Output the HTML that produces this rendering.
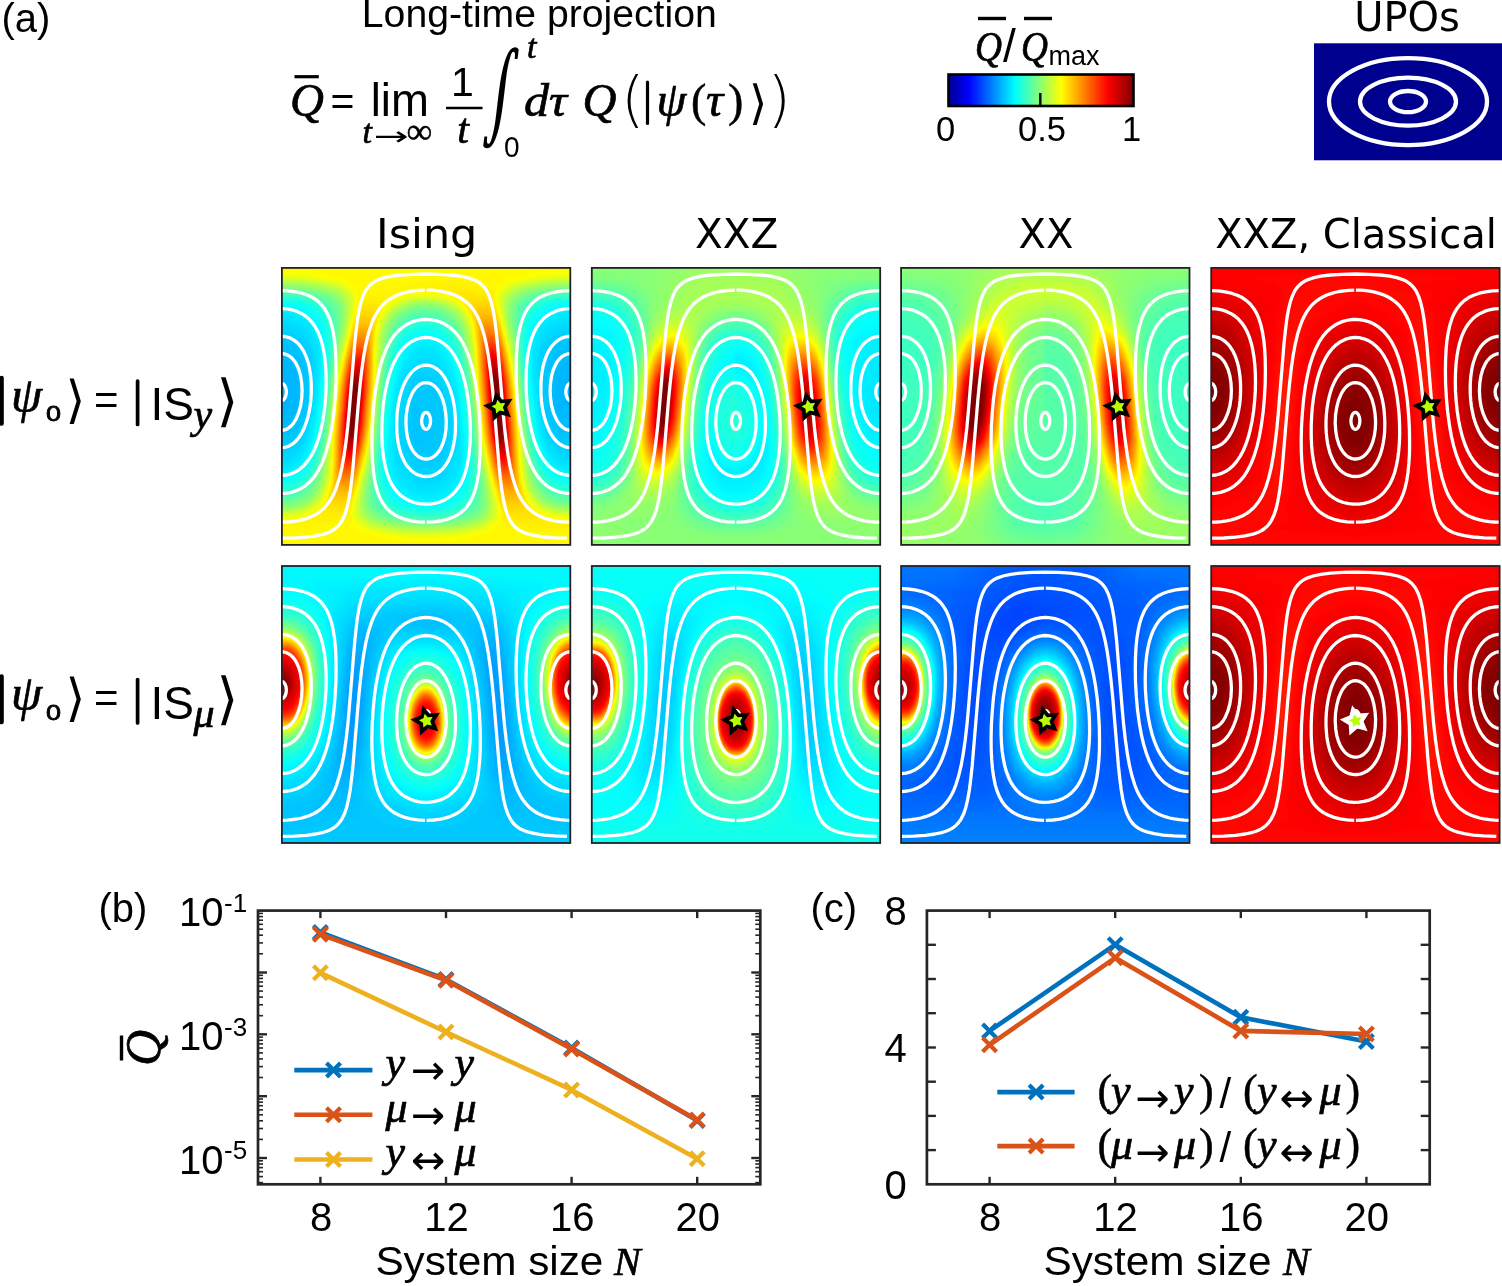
<!DOCTYPE html><html><head><meta charset="utf-8"><title>Long-time projection</title>
<style>html,body{margin:0;padding:0;background:#fff}body{position:relative;width:1502px;height:1286px;overflow:hidden}svg{position:absolute;left:0;top:0;display:block}.hm{position:absolute;width:288.4px;height:277.0px;overflow:hidden;background:#888}.hm div{position:absolute;left:-3px;top:-14px;width:294.4px;filter:url(#jet)}.hm p{margin:0;padding:0;width:100%}text{fill:#000}.s{font-family:"Liberation Sans",sans-serif}.d{font-family:"DejaVu Sans","Liberation Sans",sans-serif}.m{font-family:"Liberation Serif",serif;font-style:italic;stroke:#000;stroke-width:.7px}.r{font-family:"Liberation Serif",serif;stroke:#000;stroke-width:.5px}</style></head><body>
<div class="hm" style="left:281.9px;top:267.9px"><div><p style="height:20.93px;background:linear-gradient(90deg,#a1a1a1 0,#a1a1a1 100%)"></p><p style="height:6.92px;background:linear-gradient(90deg,#969696 0,#999999 9.4%,#a1a1a1 17.7%,#a1a1a1 50%,#a1a1a1 82.3%,#999999 90.6%,#969696 100%)"></p><p style="height:6.92px;background:linear-gradient(90deg,#848484 0,#858585 6.8%,#8c8c8c 14.1%,#939393 18.8%,#a0a0a0 24%,#a3a3a3 59.4%,#a0a0a0 76%,#939393 81.2%,#8c8c8c 85.9%,#858585 93.2%,#848484 100%)"></p><p style="height:6.92px;background:linear-gradient(90deg,#747474 0,#777777 7.8%,#818181 16.1%,#8a8a8a 20.3%,#a1a1a1 26.6%,#a2a2a2 49.5%,#a5a5a5 64.6%,#a2a2a2 73.4%,#898989 80.2%,#7d7d7d 86.5%,#767676 93.8%,#747474 100%)"></p><p style="height:6.92px;background:linear-gradient(90deg,#666666 0,#696969 7.3%,#797979 16.7%,#848484 20.8%,#a3a3a3 27.6%,#a3a3a3 39.1%,#969696 44.8%,#929292 49.5%,#979797 54.7%,#a5a5a5 60.9%,#a7a7a7 67.2%,#a5a5a5 72.4%,#848484 79.2%,#787878 83.9%,#696969 92.7%,#666666 100%)"></p><p style="height:6.92px;background:linear-gradient(90deg,#5f5f5f 0,#616161 7.8%,#686868 12.5%,#7f7f7f 20.8%,#878787 22.4%,#a0a0a0 26.6%,#a5a5a5 28.1%,#a5a5a5 33.9%,#a3a3a3 35.4%,#888888 43.2%,#828282 46.4%,#808080 49.5%,#828282 53.1%,#868686 55.7%,#909090 58.9%,#a6a6a6 64.1%,#a9a9a9 65.6%,#aaaaaa 68.8%,#a9a9a9 71.9%,#a6a6a6 72.9%,#9a9a9a 75%,#888888 77.6%,#808080 79.2%,#757575 82.3%,#686868 87.5%,#616161 92.2%,#5f5f5f 100%)"></p><p style="height:6.92px;background:linear-gradient(90deg,#5a5a5a 0,#5d5d5d 7.8%,#646464 13.5%,#7d7d7d 20.8%,#868686 22.4%,#a1a1a1 26%,#a8a8a8 28.1%,#a8a8a8 32.3%,#a6a6a6 33.3%,#a3a3a3 34.4%,#898989 39.1%,#818181 41.1%,#797979 44.8%,#767676 49.5%,#797979 54.2%,#818181 58.3%,#8b8b8b 60.9%,#aaaaaa 66.1%,#aeaeae 67.7%,#afafaf 69.8%,#aeaeae 71.9%,#a9a9a9 73.4%,#9e9e9e 75%,#888888 77.6%,#7f7f7f 79.2%,#767676 81.2%,#646464 86.5%,#5d5d5d 92.2%,#5a5a5a 100%)"></p><p style="height:6.92px;background:linear-gradient(90deg,#575757 0,#5a5a5a 8.3%,#636363 14.6%,#7d7d7d 20.8%,#878787 22.4%,#a6a6a6 26%,#acacac 27.6%,#acacac 30.7%,#a9a9a9 32.3%,#a4a4a4 33.3%,#878787 37.5%,#797979 41.1%,#707070 45.3%,#6d6d6d 49.5%,#717171 54.7%,#7c7c7c 59.4%,#8a8a8a 62.5%,#adadad 67.2%,#b3b3b3 68.8%,#b4b4b4 70.8%,#b3b3b3 72.4%,#adadad 74%,#8a8a8a 77.6%,#838383 78.6%,#777777 80.7%,#646464 84.9%,#5f5f5f 87.5%,#5b5b5b 91.1%,#575757 100%)"></p><p style="height:6.92px;background:linear-gradient(90deg,#555555 0,#585858 8.9%,#5d5d5d 13%,#636363 15.6%,#757575 19.3%,#828282 21.4%,#8a8a8a 22.4%,#9f9f9f 24.5%,#adadad 26%,#b1b1b1 28.1%,#b1b1b1 30.2%,#acacac 31.8%,#868686 36.5%,#797979 39.1%,#717171 41.7%,#696969 44.8%,#666666 47.4%,#656565 51%,#686868 54.2%,#727272 58.3%,#7e7e7e 61.5%,#8e8e8e 64.1%,#b4b4b4 68.2%,#bababa 69.8%,#bbbbbb 71.4%,#b9b9b9 72.9%,#b4b4b4 74%,#a6a6a6 75.5%,#8e8e8e 77.6%,#858585 78.6%,#777777 80.7%,#636363 84.4%,#5d5d5d 87%,#585858 91.1%,#555555 100%)"></p><p style="height:6.92px;background:linear-gradient(90deg,#535353 0,#575757 9.4%,#5d5d5d 13.5%,#636363 16.1%,#6c6c6c 17.7%,#858585 21.4%,#8e8e8e 22.4%,#b1b1b1 25.5%,#b8b8b8 27.1%,#b8b8b8 28.1%,#b7b7b7 29.7%,#b4b4b4 30.7%,#a7a7a7 32.3%,#919191 34.4%,#858585 35.9%,#767676 38.5%,#686868 42.2%,#636363 44.8%,#606060 48.4%,#616161 52.6%,#646464 55.7%,#6b6b6b 58.3%,#7b7b7b 62%,#929292 65.1%,#aeaeae 67.7%,#bcbcbc 69.3%,#c1c1c1 70.3%,#c3c3c3 71.9%,#c1c1c1 72.9%,#b9b9b9 74.5%,#aeaeae 75.5%,#939393 77.6%,#898989 78.6%,#6d6d6d 82.3%,#646464 83.9%,#5d5d5d 86.5%,#575757 90.6%,#535353 100%)"></p><p style="height:6.92px;background:linear-gradient(90deg,#515151 0,#525252 5.2%,#565656 9.9%,#5b5b5b 13.5%,#626262 16.1%,#6b6b6b 17.7%,#898989 21.4%,#949494 22.4%,#afafaf 24.5%,#bababa 25.5%,#bfbfbf 26.6%,#c0c0c0 27.6%,#bfbfbf 29.2%,#bbbbbb 30.2%,#ababab 31.8%,#989898 33.3%,#8a8a8a 34.9%,#787878 37.5%,#676767 40.6%,#606060 43.8%,#5d5d5d 47.9%,#5d5d5d 52.6%,#626262 56.8%,#6b6b6b 59.9%,#7e7e7e 63%,#999999 66.1%,#b3b3b3 68.2%,#c3c3c3 69.8%,#cccccc 71.9%,#cbcbcb 72.9%,#c2c2c2 74.5%,#b7b7b7 75.5%,#9a9a9a 77.6%,#898989 79.2%,#6c6c6c 82.3%,#636363 83.9%,#5b5b5b 86.5%,#565656 90.1%,#525252 94.8%,#515151 100%)"></p><p style="height:6.92px;background:linear-gradient(90deg,#505050 0,#515151 5.2%,#545454 9.9%,#5a5a5a 13.5%,#626262 16.1%,#6b6b6b 17.7%,#8a8a8a 20.8%,#9b9b9b 22.4%,#b8b8b8 24.5%,#c3c3c3 25.5%,#c8c8c8 26.6%,#cacaca 27.6%,#c8c8c8 28.6%,#c3c3c3 29.7%,#b8b8b8 30.7%,#9c9c9c 32.8%,#888888 34.9%,#6f6f6f 38%,#656565 40.1%,#5e5e5e 43.2%,#5a5a5a 47.9%,#5b5b5b 53.1%,#5f5f5f 57.3%,#686868 60.4%,#757575 62.5%,#878787 64.6%,#9c9c9c 66.7%,#c0c0c0 69.3%,#cccccc 70.3%,#d3d3d3 71.4%,#d7d7d7 72.4%,#d3d3d3 73.4%,#cccccc 74.5%,#b9b9b9 76%,#a1a1a1 77.6%,#888888 79.7%,#6d6d6d 82.3%,#636363 83.9%,#5b5b5b 86.5%,#545454 90.1%,#515151 94.8%,#505050 100%)"></p><p style="height:6.92px;background:linear-gradient(90deg,#4f4f4f 0,#505050 5.7%,#545454 10.4%,#5a5a5a 13.5%,#636363 16.1%,#6d6d6d 17.7%,#8f8f8f 20.8%,#a3a3a3 22.4%,#bbbbbb 24%,#c9c9c9 25%,#d1d1d1 26%,#d4d4d4 27.1%,#d2d2d2 28.1%,#cccccc 29.2%,#c0c0c0 30.2%,#a2a2a2 32.3%,#8b8b8b 34.4%,#6f6f6f 37.5%,#646464 39.6%,#5d5d5d 42.7%,#585858 47.4%,#595959 53.1%,#5e5e5e 57.8%,#676767 60.9%,#757575 63%,#898989 65.1%,#a1a1a1 67.2%,#c7c7c7 69.8%,#d5d5d5 70.8%,#e0e0e0 72.4%,#e1e1e1 72.9%,#dadada 74%,#d1d1d1 75%,#c2c2c2 76%,#a8a8a8 77.6%,#8d8d8d 79.7%,#6f6f6f 82.3%,#646464 83.9%,#5a5a5a 86.5%,#545454 89.6%,#505050 94.3%,#4f4f4f 100%)"></p><p style="height:6.92px;background:linear-gradient(90deg,#4e4e4e 0,#4f4f4f 5.7%,#535353 10.4%,#5a5a5a 13.5%,#646464 16.1%,#6f6f6f 17.7%,#7b7b7b 18.8%,#a3a3a3 21.9%,#c5c5c5 24%,#d4d4d4 25%,#dcdcdc 26%,#dfdfdf 27.1%,#dadada 28.1%,#d1d1d1 29.2%,#a2a2a2 32.3%,#797979 35.9%,#6c6c6c 37.5%,#646464 39.1%,#5b5b5b 42.7%,#575757 47.4%,#575757 53.6%,#5d5d5d 58.3%,#676767 61.5%,#757575 63.5%,#8d8d8d 65.6%,#a7a7a7 67.7%,#d8d8d8 70.8%,#e3e3e3 71.9%,#ebebeb 72.9%,#e9e9e9 73.4%,#dbdbdb 75%,#a8a8a8 78.1%,#7e7e7e 81.2%,#717171 82.3%,#656565 83.9%,#5a5a5a 86.5%,#535353 89.6%,#4f4f4f 94.3%,#4e4e4e 100%)"></p><p style="height:6.92px;background:linear-gradient(90deg,#4d4d4d 0,#4e4e4e 5.2%,#525252 9.9%,#585858 13%,#636363 15.6%,#6d6d6d 17.2%,#787878 18.2%,#ababab 21.9%,#d7d7d7 24.5%,#e3e3e3 25.5%,#eaeaea 26.6%,#e5e5e5 27.6%,#dbdbdb 28.6%,#a9a9a9 31.8%,#7b7b7b 35.4%,#6d6d6d 37%,#646464 38.5%,#5f5f5f 40.1%,#5a5a5a 42.2%,#555555 46.9%,#565656 53.6%,#5c5c5c 58.9%,#686868 62%,#777777 64.1%,#838383 65.1%,#adadad 68.2%,#e1e1e1 71.4%,#f2f2f2 72.9%,#f4f4f4 73.4%,#eaeaea 74.5%,#dddddd 75.5%,#afafaf 78.1%,#7a7a7a 81.8%,#6f6f6f 82.8%,#676767 83.9%,#5a5a5a 86.5%,#535353 89.6%,#4f4f4f 94.3%,#4d4d4d 100%)"></p><p style="height:6.92px;background:linear-gradient(90deg,#4d4d4d 0,#4e4e4e 5.7%,#535353 10.4%,#5a5a5a 13.5%,#646464 15.6%,#707070 17.2%,#7c7c7c 18.2%,#b2b2b2 21.9%,#e1e1e1 24.5%,#ededed 25.5%,#f2f2f2 26%,#f4f4f4 26.6%,#e5e5e5 28.1%,#b1b1b1 31.2%,#7e7e7e 34.9%,#6f6f6f 36.5%,#636363 38.5%,#5d5d5d 40.1%,#585858 42.2%,#545454 47.4%,#555555 54.7%,#5c5c5c 59.4%,#616161 60.9%,#686868 62.5%,#797979 64.6%,#868686 65.6%,#b3b3b3 68.8%,#eaeaea 71.9%,#fcfcfc 73.4%,#f9f9f9 74%,#e5e5e5 75.5%,#b5b5b5 78.1%,#7d7d7d 81.8%,#717171 82.8%,#656565 84.4%,#5a5a5a 86.5%,#535353 89.6%,#4e4e4e 94.3%,#4d4d4d 100%)"></p><p style="height:6.92px;background:linear-gradient(90deg,#4d4d4d 0,#4e4e4e 5.7%,#535353 10.4%,#5b5b5b 13.5%,#666666 15.6%,#737373 17.2%,#808080 18.2%,#b9b9b9 21.9%,#e9e9e9 24.5%,#fcfcfc 26%,#fbfbfb 26.6%,#e7e7e7 28.1%,#b8b8b8 30.7%,#828282 34.4%,#717171 35.9%,#636363 38%,#5d5d5d 39.6%,#585858 41.7%,#535353 46.9%,#545454 54.2%,#5a5a5a 59.4%,#5f5f5f 60.9%,#666666 62.5%,#727272 64.1%,#7c7c7c 65.1%,#8a8a8a 66.1%,#bababa 69.3%,#eaeaea 71.9%,#f9f9f9 72.9%,#ffffff 73.4%,#ffffff 74%,#fbfbfb 74.5%,#ececec 75.5%,#bbbbbb 78.1%,#818181 81.8%,#747474 82.8%,#666666 84.4%,#5b5b5b 86.5%,#535353 89.6%,#4e4e4e 94.3%,#4d4d4d 100%)"></p><p style="height:6.92px;background:linear-gradient(90deg,#4d4d4d 0,#4e4e4e 5.7%,#525252 9.9%,#5a5a5a 13%,#646464 15.1%,#717171 16.7%,#7c7c7c 17.7%,#bfbfbf 21.9%,#f0f0f0 24.5%,#ffffff 25.5%,#ffffff 26%,#fefefe 26.6%,#f0f0f0 27.6%,#bfbfbf 30.2%,#7f7f7f 34.4%,#747474 35.4%,#676767 37%,#5f5f5f 38.5%,#5a5a5a 40.1%,#535353 45.3%,#525252 53.1%,#575757 58.3%,#5c5c5c 60.4%,#626262 62%,#6f6f6f 64.1%,#7f7f7f 65.6%,#c0c0c0 69.8%,#e8e8e8 71.9%,#f9f9f9 72.9%,#ffffff 73.4%,#ffffff 74.5%,#fafafa 75%,#f2f2f2 75.5%,#c0c0c0 78.1%,#848484 81.8%,#717171 83.3%,#646464 84.9%,#5a5a5a 87%,#525252 90.1%,#4e4e4e 94.3%,#4d4d4d 100%)"></p><p style="height:6.92px;background:linear-gradient(90deg,#4d4d4d 0,#4e4e4e 5.7%,#525252 9.9%,#5a5a5a 13%,#666666 15.1%,#737373 16.7%,#7f7f7f 17.7%,#c4c4c4 21.9%,#eeeeee 24%,#fefefe 25%,#ffffff 25.5%,#ffffff 26.6%,#efefef 27.6%,#bcbcbc 30.2%,#8a8a8a 33.3%,#7c7c7c 34.4%,#717171 35.4%,#666666 37%,#5e5e5e 38.5%,#595959 40.1%,#525252 45.3%,#525252 53.1%,#565656 58.3%,#5a5a5a 60.4%,#606060 62%,#6d6d6d 64.1%,#777777 65.1%,#838383 66.1%,#bdbdbd 69.8%,#f0f0f0 72.4%,#ffffff 73.4%,#ffffff 75%,#eeeeee 76%,#c4c4c4 78.1%,#888888 81.8%,#737373 83.3%,#666666 84.9%,#5b5b5b 87%,#525252 90.1%,#4e4e4e 94.3%,#4d4d4d 100%)"></p><p style="height:6.92px;background:linear-gradient(90deg,#4d4d4d 0,#4e4e4e 5.7%,#535353 9.9%,#5c5c5c 13%,#686868 15.1%,#767676 16.7%,#838383 17.7%,#bfbfbf 21.4%,#f2f2f2 24%,#fafafa 24.5%,#ffffff 25%,#fdfdfd 26.6%,#ececec 27.6%,#c2c2c2 29.7%,#878787 33.3%,#797979 34.4%,#6f6f6f 35.4%,#646464 37%,#5d5d5d 38.5%,#585858 40.1%,#525252 45.3%,#525252 53.6%,#565656 58.9%,#5b5b5b 60.9%,#616161 62.5%,#6f6f6f 64.6%,#797979 65.6%,#878787 66.7%,#c2c2c2 70.3%,#ececec 72.4%,#fefefe 73.4%,#ffffff 75%,#fbfbfb 75.5%,#f2f2f2 76%,#bfbfbf 78.6%,#838383 82.3%,#767676 83.3%,#686868 84.9%,#5c5c5c 87%,#535353 90.1%,#4e4e4e 94.3%,#4d4d4d 100%)"></p><p style="height:6.92px;background:linear-gradient(90deg,#4d4d4d 0,#4e4e4e 5.2%,#525252 9.4%,#5b5b5b 12.5%,#666666 14.6%,#737373 16.1%,#868686 17.7%,#c2c2c2 21.4%,#f6f6f6 24%,#fefefe 24.5%,#ffffff 25%,#ffffff 26%,#fafafa 26.6%,#f2f2f2 27.1%,#bebebe 29.7%,#8c8c8c 32.8%,#7d7d7d 33.9%,#6d6d6d 35.4%,#606060 37.5%,#5a5a5a 39.1%,#565656 41.1%,#515151 46.9%,#525252 55.2%,#595959 60.4%,#626262 63%,#6d6d6d 64.6%,#777777 65.6%,#848484 66.7%,#bebebe 70.3%,#f2f2f2 72.9%,#fafafa 73.4%,#ffffff 74%,#ffffff 75%,#fefefe 75.5%,#f6f6f6 76%,#c2c2c2 78.6%,#868686 82.3%,#737373 83.9%,#666666 85.4%,#5b5b5b 87.5%,#525252 90.6%,#4e4e4e 94.8%,#4d4d4d 100%)"></p><p style="height:6.92px;background:linear-gradient(90deg,#4e4e4e 0,#4f4f4f 5.2%,#535353 9.4%,#5c5c5c 12.5%,#686868 14.6%,#767676 16.1%,#828282 17.2%,#bdbdbd 20.8%,#f0f0f0 23.4%,#ffffff 24.5%,#ffffff 26%,#eeeeee 27.1%,#c4c4c4 29.2%,#818181 33.3%,#747474 34.4%,#6b6b6b 35.4%,#5f5f5f 37.5%,#595959 39.1%,#555555 41.1%,#515151 46.9%,#525252 55.2%,#585858 60.4%,#5d5d5d 62%,#646464 63.5%,#6f6f6f 65.1%,#7a7a7a 66.1%,#888888 67.2%,#bbbbbb 70.3%,#eeeeee 72.9%,#ffffff 74%,#ffffff 75.5%,#f0f0f0 76.6%,#bdbdbd 79.2%,#828282 82.8%,#767676 83.9%,#686868 85.4%,#5c5c5c 87.5%,#535353 90.6%,#4f4f4f 94.8%,#4e4e4e 100%)"></p><p style="height:6.92px;background:linear-gradient(90deg,#4e4e4e 0,#505050 5.2%,#545454 9.4%,#5e5e5e 12.5%,#6a6a6a 14.6%,#787878 16.1%,#868686 17.2%,#c0c0c0 20.8%,#f2f2f2 23.4%,#fafafa 24%,#ffffff 24.5%,#ffffff 25.5%,#fafafa 26%,#e9e9e9 27.1%,#c0c0c0 29.2%,#7e7e7e 33.3%,#6d6d6d 34.9%,#606060 37%,#5a5a5a 38.5%,#565656 40.6%,#515151 46.4%,#525252 55.2%,#545454 58.3%,#595959 60.9%,#636363 63.5%,#6d6d6d 65.1%,#777777 66.1%,#858585 67.2%,#bfbfbf 70.8%,#e9e9e9 72.9%,#fafafa 74%,#ffffff 74.5%,#ffffff 75.5%,#fafafa 76%,#f2f2f2 76.6%,#c0c0c0 79.2%,#868686 82.8%,#787878 83.9%,#6a6a6a 85.4%,#5e5e5e 87.5%,#545454 90.6%,#505050 94.8%,#4e4e4e 100%)"></p><p style="height:6.92px;background:linear-gradient(90deg,#4f4f4f 0,#505050 4.7%,#555555 8.9%,#5d5d5d 12%,#696969 14.1%,#767676 15.6%,#828282 16.7%,#bababa 20.3%,#ebebeb 22.9%,#fafafa 24%,#ffffff 24.5%,#ffffff 25%,#fbfbfb 25.5%,#ececec 26.6%,#bbbbbb 29.2%,#898989 32.3%,#7b7b7b 33.3%,#6b6b6b 34.9%,#5f5f5f 37%,#5a5a5a 38.5%,#555555 40.6%,#515151 46.4%,#525252 55.2%,#585858 60.9%,#5d5d5d 62.5%,#646464 64.1%,#707070 65.6%,#7b7b7b 66.7%,#898989 67.7%,#bababa 70.8%,#ececec 73.4%,#fbfbfb 74.5%,#ffffff 75%,#ffffff 75.5%,#fafafa 76%,#ebebeb 77.1%,#bababa 79.7%,#828282 83.3%,#767676 84.4%,#686868 85.9%,#5d5d5d 88%,#555555 91.1%,#505050 95.3%,#4f4f4f 100%)"></p><p style="height:6.92px;background:linear-gradient(90deg,#515151 0,#525252 4.7%,#565656 8.9%,#5d5d5d 11.5%,#6b6b6b 14.1%,#737373 15.1%,#7f7f7f 16.1%,#b4b4b4 19.8%,#eaeaea 22.9%,#fbfbfb 24.5%,#f8f8f8 25%,#e5e5e5 26.6%,#b5b5b5 29.2%,#7e7e7e 32.8%,#6e6e6e 34.4%,#606060 36.5%,#5b5b5b 38%,#565656 40.1%,#515151 46.4%,#525252 55.7%,#595959 61.5%,#5e5e5e 63%,#666666 64.6%,#787878 66.7%,#858585 67.7%,#b5b5b5 70.8%,#e5e5e5 73.4%,#f9f9f9 75%,#fcfcfc 75.5%,#eaeaea 77.1%,#b4b4b4 80.2%,#7f7f7f 83.9%,#737373 84.9%,#6b6b6b 85.9%,#5d5d5d 88.5%,#565656 91.1%,#525252 95.3%,#515151 100%)"></p><p style="height:6.92px;background:linear-gradient(90deg,#525252 0,#535353 4.7%,#575757 8.3%,#5d5d5d 10.9%,#6a6a6a 13.5%,#767676 15.1%,#989898 17.7%,#b5b5b5 19.8%,#e1e1e1 22.4%,#f1f1f1 24%,#f2f2f2 24.5%,#e9e9e9 25.5%,#dcdcdc 26.6%,#afafaf 29.2%,#7a7a7a 32.8%,#6b6b6b 34.4%,#5f5f5f 36.5%,#565656 40.1%,#515151 46.9%,#525252 55.7%,#595959 61.5%,#5d5d5d 63%,#656565 64.6%,#757575 66.7%,#818181 67.7%,#afafaf 70.8%,#d3d3d3 72.9%,#e4e4e4 74%,#f4f4f4 75.5%,#f2f2f2 76%,#e1e1e1 77.6%,#b5b5b5 80.2%,#9f9f9f 81.8%,#767676 84.9%,#6a6a6a 86.5%,#5d5d5d 89.1%,#575757 91.7%,#535353 95.3%,#525252 100%)"></p><p style="height:6.92px;background:linear-gradient(90deg,#545454 0,#555555 4.2%,#585858 7.8%,#5e5e5e 10.4%,#696969 13%,#747474 14.6%,#999999 17.7%,#aeaeae 19.3%,#d7d7d7 21.9%,#e1e1e1 22.9%,#e8e8e8 24%,#e3e3e3 25%,#dadada 26%,#cacaca 27.1%,#a7a7a7 29.2%,#777777 32.8%,#696969 34.4%,#5f5f5f 36.5%,#565656 40.6%,#525252 47.4%,#535353 55.7%,#595959 61.5%,#636363 64.6%,#727272 66.7%,#7e7e7e 67.7%,#a8a8a8 70.8%,#dbdbdb 74%,#e5e5e5 75%,#ebebeb 76%,#e3e3e3 77.1%,#d8d8d8 78.1%,#aeaeae 80.7%,#a0a0a0 81.8%,#7a7a7a 84.9%,#6c6c6c 86.5%,#626262 88.5%,#595959 91.7%,#555555 95.3%,#545454 100%)"></p><p style="height:6.92px;background:linear-gradient(90deg,#565656 0,#565656 3.6%,#5a5a5a 7.3%,#606060 10.4%,#696969 12.5%,#747474 14.1%,#949494 17.2%,#a7a7a7 18.8%,#c6c6c6 20.8%,#d3d3d3 21.9%,#dadada 22.9%,#dddddd 24%,#d8d8d8 25%,#cfcfcf 26%,#a0a0a0 29.2%,#747474 32.8%,#686868 34.4%,#606060 35.9%,#575757 40.1%,#535353 46.9%,#535353 55.2%,#595959 61.5%,#636363 64.6%,#707070 66.7%,#878787 68.8%,#a1a1a1 70.8%,#d1d1d1 74%,#dadada 75%,#e1e1e1 76%,#e0e0e0 76.6%,#d5d5d5 78.1%,#c8c8c8 79.2%,#a8a8a8 81.2%,#959595 82.8%,#747474 85.9%,#696969 87.5%,#606060 89.6%,#5a5a5a 92.7%,#565656 96.4%,#565656 100%)"></p><p style="height:6.92px;background:linear-gradient(90deg,#585858 0,#595959 3.6%,#5c5c5c 7.3%,#626262 9.9%,#696969 12%,#747474 13.5%,#969696 17.2%,#a1a1a1 18.2%,#bebebe 20.3%,#cacaca 21.4%,#d0d0d0 22.4%,#d2d2d2 23.4%,#cdcdcd 25%,#c5c5c5 26%,#999999 29.2%,#727272 32.8%,#676767 34.4%,#606060 35.9%,#585858 40.1%,#535353 47.4%,#545454 55.2%,#5a5a5a 61.5%,#626262 64.6%,#6e6e6e 66.7%,#828282 68.8%,#9a9a9a 70.8%,#c0c0c0 73.4%,#cccccc 74.5%,#d3d3d3 75.5%,#d7d7d7 76.6%,#d3d3d3 77.6%,#cccccc 78.6%,#b9b9b9 80.2%,#a3a3a3 81.8%,#979797 82.8%,#757575 86.5%,#6a6a6a 88%,#626262 90.1%,#5c5c5c 92.7%,#595959 96.4%,#585858 100%)"></p><p style="height:6.92px;background:linear-gradient(90deg,#5b5b5b 0,#5f5f5f 6.8%,#646464 9.4%,#696969 10.9%,#7d7d7d 14.1%,#8d8d8d 16.1%,#979797 17.2%,#b1b1b1 19.3%,#c1c1c1 20.8%,#c6c6c6 21.9%,#c8c8c8 22.9%,#c5c5c5 24.5%,#c0c0c0 25.5%,#b4b4b4 26.6%,#989898 28.6%,#828282 30.7%,#696969 33.9%,#606060 35.9%,#595959 40.1%,#555555 46.9%,#555555 54.7%,#5a5a5a 60.9%,#626262 64.6%,#6d6d6d 66.7%,#7f7f7f 68.8%,#939393 70.8%,#b6b6b6 73.4%,#c2c2c2 74.5%,#cbcbcb 76%,#cccccc 77.1%,#c4c4c4 79.2%,#b3b3b3 80.7%,#999999 82.8%,#8f8f8f 83.9%,#7e7e7e 85.9%,#6a6a6a 89.1%,#646464 90.6%,#5f5f5f 93.2%,#5b5b5b 100%)"></p><p style="height:6.92px;background:linear-gradient(90deg,#5f5f5f 0,#626262 6.2%,#666666 8.3%,#6c6c6c 9.9%,#7b7b7b 13%,#888888 15.1%,#959595 16.7%,#acacac 18.8%,#b9b9b9 20.3%,#bdbdbd 21.4%,#bfbfbf 22.9%,#bebebe 24%,#b6b6b6 25.5%,#ababab 26.6%,#919191 28.6%,#7f7f7f 30.7%,#6a6a6a 33.9%,#616161 35.9%,#5a5a5a 40.6%,#565656 47.4%,#565656 54.7%,#5b5b5b 60.9%,#636363 64.6%,#6d6d6d 66.7%,#7c7c7c 68.8%,#8e8e8e 70.8%,#b9b9b9 74.5%,#c1c1c1 76%,#c3c3c3 77.1%,#c1c1c1 78.6%,#bcbcbc 79.7%,#aeaeae 81.2%,#979797 83.3%,#898989 84.9%,#7c7c7c 87%,#6c6c6c 90.1%,#666666 91.7%,#626262 93.8%,#5f5f5f 100%)"></p><p style="height:6.92px;background:linear-gradient(90deg,#646464 0,#676767 5.2%,#777777 10.9%,#898989 14.6%,#b1b1b1 19.3%,#b6b6b6 20.8%,#b7b7b7 22.4%,#b5b5b5 24%,#b1b1b1 25%,#a3a3a3 26.6%,#8c8c8c 28.6%,#808080 30.2%,#6b6b6b 33.9%,#626262 36.5%,#5b5b5b 41.1%,#575757 47.4%,#585858 54.2%,#5c5c5c 59.9%,#636363 64.1%,#6e6e6e 66.7%,#7a7a7a 68.8%,#898989 70.8%,#a6a6a6 73.4%,#b4b4b4 75%,#b8b8b8 76%,#bbbbbb 77.6%,#bababa 79.2%,#b4b4b4 80.7%,#8a8a8a 85.4%,#777777 89.1%,#6d6d6d 92.2%,#676767 94.8%,#646464 100%)"></p><p style="height:6.92px;background:linear-gradient(90deg,#6e6e6e 0,#707070 5.2%,#7a7a7a 9.9%,#818181 12%,#898989 13.5%,#ababab 18.2%,#afafaf 19.8%,#b0b0b0 22.4%,#afafaf 23.4%,#aaaaaa 25%,#898989 28.6%,#7b7b7b 30.7%,#727272 32.8%,#646464 36.5%,#5d5d5d 40.6%,#5a5a5a 46.4%,#595959 52.6%,#5d5d5d 58.9%,#646464 63.5%,#747474 67.7%,#868686 70.8%,#acacac 75%,#b2b2b2 76.6%,#b4b4b4 78.1%,#b3b3b3 80.2%,#aeaeae 81.8%,#8a8a8a 86.5%,#828282 88%,#7a7a7a 90.1%,#707070 94.8%,#6e6e6e 100%)"></p><p style="height:6.92px;background:linear-gradient(90deg,#767676 0,#787878 4.7%,#7f7f7f 8.9%,#888888 11.5%,#a7a7a7 17.2%,#ababab 18.8%,#ababab 22.4%,#a6a6a6 24.5%,#878787 28.6%,#7e7e7e 30.2%,#737373 32.8%,#656565 37.5%,#606060 41.1%,#5d5d5d 45.8%,#5c5c5c 51.6%,#5e5e5e 56.8%,#646464 62%,#747474 67.2%,#848484 70.8%,#a9a9a9 75.5%,#aeaeae 77.1%,#afafaf 79.2%,#aeaeae 81.2%,#aaaaaa 82.8%,#898989 88.5%,#7f7f7f 91.1%,#787878 95.3%,#767676 100%)"></p><p style="height:6.92px;background:linear-gradient(90deg,#808080 0,#828282 4.2%,#878787 7.3%,#8f8f8f 9.9%,#a2a2a2 14.6%,#a6a6a6 16.1%,#a7a7a7 22.4%,#a2a2a2 24.5%,#878787 28.6%,#7f7f7f 30.2%,#757575 33.3%,#696969 38.5%,#646464 41.1%,#616161 45.3%,#616161 54.7%,#676767 60.4%,#757575 66.7%,#7e7e7e 69.3%,#858585 70.8%,#a6a6a6 76%,#a9a9a9 77.1%,#aaaaaa 80.2%,#a9a9a9 83.3%,#a6a6a6 84.9%,#909090 90.1%,#868686 93.2%,#828282 96.4%,#818181 100%)"></p><p style="height:6.92px;background:linear-gradient(90deg,#939393 0,#959595 5.2%,#a4a4a4 12%,#a4a4a4 23.4%,#868686 29.7%,#7b7b7b 33.3%,#6b6b6b 42.7%,#676767 50%,#6b6b6b 57.8%,#7c7c7c 67.2%,#868686 70.3%,#a5a5a5 76.6%,#a7a7a7 81.8%,#a5a5a5 88%,#969696 94.8%,#939393 100%)"></p><p style="height:6.92px;background:linear-gradient(90deg,#a2a2a2 0,#a3a3a3 17.2%,#a1a1a1 24.5%,#8a8a8a 30.7%,#828282 34.4%,#787878 42.2%,#747474 50%,#787878 57.8%,#828282 65.6%,#8a8a8a 69.3%,#a2a2a2 75.5%,#a2a2a2 76%,#a5a5a5 83.9%,#a3a3a3 100%)"></p><p style="height:6.92px;background:linear-gradient(90deg,#a2a2a2 0,#a0a0a0 27.1%,#939393 32.3%,#8c8c8c 36.5%,#868686 43.2%,#848484 50%,#868686 56.8%,#8c8c8c 63.5%,#939393 67.7%,#a0a0a0 72.9%,#a3a3a3 85.9%,#a3a3a3 100%)"></p><p style="height:6.92px;background:linear-gradient(90deg,#a1a1a1 0,#a1a1a1 33.3%,#999999 41.1%,#969696 50%,#999999 58.9%,#a1a1a1 66.7%,#a1a1a1 100%)"></p><p style="height:20.93px;background:linear-gradient(90deg,#a1a1a1 0,#a1a1a1 100%)"></p></div></div>
<div class="hm" style="left:591.8px;top:267.9px"><div><p style="height:20.93px;background:linear-gradient(90deg,#828282 0,#828282 21.4%,#868686 37.5%,#878787 50%,#868686 62.5%,#828282 78.6%,#828282 100%)"></p><p style="height:6.92px;background:linear-gradient(90deg,#7f7f7f 0,#828282 22.9%,#888888 38%,#888888 50%,#888888 62%,#828282 77.1%,#7f7f7f 100%)"></p><p style="height:6.92px;background:linear-gradient(90deg,#797979 0,#7a7a7a 7.8%,#818181 18.8%,#898989 36.5%,#8a8a8a 54.7%,#898989 64.6%,#7a7a7a 91.7%,#797979 100%)"></p><p style="height:6.92px;background:linear-gradient(90deg,#727272 0,#747474 7.3%,#818181 20.8%,#898989 34.4%,#8b8b8b 58.9%,#898989 65.6%,#828282 78.6%,#747474 92.2%,#727272 100%)"></p><p style="height:6.92px;background:linear-gradient(90deg,#6b6b6b 0,#6e6e6e 8.3%,#818181 21.4%,#898989 32.3%,#8b8b8b 62%,#898989 68.2%,#828282 78.1%,#6f6f6f 91.1%,#6b6b6b 100%)"></p><p style="height:6.92px;background:linear-gradient(90deg,#666666 0,#676767 5.2%,#6b6b6b 9.9%,#717171 13.5%,#828282 21.9%,#898989 30.7%,#8a8a8a 37%,#878787 50.5%,#8b8b8b 65.6%,#898989 70.3%,#838383 77.6%,#707070 87%,#6a6a6a 90.6%,#676767 95.3%,#666666 100%)"></p><p style="height:6.92px;background:linear-gradient(90deg,#626262 0,#636363 5.7%,#676767 10.4%,#6f6f6f 14.6%,#848484 22.4%,#8b8b8b 29.7%,#898989 39.1%,#828282 45.3%,#808080 50%,#828282 54.7%,#898989 60.9%,#8d8d8d 67.7%,#8b8b8b 71.9%,#858585 77.1%,#6f6f6f 85.4%,#676767 90.1%,#636363 94.8%,#626262 100%)"></p><p style="height:6.92px;background:linear-gradient(90deg,#606060 0,#616161 7.3%,#666666 11.5%,#6f6f6f 15.6%,#858585 22.4%,#8e8e8e 28.6%,#8f8f8f 31.2%,#8a8a8a 36.5%,#7c7c7c 44.3%,#787878 50%,#7b7b7b 55.2%,#8b8b8b 63.5%,#909090 69.8%,#8e8e8e 72.9%,#878787 77.1%,#6e6e6e 84.4%,#656565 88.5%,#616161 92.7%,#606060 100%)"></p><p style="height:6.92px;background:linear-gradient(90deg,#5e5e5e 0,#606060 7.8%,#656565 12.5%,#707070 16.7%,#8a8a8a 22.9%,#949494 28.1%,#939393 30.7%,#8d8d8d 34.9%,#777777 43.2%,#727272 46.4%,#707070 50%,#717171 53.1%,#757575 56.2%,#7f7f7f 60.4%,#8e8e8e 65.1%,#939393 68.2%,#959595 70.8%,#939393 73.4%,#8b8b8b 77.1%,#707070 83.3%,#646464 87.5%,#606060 92.2%,#5e5e5e 100%)"></p><p style="height:6.92px;background:linear-gradient(90deg,#5d5d5d 0,#5f5f5f 8.3%,#646464 13%,#727272 17.2%,#909090 22.9%,#999999 26%,#9d9d9d 28.1%,#9b9b9b 30.2%,#929292 33.9%,#7b7b7b 39.6%,#727272 42.7%,#6c6c6c 45.8%,#696969 50%,#6b6b6b 53.6%,#707070 57.3%,#7a7a7a 60.4%,#919191 65.6%,#959595 67.2%,#9b9b9b 70.3%,#9b9b9b 72.9%,#979797 75%,#909090 77.1%,#707070 82.8%,#646464 86.5%,#5f5f5f 91.1%,#5d5d5d 100%)"></p><p style="height:6.92px;background:linear-gradient(90deg,#5c5c5c 0,#5f5f5f 9.4%,#666666 14.1%,#757575 17.7%,#979797 22.9%,#a4a4a4 26%,#a8a8a8 28.1%,#a4a4a4 29.7%,#999999 32.8%,#808080 37.5%,#747474 40.1%,#6b6b6b 43.2%,#666666 46.4%,#646464 51.6%,#666666 54.7%,#6b6b6b 57.3%,#717171 59.4%,#797979 61.5%,#989898 66.7%,#9c9c9c 67.7%,#a4a4a4 70.3%,#a5a5a5 72.4%,#a2a2a2 74.5%,#9a9a9a 76.6%,#949494 77.6%,#737373 82.3%,#646464 85.9%,#5e5e5e 90.6%,#5c5c5c 100%)"></p><p style="height:6.92px;background:linear-gradient(90deg,#5c5c5c 0,#5e5e5e 8.3%,#626262 12%,#666666 14.1%,#6c6c6c 15.6%,#777777 17.7%,#a1a1a1 22.9%,#b1b1b1 26%,#b5b5b5 27.6%,#b0b0b0 29.2%,#a1a1a1 32.3%,#848484 36.5%,#757575 39.1%,#6b6b6b 41.7%,#646464 44.8%,#606060 51%,#626262 55.2%,#676767 57.8%,#6e6e6e 59.9%,#787878 62%,#a4a4a4 68.2%,#adadad 70.3%,#b0b0b0 72.4%,#adadad 74.5%,#a4a4a4 76.6%,#9d9d9d 77.6%,#757575 82.3%,#656565 85.4%,#616161 87.5%,#5e5e5e 90.1%,#5b5b5b 100%)"></p><p style="height:6.92px;background:linear-gradient(90deg,#5b5b5b 0,#5e5e5e 8.9%,#636363 12.5%,#686868 14.6%,#707070 16.1%,#7e7e7e 18.2%,#ababab 22.9%,#bdbdbd 25.5%,#c4c4c4 27.1%,#bfbfbf 28.6%,#ababab 31.8%,#878787 35.9%,#787878 38%,#696969 41.1%,#636363 44.3%,#5f5f5f 49.5%,#5d5d5d 50%,#5d5d5d 51.6%,#606060 55.7%,#666666 58.9%,#6f6f6f 60.9%,#7b7b7b 63%,#888888 64.6%,#a6a6a6 67.7%,#aeaeae 68.8%,#b8b8b8 70.8%,#bcbcbc 72.9%,#b7b7b7 75%,#ababab 77.1%,#7b7b7b 81.8%,#6c6c6c 83.9%,#656565 85.4%,#616161 87.5%,#5d5d5d 91.1%,#5b5b5b 100%)"></p><p style="height:6.92px;background:linear-gradient(90deg,#5b5b5b 0,#5c5c5c 5.2%,#5f5f5f 9.4%,#656565 13%,#6c6c6c 15.1%,#767676 16.7%,#838383 18.2%,#b7b7b7 22.9%,#d0d0d0 26%,#d4d4d4 27.1%,#cecece 28.1%,#b6b6b6 31.2%,#8a8a8a 35.4%,#797979 37.5%,#6b6b6b 40.1%,#626262 43.8%,#5e5e5e 49.5%,#5c5c5c 50%,#5c5c5c 53.1%,#5f5f5f 56.8%,#676767 59.9%,#6e6e6e 61.5%,#7d7d7d 63.5%,#8c8c8c 65.1%,#b0b0b0 68.2%,#b9b9b9 69.3%,#c5c5c5 71.4%,#c8c8c8 72.9%,#c3c3c3 75%,#b6b6b6 77.1%,#7f7f7f 81.8%,#6e6e6e 83.9%,#666666 85.4%,#616161 87.5%,#5d5d5d 91.1%,#5a5a5a 100%)"></p><p style="height:6.92px;background:linear-gradient(90deg,#5b5b5b 0,#5c5c5c 5.2%,#5f5f5f 9.4%,#666666 13%,#6e6e6e 15.1%,#797979 16.7%,#878787 18.2%,#bcbcbc 22.4%,#dcdcdc 25.5%,#e4e4e4 26.6%,#e3e3e3 27.1%,#dfdfdf 27.6%,#c0c0c0 30.7%,#8f8f8f 34.9%,#7b7b7b 37%,#6b6b6b 39.6%,#626262 42.7%,#5f5f5f 45.3%,#5f5f5f 49.5%,#5d5d5d 50%,#5c5c5c 54.7%,#5f5f5f 57.8%,#676767 60.4%,#6f6f6f 62%,#808080 64.1%,#919191 65.6%,#b9b9b9 68.8%,#c4c4c4 69.8%,#d1d1d1 71.9%,#d4d4d4 73.4%,#cfcfcf 75%,#c1c1c1 77.1%,#b5b5b5 78.1%,#838383 81.8%,#747474 83.3%,#696969 84.9%,#626262 87%,#5d5d5d 90.6%,#5a5a5a 100%)"></p><p style="height:6.92px;background:linear-gradient(90deg,#5b5b5b 0,#5c5c5c 5.2%,#5f5f5f 9.4%,#666666 12.5%,#707070 15.1%,#7c7c7c 16.7%,#8c8c8c 18.2%,#c6c6c6 22.4%,#ebebeb 25.5%,#f1f1f1 26%,#f3f3f3 26.6%,#efefef 27.1%,#cbcbcb 30.2%,#949494 34.4%,#7e7e7e 36.5%,#727272 38%,#6c6c6c 39.1%,#626262 42.2%,#606060 44.3%,#636363 49.5%,#606060 50%,#5d5d5d 56.2%,#5f5f5f 58.3%,#656565 60.4%,#707070 62.5%,#838383 64.6%,#909090 65.6%,#bcbcbc 68.8%,#c9c9c9 69.8%,#d9d9d9 71.9%,#dfdfdf 73.4%,#dadada 75%,#cbcbcb 77.1%,#bebebe 78.1%,#888888 81.8%,#777777 83.3%,#6b6b6b 84.9%,#636363 87%,#5d5d5d 90.1%,#5a5a5a 94.3%,#5a5a5a 100%)"></p><p style="height:6.92px;background:linear-gradient(90deg,#5b5b5b 0,#5c5c5c 5.2%,#606060 9.4%,#676767 12.5%,#727272 15.1%,#7f7f7f 16.7%,#919191 18.2%,#cfcfcf 22.4%,#fefefe 26%,#fdfdfd 26.6%,#f7f7f7 27.1%,#cecece 30.2%,#999999 33.9%,#818181 35.9%,#707070 38%,#696969 39.6%,#646464 41.1%,#616161 43.2%,#656565 49.5%,#636363 50%,#5d5d5d 57.3%,#606060 59.4%,#656565 60.9%,#727272 63%,#818181 64.6%,#959595 66.1%,#c5c5c5 69.3%,#d2d2d2 70.3%,#e3e3e3 72.4%,#e7e7e7 73.4%,#e8e8e8 74%,#e0e0e0 75.5%,#cecece 77.6%,#949494 81.2%,#858585 82.3%,#747474 83.9%,#6a6a6a 85.4%,#626262 87.5%,#5d5d5d 90.6%,#5a5a5a 100%)"></p><p style="height:6.92px;background:linear-gradient(90deg,#5b5b5b 0,#5c5c5c 5.2%,#606060 8.9%,#676767 12%,#717171 14.6%,#7d7d7d 16.1%,#959595 18.2%,#cecece 21.9%,#fbfbfb 25%,#ffffff 25.5%,#ffffff 26.6%,#fafafa 27.1%,#cecece 30.2%,#969696 33.9%,#848484 35.4%,#727272 37.5%,#696969 39.1%,#646464 40.6%,#626262 42.2%,#676767 49.5%,#656565 50%,#636363 54.2%,#5e5e5e 58.3%,#646464 60.9%,#6c6c6c 62.5%,#797979 64.1%,#929292 66.1%,#c5c5c5 69.3%,#d4d4d4 70.3%,#e7e7e7 72.4%,#efefef 74%,#e7e7e7 75.5%,#d4d4d4 77.6%,#c5c5c5 78.6%,#999999 81.2%,#898989 82.3%,#777777 83.9%,#6b6b6b 85.4%,#636363 87.5%,#5d5d5d 90.6%,#5a5a5a 94.3%,#5a5a5a 100%)"></p><p style="height:6.92px;background:linear-gradient(90deg,#5c5c5c 0,#5d5d5d 5.2%,#606060 8.9%,#686868 12%,#737373 14.6%,#808080 16.1%,#929292 17.7%,#a0a0a0 18.8%,#d3d3d3 21.9%,#fafafa 24.5%,#ffffff 25%,#ffffff 26.6%,#fbfbfb 27.1%,#d4d4d4 29.7%,#9b9b9b 33.3%,#878787 34.9%,#737373 37%,#6a6a6a 38.5%,#646464 40.1%,#636363 41.7%,#666666 44.8%,#686868 49.5%,#666666 50%,#646464 54.7%,#5e5e5e 58.9%,#5f5f5f 59.9%,#656565 61.5%,#6d6d6d 63%,#7b7b7b 64.6%,#979797 66.7%,#d4d4d4 70.3%,#e4e4e4 71.9%,#f3f3f3 74%,#f2f2f2 74.5%,#ececec 75.5%,#d9d9d9 77.6%,#cbcbcb 78.6%,#8d8d8d 82.3%,#7a7a7a 83.9%,#6d6d6d 85.4%,#646464 87.5%,#5d5d5d 90.6%,#5b5b5b 94.3%,#5a5a5a 100%)"></p><p style="height:6.92px;background:linear-gradient(90deg,#5c5c5c 0,#5d5d5d 5.2%,#616161 8.9%,#696969 12%,#757575 14.6%,#828282 16.1%,#959595 17.7%,#d7d7d7 21.9%,#fefefe 24.5%,#ffffff 26.6%,#d2d2d2 29.7%,#9f9f9f 32.8%,#848484 34.9%,#797979 35.9%,#6e6e6e 37.5%,#646464 40.1%,#696969 49.5%,#676767 50%,#656565 54.7%,#5e5e5e 59.4%,#636363 61.5%,#6b6b6b 63%,#797979 64.6%,#949494 66.7%,#cacaca 69.8%,#d9d9d9 70.8%,#ededed 72.9%,#f4f4f4 74%,#f5f5f5 74.5%,#ebebeb 76%,#d7d7d7 78.1%,#919191 82.3%,#7c7c7c 83.9%,#6f6f6f 85.4%,#656565 87.5%,#5e5e5e 90.6%,#5b5b5b 94.3%,#5a5a5a 100%)"></p><p style="height:6.92px;background:linear-gradient(90deg,#5c5c5c 0,#5d5d5d 4.7%,#616161 8.3%,#686868 11.5%,#737373 14.1%,#7f7f7f 15.6%,#989898 17.7%,#d2d2d2 21.4%,#ffffff 24.5%,#ffffff 26%,#fdfdfd 26.6%,#d6d6d6 29.2%,#9c9c9c 32.8%,#878787 34.4%,#7c7c7c 35.4%,#737373 36.5%,#6a6a6a 38%,#646464 39.6%,#636363 40.6%,#676767 44.3%,#696969 49.5%,#676767 50%,#646464 55.7%,#5e5e5e 59.9%,#646464 62%,#6d6d6d 63.5%,#7c7c7c 65.1%,#999999 67.2%,#d7d7d7 70.8%,#e7e7e7 72.4%,#f5f5f5 74.5%,#f4f4f4 75%,#ededed 76%,#dadada 78.1%,#cacaca 79.2%,#9d9d9d 81.8%,#8d8d8d 82.8%,#7a7a7a 84.4%,#6d6d6d 85.9%,#646464 88%,#5e5e5e 91.1%,#5b5b5b 94.8%,#5a5a5a 100%)"></p><p style="height:6.92px;background:linear-gradient(90deg,#5d5d5d 0,#5e5e5e 4.7%,#616161 8.3%,#696969 11.5%,#757575 14.1%,#828282 15.6%,#949494 17.2%,#d4d4d4 21.4%,#fafafa 24%,#ffffff 24.5%,#ffffff 26%,#d2d2d2 29.2%,#989898 32.8%,#848484 34.4%,#797979 35.4%,#6e6e6e 37%,#666666 38.5%,#636363 39.6%,#696969 49.5%,#686868 50%,#656565 55.7%,#5e5e5e 59.9%,#636363 62%,#6f6f6f 64.1%,#7f7f7f 65.6%,#959595 67.2%,#cbcbcb 70.3%,#dadada 71.4%,#ededed 73.4%,#f4f4f4 74.5%,#f4f4f4 75%,#e6e6e6 77.1%,#d5d5d5 78.6%,#909090 82.8%,#7c7c7c 84.4%,#6f6f6f 85.9%,#656565 88%,#5e5e5e 91.1%,#5b5b5b 94.8%,#5a5a5a 100%)"></p><p style="height:6.92px;background:linear-gradient(90deg,#5d5d5d 0,#5e5e5e 4.2%,#616161 7.8%,#686868 10.9%,#737373 13.5%,#7f7f7f 15.1%,#969696 17.2%,#cdcdcd 20.8%,#ffffff 24.5%,#ffffff 25.5%,#d4d4d4 28.6%,#9c9c9c 32.3%,#878787 33.9%,#737373 35.9%,#6a6a6a 37.5%,#646464 39.1%,#626262 40.6%,#676767 44.3%,#696969 49.5%,#656565 55.7%,#5e5e5e 59.9%,#626262 62%,#6d6d6d 64.1%,#7c7c7c 65.6%,#919191 67.2%,#c7c7c7 70.3%,#d6d6d6 71.4%,#eaeaea 73.4%,#f2f2f2 75%,#eaeaea 76.6%,#d7d7d7 78.6%,#c8c8c8 79.7%,#9c9c9c 82.3%,#8c8c8c 83.3%,#7a7a7a 84.9%,#6e6e6e 86.5%,#656565 88.5%,#5f5f5f 91.7%,#5c5c5c 95.3%,#5b5b5b 100%)"></p><p style="height:6.92px;background:linear-gradient(90deg,#5e5e5e 0,#5f5f5f 4.7%,#636363 8.3%,#6b6b6b 11.5%,#747474 13.5%,#818181 15.1%,#919191 16.7%,#cccccc 20.8%,#f3f3f3 24%,#f9f9f9 24.5%,#f9f9f9 25%,#cdcdcd 28.6%,#979797 32.3%,#838383 33.9%,#717171 35.9%,#686868 37.5%,#626262 39.1%,#616161 40.6%,#666666 44.3%,#696969 49.5%,#646464 55.7%,#5d5d5d 59.9%,#616161 62%,#6c6c6c 64.1%,#7a7a7a 65.6%,#959595 67.7%,#d1d1d1 71.4%,#e1e1e1 72.9%,#ededed 75%,#ededed 75.5%,#e8e8e8 76.6%,#d6d6d6 78.6%,#c9c9c9 79.7%,#979797 82.8%,#888888 83.9%,#787878 85.4%,#6c6c6c 87%,#646464 89.1%,#5f5f5f 91.7%,#5c5c5c 95.3%,#5c5c5c 100%)"></p><p style="height:6.92px;background:linear-gradient(90deg,#5f5f5f 0,#5f5f5f 4.2%,#636363 7.8%,#6a6a6a 10.9%,#727272 13%,#7e7e7e 14.6%,#8c8c8c 16.1%,#c2c2c2 20.3%,#e5e5e5 23.4%,#ededed 24.5%,#ebebeb 25%,#e6e6e6 25.5%,#c3c3c3 28.6%,#919191 32.3%,#7a7a7a 34.4%,#6b6b6b 36.5%,#616161 39.1%,#606060 40.6%,#656565 44.3%,#686868 49.5%,#636363 55.7%,#5d5d5d 59.9%,#626262 62.5%,#6e6e6e 64.6%,#7d7d7d 66.1%,#919191 67.7%,#c2c2c2 70.8%,#d0d0d0 71.9%,#e0e0e0 74%,#e6e6e6 75.5%,#e0e0e0 77.1%,#cecece 79.2%,#c1c1c1 80.2%,#8b8b8b 83.9%,#7a7a7a 85.4%,#6e6e6e 87%,#666666 89.1%,#606060 91.7%,#5d5d5d 95.3%,#5c5c5c 100%)"></p><p style="height:6.92px;background:linear-gradient(90deg,#5f5f5f 0,#606060 4.2%,#646464 7.8%,#696969 10.4%,#717171 12.5%,#838383 15.1%,#939393 16.7%,#bdbdbd 20.3%,#d9d9d9 23.4%,#dddddd 24%,#dedede 24.5%,#d7d7d7 25.5%,#bebebe 28.1%,#8c8c8c 32.3%,#777777 34.4%,#696969 36.5%,#5f5f5f 39.6%,#5e5e5e 40.6%,#646464 44.8%,#666666 49.5%,#636363 55.2%,#5c5c5c 59.4%,#5d5d5d 60.9%,#626262 62.5%,#6c6c6c 64.6%,#7f7f7f 66.7%,#8c8c8c 67.7%,#bababa 70.8%,#c7c7c7 71.9%,#d7d7d7 74%,#dddddd 75.5%,#d9d9d9 77.1%,#cacaca 79.2%,#bfbfbf 80.2%,#878787 84.4%,#787878 85.9%,#6d6d6d 87.5%,#676767 89.1%,#616161 91.7%,#5e5e5e 95.3%,#5d5d5d 100%)"></p><p style="height:6.92px;background:linear-gradient(90deg,#606060 0,#646464 7.3%,#686868 9.9%,#707070 12%,#787878 13.5%,#848484 15.1%,#b2b2b2 19.8%,#c9c9c9 22.9%,#cecece 24%,#cacaca 25%,#b3b3b3 28.1%,#868686 32.3%,#747474 34.4%,#6a6a6a 35.9%,#626262 38%,#5d5d5d 41.1%,#636363 45.3%,#656565 49.5%,#626262 54.7%,#5c5c5c 58.9%,#5c5c5c 60.4%,#636363 63%,#6e6e6e 65.1%,#7c7c7c 66.7%,#878787 67.7%,#bdbdbd 71.9%,#cccccc 74%,#d0d0d0 75%,#d2d2d2 76%,#cdcdcd 77.6%,#c0c0c0 79.7%,#b6b6b6 80.7%,#848484 84.9%,#777777 86.5%,#6d6d6d 88%,#676767 89.6%,#626262 92.2%,#5e5e5e 100%)"></p><p style="height:6.92px;background:linear-gradient(90deg,#616161 0,#646464 6.8%,#676767 8.9%,#6d6d6d 10.9%,#7d7d7d 14.1%,#ababab 19.8%,#b9b9b9 22.4%,#bebebe 24%,#b7b7b7 25.5%,#a8a8a8 28.1%,#818181 32.3%,#727272 34.4%,#696969 35.9%,#626262 38%,#5c5c5c 41.7%,#626262 46.4%,#636363 49.5%,#616161 53.6%,#5b5b5b 58.3%,#5d5d5d 60.4%,#636363 63%,#6d6d6d 65.1%,#787878 66.7%,#828282 67.7%,#b2b2b2 71.9%,#c0c0c0 74%,#c6c6c6 76%,#c1c1c1 78.1%,#b5b5b5 80.2%,#adadad 81.2%,#8c8c8c 84.4%,#7d7d7d 85.9%,#737373 87.5%,#6b6b6b 89.1%,#656565 91.1%,#626262 93.2%,#606060 100%)"></p><p style="height:6.92px;background:linear-gradient(90deg,#626262 0,#656565 6.2%,#6e6e6e 10.4%,#7b7b7b 13.5%,#9e9e9e 18.8%,#ababab 21.9%,#afafaf 23.4%,#a9a9a9 25.5%,#9d9d9d 28.1%,#737373 33.9%,#686868 35.9%,#616161 38%,#5c5c5c 42.2%,#606060 49.5%,#5b5b5b 56.8%,#5c5c5c 59.4%,#636363 63%,#6c6c6c 65.1%,#7f7f7f 67.7%,#a2a2a2 71.4%,#ababab 72.4%,#b6b6b6 74.5%,#b9b9b9 76.6%,#b5b5b5 78.6%,#ababab 80.7%,#a4a4a4 81.8%,#7c7c7c 86.5%,#737373 88%,#6d6d6d 89.6%,#676767 91.7%,#636363 93.8%,#616161 100%)"></p><p style="height:6.92px;background:linear-gradient(90deg,#646464 0,#666666 5.2%,#6e6e6e 9.4%,#797979 12.5%,#969696 18.2%,#9e9e9e 20.8%,#a2a2a2 22.9%,#9f9f9f 25%,#949494 28.1%,#717171 33.9%,#666666 36.5%,#616161 38.5%,#5b5b5b 43.8%,#5d5d5d 49.5%,#5b5b5b 55.7%,#5c5c5c 58.9%,#616161 62%,#6a6a6a 64.6%,#787878 67.2%,#a0a0a0 72.4%,#ababab 75%,#adadad 77.1%,#aaaaaa 79.2%,#a2a2a2 81.2%,#9c9c9c 82.3%,#7d7d7d 87%,#6f6f6f 90.1%,#656565 94.8%,#636363 100%)"></p><p style="height:6.92px;background:linear-gradient(90deg,#686868 0,#696969 4.2%,#6f6f6f 8.3%,#787878 11.5%,#8e8e8e 17.2%,#969696 20.8%,#989898 22.9%,#959595 25%,#8d8d8d 28.1%,#6f6f6f 34.4%,#666666 37%,#616161 39.1%,#5b5b5b 45.3%,#5c5c5c 57.3%,#616161 61.5%,#696969 64.1%,#777777 67.2%,#979797 72.4%,#a0a0a0 75%,#a3a3a3 77.1%,#a1a1a1 79.2%,#9a9a9a 81.8%,#939393 83.3%,#7b7b7b 88%,#707070 91.1%,#696969 95.3%,#686868 100%)"></p><p style="height:6.92px;background:linear-gradient(90deg,#6d6d6d 0,#6e6e6e 3.6%,#727272 6.8%,#797979 10.4%,#888888 15.6%,#8f8f8f 19.8%,#909090 22.4%,#898989 28.1%,#6e6e6e 34.9%,#616161 40.1%,#5c5c5c 46.9%,#5d5d5d 55.2%,#616161 59.9%,#686868 63%,#727272 66.1%,#909090 72.4%,#979797 75%,#9a9a9a 77.6%,#989898 79.7%,#939393 82.3%,#8d8d8d 84.4%,#7e7e7e 88.5%,#737373 92.7%,#6e6e6e 96.4%,#6d6d6d 100%)"></p><p style="height:6.92px;background:linear-gradient(90deg,#747474 0,#767676 5.2%,#7c7c7c 9.4%,#858585 14.1%,#8a8a8a 19.3%,#8b8b8b 22.4%,#848484 28.6%,#6d6d6d 35.9%,#626262 41.1%,#5e5e5e 46.9%,#5e5e5e 53.6%,#616161 57.8%,#676767 61.5%,#707070 65.1%,#898989 71.9%,#909090 75.5%,#929292 78.1%,#8e8e8e 82.8%,#888888 85.9%,#7c7c7c 90.6%,#777777 93.8%,#747474 100%)"></p><p style="height:6.92px;background:linear-gradient(90deg,#7a7a7a 0,#7b7b7b 4.7%,#838383 11.5%,#868686 17.2%,#878787 23.4%,#838383 28.6%,#6e6e6e 37%,#666666 41.1%,#626262 45.3%,#616161 50%,#626262 55.2%,#676767 59.4%,#6f6f6f 63.5%,#848484 71.4%,#8c8c8c 77.6%,#8c8c8c 81.8%,#7d7d7d 94.3%,#7b7b7b 100%)"></p><p style="height:6.92px;background:linear-gradient(90deg,#808080 0,#858585 19.3%,#828282 28.1%,#6c6c6c 40.6%,#676767 45.3%,#656565 50%,#676767 54.7%,#6c6c6c 59.4%,#828282 70.8%,#888888 77.6%,#888888 82.3%,#808080 100%)"></p><p style="height:6.92px;background:linear-gradient(90deg,#828282 0,#848484 18.2%,#828282 28.6%,#6f6f6f 42.2%,#6b6b6b 50%,#6e6e6e 57.3%,#818181 70.3%,#858585 77.1%,#868686 82.8%,#838383 100%)"></p><p style="height:6.92px;background:linear-gradient(90deg,#838383 0,#818181 29.7%,#757575 42.7%,#727272 50%,#757575 57.3%,#818181 70.3%,#848484 82.8%,#838383 100%)"></p><p style="height:6.92px;background:linear-gradient(90deg,#838383 0,#818181 30.7%,#7a7a7a 42.7%,#797979 50%,#7a7a7a 57.3%,#818181 69.3%,#838383 100%)"></p><p style="height:6.92px;background:linear-gradient(90deg,#838383 0,#828282 33.3%,#7f7f7f 50%,#828282 66.7%,#838383 100%)"></p><p style="height:20.93px;background:linear-gradient(90deg,#828282 0,#828282 100%)"></p></div></div>
<div class="hm" style="left:901.1px;top:267.9px"><div><p style="height:20.93px;background:linear-gradient(90deg,#828282 0,#838383 20.8%,#898989 37.5%,#8a8a8a 50%,#898989 62.5%,#838383 79.2%,#828282 100%)"></p><p style="height:6.92px;background:linear-gradient(90deg,#7f7f7f 0,#828282 20.8%,#8c8c8c 37%,#8d8d8d 50%,#8c8c8c 63%,#828282 79.2%,#7f7f7f 100%)"></p><p style="height:6.92px;background:linear-gradient(90deg,#7b7b7b 0,#7d7d7d 9.9%,#838383 22.9%,#8d8d8d 34.9%,#8f8f8f 40.6%,#929292 41.1%,#929292 56.8%,#929292 58.9%,#909090 59.4%,#8d8d8d 65.1%,#838383 77.6%,#7d7d7d 90.1%,#7b7b7b 100%)"></p><p style="height:6.92px;background:linear-gradient(90deg,#787878 0,#797979 7.8%,#7d7d7d 16.1%,#868686 26.6%,#8f8f8f 34.9%,#929292 35.4%,#929292 35.9%,#939393 60.9%,#929292 64.6%,#909090 65.1%,#858585 74.5%,#7d7d7d 84.4%,#797979 92.7%,#787878 100%)"></p><p style="height:6.92px;background:linear-gradient(90deg,#757575 0,#767676 7.8%,#7b7b7b 15.6%,#878787 26%,#8f8f8f 32.3%,#929292 32.8%,#939393 38%,#919191 49.5%,#8f8f8f 50%,#939393 66.7%,#929292 67.2%,#8f8f8f 67.7%,#868686 75%,#7c7c7c 83.3%,#777777 91.7%,#757575 100%)"></p><p style="height:6.92px;background:linear-gradient(90deg,#737373 0,#747474 7.8%,#797979 14.6%,#7e7e7e 19.3%,#8f8f8f 30.7%,#939393 31.2%,#949494 35.4%,#8e8e8e 49.5%,#8b8b8b 50%,#8d8d8d 55.7%,#939393 65.1%,#939393 68.8%,#909090 69.3%,#7e7e7e 80.2%,#7a7a7a 84.4%,#757575 91.1%,#737373 100%)"></p><p style="height:6.92px;background:linear-gradient(90deg,#717171 0,#737373 7.8%,#777777 15.1%,#7e7e7e 19.8%,#929292 29.7%,#959595 30.2%,#969696 32.8%,#949494 37.5%,#8b8b8b 45.3%,#898989 49.5%,#868686 50%,#888888 56.2%,#949494 66.1%,#959595 69.8%,#929292 70.3%,#8e8e8e 73.4%,#7f7f7f 79.7%,#787878 84.4%,#737373 91.7%,#717171 100%)"></p><p style="height:6.92px;background:linear-gradient(90deg,#707070 0,#727272 8.9%,#777777 15.6%,#7e7e7e 19.8%,#909090 26%,#969696 29.2%,#999999 29.7%,#9a9a9a 31.2%,#969696 35.9%,#898989 43.8%,#858585 49.5%,#818181 50%,#858585 58.3%,#969696 67.2%,#999999 70.3%,#969696 70.8%,#909090 74.5%,#7e7e7e 80.2%,#777777 83.9%,#727272 91.1%,#707070 100%)"></p><p style="height:6.92px;background:linear-gradient(90deg,#707070 0,#717171 9.9%,#777777 16.1%,#808080 19.8%,#989898 26%,#9d9d9d 28.6%,#a0a0a0 29.2%,#a0a0a0 30.2%,#9c9c9c 34.4%,#878787 42.7%,#838383 45.8%,#818181 49.5%,#7d7d7d 50%,#7f7f7f 55.7%,#838383 59.9%,#898989 62.5%,#9b9b9b 68.2%,#9e9e9e 70.8%,#9c9c9c 71.4%,#969696 74.5%,#808080 79.7%,#777777 83.3%,#717171 90.1%,#707070 100%)"></p><p style="height:6.92px;background:linear-gradient(90deg,#6f6f6f 0,#717171 10.9%,#777777 16.1%,#818181 19.3%,#969696 23.4%,#9f9f9f 25.5%,#a6a6a6 28.1%,#a9a9a9 28.6%,#a9a9a9 29.7%,#a3a3a3 33.3%,#8e8e8e 39.1%,#878787 41.7%,#818181 45.3%,#7e7e7e 49.5%,#7a7a7a 50%,#7c7c7c 56.2%,#818181 60.4%,#8a8a8a 63.5%,#a1a1a1 68.8%,#a5a5a5 71.4%,#9c9c9c 75%,#838383 79.7%,#777777 83.3%,#717171 89.1%,#6f6f6f 100%)"></p><p style="height:6.92px;background:linear-gradient(90deg,#6f6f6f 0,#707070 10.9%,#767676 15.6%,#818181 18.8%,#a0a0a0 23.4%,#a8a8a8 25%,#b1b1b1 27.6%,#b4b4b4 28.1%,#b4b4b4 29.2%,#b2b2b2 30.7%,#acacac 32.8%,#909090 38.5%,#878787 41.1%,#7f7f7f 44.8%,#7c7c7c 49.5%,#777777 50%,#797979 56.2%,#7f7f7f 60.9%,#8a8a8a 64.1%,#a8a8a8 69.3%,#aeaeae 71.9%,#a5a5a5 75%,#9d9d9d 76.6%,#838383 80.2%,#7c7c7c 81.8%,#777777 83.3%,#707070 88.5%,#6f6f6f 100%)"></p><p style="height:6.92px;background:linear-gradient(90deg,#6f6f6f 0,#707070 10.9%,#737373 13.5%,#777777 15.6%,#7d7d7d 17.2%,#858585 18.8%,#a7a7a7 22.9%,#b2b2b2 24.5%,#c1c1c1 27.6%,#c2c2c2 28.6%,#bfbfbf 30.2%,#b7b7b7 32.3%,#949494 38%,#868686 41.1%,#7d7d7d 44.8%,#7a7a7a 49.5%,#757575 50%,#777777 56.8%,#7e7e7e 61.5%,#848484 63%,#8c8c8c 64.6%,#a8a8a8 68.2%,#b2b2b2 69.8%,#b6b6b6 70.8%,#b8b8b8 72.4%,#b2b2b2 74.5%,#adadad 75.5%,#a6a6a6 76.6%,#8f8f8f 79.2%,#838383 80.7%,#7b7b7b 82.3%,#767676 83.9%,#707070 88%,#6f6f6f 100%)"></p><p style="height:6.92px;background:linear-gradient(90deg,#6e6e6e 0,#707070 10.9%,#737373 13.5%,#797979 15.6%,#808080 17.2%,#8a8a8a 18.8%,#b2b2b2 22.9%,#bfbfbf 24.5%,#d0d0d0 27.6%,#d1d1d1 28.6%,#cccccc 30.2%,#c4c4c4 31.8%,#989898 37.5%,#878787 40.6%,#7d7d7d 44.3%,#7a7a7a 49.5%,#757575 50%,#767676 57.8%,#797979 59.9%,#7e7e7e 62%,#858585 63.5%,#8f8f8f 65.1%,#b9b9b9 69.8%,#bebebe 70.8%,#c3c3c3 72.4%,#bdbdbd 74.5%,#b8b8b8 75.5%,#ababab 77.1%,#959595 79.2%,#878787 80.7%,#7d7d7d 82.3%,#767676 83.9%,#727272 85.9%,#707070 88%,#6e6e6e 100%)"></p><p style="height:6.92px;background:linear-gradient(90deg,#6e6e6e 0,#707070 10.4%,#737373 13%,#787878 15.1%,#808080 16.7%,#8b8b8b 18.2%,#9b9b9b 19.8%,#bebebe 22.9%,#cccccc 24.5%,#dedede 27.1%,#e0e0e0 28.1%,#dbdbdb 29.7%,#d1d1d1 31.2%,#a2a2a2 36.5%,#8f8f8f 39.1%,#838383 41.7%,#7d7d7d 44.3%,#797979 49.5%,#747474 50%,#757575 57.8%,#7b7b7b 61.5%,#848484 63.5%,#8e8e8e 65.1%,#9d9d9d 66.7%,#bababa 69.3%,#c3c3c3 70.3%,#c9c9c9 71.4%,#cdcdcd 72.9%,#c6c6c6 75%,#bfbfbf 76%,#b5b5b5 77.1%,#8b8b8b 80.7%,#7f7f7f 82.3%,#777777 83.9%,#727272 85.9%,#707070 88%,#6e6e6e 100%)"></p><p style="height:6.92px;background:linear-gradient(90deg,#6e6e6e 0,#707070 10.4%,#747474 13%,#7a7a7a 15.1%,#838383 16.7%,#919191 18.2%,#a2a2a2 19.8%,#c4c4c4 22.4%,#d5d5d5 24%,#ededed 27.1%,#efefef 27.6%,#ececec 28.6%,#dddddd 30.7%,#a8a8a8 35.9%,#929292 38.5%,#868686 40.6%,#7d7d7d 43.8%,#797979 49.5%,#747474 50%,#757575 58.3%,#7a7a7a 61.5%,#808080 63%,#898989 64.6%,#989898 66.1%,#bebebe 69.3%,#c9c9c9 70.3%,#d1d1d1 71.4%,#d7d7d7 72.9%,#d0d0d0 75%,#c9c9c9 76%,#bfbfbf 77.1%,#9d9d9d 79.7%,#8b8b8b 81.2%,#7e7e7e 82.8%,#767676 84.4%,#727272 85.9%,#707070 88.5%,#6e6e6e 100%)"></p><p style="height:6.92px;background:linear-gradient(90deg,#6e6e6e 0,#717171 10.4%,#757575 13%,#7d7d7d 15.1%,#878787 16.7%,#969696 18.2%,#aaaaaa 19.8%,#cecece 22.4%,#e0e0e0 24%,#f8f8f8 26.6%,#fbfbfb 27.6%,#f6f6f6 28.6%,#e9e9e9 30.2%,#afafaf 35.4%,#959595 38%,#888888 40.1%,#7e7e7e 43.2%,#7a7a7a 45.8%,#797979 49.5%,#747474 50%,#757575 58.3%,#777777 60.4%,#7a7a7a 62%,#818181 63.5%,#8d8d8d 65.1%,#9d9d9d 66.7%,#cdcdcd 70.3%,#dadada 71.9%,#e0e0e0 73.4%,#d7d7d7 75.5%,#cecece 76.6%,#c2c2c2 77.6%,#a3a3a3 79.7%,#8f8f8f 81.2%,#808080 82.8%,#787878 84.4%,#737373 85.9%,#707070 88.5%,#6e6e6e 100%)"></p><p style="height:6.92px;background:linear-gradient(90deg,#6e6e6e 0,#717171 9.9%,#757575 12.5%,#7c7c7c 14.6%,#868686 16.1%,#959595 17.7%,#a9a9a9 19.3%,#d7d7d7 22.4%,#f4f4f4 25%,#ffffff 26.6%,#ffffff 28.1%,#fdfdfd 28.6%,#eeeeee 30.2%,#aeaeae 35.4%,#999999 37.5%,#909090 38.5%,#878787 40.1%,#7d7d7d 43.2%,#7a7a7a 45.8%,#797979 49.5%,#757575 50%,#757575 58.9%,#777777 60.9%,#7b7b7b 62.5%,#838383 64.1%,#909090 65.6%,#a3a3a3 67.2%,#c9c9c9 69.8%,#d6d6d6 70.8%,#dfdfdf 71.9%,#e7e7e7 73.4%,#e1e1e1 75%,#d6d6d6 76.6%,#c9c9c9 77.6%,#939393 81.2%,#838383 82.8%,#797979 84.4%,#737373 85.9%,#707070 88.5%,#6e6e6e 100%)"></p><p style="height:6.92px;background:linear-gradient(90deg,#6e6e6e 0,#707070 9.4%,#747474 12%,#7b7b7b 14.1%,#858585 15.6%,#999999 17.7%,#aeaeae 19.3%,#dddddd 22.4%,#fbfbfb 25%,#ffffff 25.5%,#ffffff 28.6%,#f6f6f6 29.7%,#adadad 35.4%,#979797 37.5%,#8f8f8f 38.5%,#868686 40.1%,#7e7e7e 42.7%,#7a7a7a 45.3%,#787878 49.5%,#757575 50%,#757575 58.9%,#7a7a7a 62.5%,#828282 64.1%,#8e8e8e 65.6%,#a1a1a1 67.2%,#c9c9c9 69.8%,#d7d7d7 70.8%,#e6e6e6 72.4%,#ededed 74%,#e0e0e0 76%,#d6d6d6 77.1%,#c8c8c8 78.1%,#9e9e9e 80.7%,#909090 81.8%,#818181 83.3%,#787878 84.9%,#737373 86.5%,#707070 89.1%,#6e6e6e 100%)"></p><p style="height:6.92px;background:linear-gradient(90deg,#6f6f6f 0,#717171 9.4%,#757575 12%,#7d7d7d 14.1%,#878787 15.6%,#9d9d9d 17.7%,#ababab 18.8%,#e2e2e2 22.4%,#fbfbfb 24.5%,#ffffff 25%,#ffffff 28.6%,#fcfcfc 29.2%,#f6f6f6 29.7%,#b1b1b1 34.9%,#9a9a9a 37%,#919191 38%,#878787 39.6%,#7d7d7d 42.7%,#7a7a7a 45.3%,#787878 49.5%,#757575 50%,#757575 59.4%,#777777 61.5%,#7b7b7b 63%,#848484 64.6%,#929292 66.1%,#a6a6a6 67.7%,#d7d7d7 70.8%,#e7e7e7 72.4%,#f0f0f0 74%,#e8e8e8 75.5%,#dbdbdb 77.1%,#cdcdcd 78.1%,#a3a3a3 80.7%,#949494 81.8%,#838383 83.3%,#797979 84.9%,#747474 86.5%,#707070 89.1%,#6e6e6e 100%)"></p><p style="height:6.92px;background:linear-gradient(90deg,#6f6f6f 0,#717171 9.4%,#767676 12%,#7e7e7e 14.1%,#898989 15.6%,#999999 17.2%,#aeaeae 18.8%,#dfdfdf 21.9%,#fefefe 24.5%,#ffffff 28.6%,#f4f4f4 29.7%,#aeaeae 34.9%,#9c9c9c 36.5%,#939393 37.5%,#888888 39.1%,#828282 40.6%,#7d7d7d 42.2%,#797979 45.3%,#787878 49.5%,#757575 50%,#757575 59.4%,#7a7a7a 63%,#828282 64.6%,#8f8f8f 66.1%,#a3a3a3 67.7%,#cdcdcd 70.3%,#dcdcdc 71.4%,#e6e6e6 72.4%,#f1f1f1 74%,#ebebeb 75.5%,#dedede 77.1%,#d1d1d1 78.1%,#979797 81.8%,#858585 83.3%,#7a7a7a 84.9%,#747474 86.5%,#707070 89.1%,#6e6e6e 100%)"></p><p style="height:6.92px;background:linear-gradient(90deg,#6f6f6f 0,#717171 8.9%,#757575 11.5%,#7d7d7d 13.5%,#878787 15.1%,#9c9c9c 17.2%,#b2b2b2 18.8%,#e1e1e1 21.9%,#f5f5f5 23.4%,#ffffff 24.5%,#ffffff 28.1%,#fefefe 28.6%,#f7f7f7 29.2%,#b1b1b1 34.4%,#999999 36.5%,#919191 37.5%,#878787 39.1%,#7c7c7c 42.2%,#797979 45.3%,#787878 49.5%,#757575 50%,#757575 56.8%,#767676 60.9%,#7b7b7b 63.5%,#848484 65.1%,#939393 66.7%,#a8a8a8 68.2%,#d9d9d9 71.4%,#e9e9e9 72.9%,#f2f2f2 74.5%,#e9e9e9 76%,#dbdbdb 77.6%,#cccccc 78.6%,#a2a2a2 81.2%,#939393 82.3%,#838383 83.9%,#797979 85.4%,#747474 87%,#707070 89.6%,#6e6e6e 100%)"></p><p style="height:6.92px;background:linear-gradient(90deg,#6f6f6f 0,#727272 8.9%,#767676 11.5%,#7e7e7e 13.5%,#898989 15.1%,#9f9f9f 17.2%,#e3e3e3 21.9%,#fbfbfb 24%,#ffffff 24.5%,#ffffff 28.1%,#ededed 29.7%,#aeaeae 34.4%,#979797 36.5%,#8e8e8e 37.5%,#858585 39.1%,#7c7c7c 41.7%,#797979 44.8%,#777777 49.5%,#757575 50%,#757575 59.9%,#7a7a7a 63.5%,#828282 65.1%,#909090 66.7%,#a4a4a4 68.2%,#cfcfcf 70.8%,#dddddd 71.9%,#e7e7e7 72.9%,#f1f1f1 74.5%,#eaeaea 76%,#dddddd 77.6%,#cfcfcf 78.6%,#a5a5a5 81.2%,#969696 82.3%,#858585 83.9%,#7a7a7a 85.4%,#747474 87%,#707070 89.6%,#6e6e6e 100%)"></p><p style="height:6.92px;background:linear-gradient(90deg,#6f6f6f 0,#727272 8.9%,#777777 11.5%,#7f7f7f 13.5%,#8b8b8b 15.1%,#9a9a9a 16.7%,#afafaf 18.2%,#dcdcdc 21.4%,#f9f9f9 24%,#fefefe 24.5%,#ffffff 25%,#ffffff 27.1%,#ffffff 27.6%,#f4f4f4 28.6%,#aaaaaa 34.4%,#949494 36.5%,#8c8c8c 37.5%,#838383 39.1%,#7b7b7b 41.7%,#787878 44.8%,#777777 49.5%,#757575 50%,#757575 56.8%,#757575 60.9%,#797979 63.5%,#818181 65.1%,#8d8d8d 66.7%,#a1a1a1 68.2%,#cacaca 70.8%,#d9d9d9 71.9%,#e8e8e8 73.4%,#f0f0f0 75%,#e2e2e2 77.1%,#d8d8d8 78.1%,#cacaca 79.2%,#a1a1a1 81.8%,#929292 82.8%,#878787 83.9%,#7c7c7c 85.4%,#757575 87%,#717171 89.6%,#6e6e6e 100%)"></p><p style="height:6.92px;background:linear-gradient(90deg,#6f6f6f 0,#707070 5.2%,#727272 8.9%,#787878 11.5%,#818181 13.5%,#8c8c8c 15.1%,#9c9c9c 16.7%,#d4d4d4 20.8%,#e6e6e6 22.4%,#fefefe 25%,#ffffff 26%,#fefefe 26.6%,#ececec 28.6%,#ababab 33.9%,#959595 35.9%,#8c8c8c 37%,#848484 38.5%,#7b7b7b 41.1%,#787878 43.8%,#757575 50%,#747474 57.8%,#767676 62%,#7a7a7a 64.1%,#828282 65.6%,#909090 67.2%,#a4a4a4 68.8%,#d4d4d4 71.9%,#e4e4e4 73.4%,#ececec 75%,#e5e5e5 76.6%,#d8d8d8 78.1%,#cbcbcb 79.2%,#a3a3a3 81.8%,#959595 82.8%,#858585 84.4%,#7b7b7b 85.9%,#757575 87.5%,#717171 90.1%,#6f6f6f 100%)"></p><p style="height:6.92px;background:linear-gradient(90deg,#707070 0,#727272 8.3%,#777777 10.9%,#7f7f7f 13%,#888888 14.6%,#969696 16.1%,#a8a8a8 17.7%,#cacaca 20.3%,#dbdbdb 21.9%,#f5f5f5 25%,#f6f6f6 25.5%,#f3f3f3 26.6%,#e2e2e2 28.6%,#a5a5a5 33.9%,#909090 35.9%,#898989 37%,#818181 38.5%,#7a7a7a 41.1%,#777777 44.8%,#747474 57.8%,#757575 62%,#797979 64.1%,#808080 65.6%,#8d8d8d 67.2%,#9f9f9f 68.8%,#c6c6c6 71.4%,#d3d3d3 72.4%,#dddddd 73.4%,#e6e6e6 75%,#e1e1e1 76.6%,#d6d6d6 78.1%,#cbcbcb 79.2%,#a5a5a5 81.8%,#919191 83.3%,#838383 84.9%,#7a7a7a 86.5%,#747474 88%,#717171 90.6%,#6f6f6f 100%)"></p><p style="height:6.92px;background:linear-gradient(90deg,#707070 0,#737373 8.3%,#777777 10.9%,#7f7f7f 13%,#898989 14.6%,#969696 16.1%,#c5c5c5 20.3%,#d4d4d4 21.9%,#e7e7e7 24.5%,#e9e9e9 25.5%,#e2e2e2 27.1%,#d6d6d6 28.6%,#9e9e9e 33.9%,#8c8c8c 35.9%,#818181 38%,#7a7a7a 40.6%,#767676 44.3%,#747474 57.3%,#757575 62%,#787878 64.1%,#7e7e7e 65.6%,#898989 67.2%,#9a9a9a 68.8%,#cbcbcb 72.4%,#d9d9d9 74%,#dfdfdf 75.5%,#d6d6d6 77.6%,#cecece 78.6%,#c2c2c2 79.7%,#939393 83.3%,#848484 84.9%,#7b7b7b 86.5%,#747474 88.5%,#717171 90.6%,#6f6f6f 100%)"></p><p style="height:6.92px;background:linear-gradient(90deg,#707070 0,#737373 8.3%,#777777 10.4%,#7d7d7d 12.5%,#858585 14.1%,#919191 15.6%,#b9b9b9 19.8%,#c6c6c6 21.4%,#d9d9d9 24.5%,#dadada 25%,#d8d8d8 26%,#cccccc 28.1%,#979797 33.9%,#888888 35.9%,#7e7e7e 38%,#787878 40.6%,#767676 44.3%,#747474 57.8%,#757575 62%,#787878 64.1%,#7f7f7f 66.1%,#8a8a8a 67.7%,#9a9a9a 69.3%,#bcbcbc 71.9%,#c7c7c7 72.9%,#cfcfcf 74%,#d5d5d5 75.5%,#cfcfcf 77.6%,#c8c8c8 78.6%,#bababa 80.2%,#a0a0a0 82.3%,#8f8f8f 83.9%,#828282 85.4%,#7a7a7a 87%,#747474 89.1%,#727272 91.1%,#6f6f6f 100%)"></p><p style="height:6.92px;background:linear-gradient(90deg,#717171 0,#737373 7.3%,#767676 9.9%,#7c7c7c 12%,#828282 13.5%,#8c8c8c 15.1%,#aeaeae 19.3%,#b9b9b9 20.8%,#cacaca 24%,#cbcbcb 25%,#c6c6c6 26.6%,#bfbfbf 28.1%,#959595 33.3%,#878787 35.4%,#7f7f7f 37%,#7a7a7a 38.5%,#777777 41.1%,#757575 44.3%,#757575 63%,#7a7a7a 65.1%,#838383 67.2%,#949494 69.3%,#b2b2b2 71.9%,#c1c1c1 73.4%,#c7c7c7 74.5%,#cbcbcb 76%,#c4c4c4 78.1%,#bebebe 79.2%,#b6b6b6 80.2%,#9a9a9a 82.8%,#8c8c8c 84.4%,#848484 85.4%,#7c7c7c 87%,#767676 89.1%,#727272 91.7%,#707070 100%)"></p><p style="height:6.92px;background:linear-gradient(90deg,#717171 0,#747474 7.3%,#7d7d7d 12%,#8b8b8b 15.1%,#adadad 20.3%,#bcbcbc 24%,#bcbcbc 24.5%,#b9b9b9 26%,#b4b4b4 27.6%,#888888 34.4%,#7e7e7e 36.5%,#797979 38.5%,#757575 44.3%,#757575 63%,#7a7a7a 65.6%,#838383 67.7%,#8e8e8e 69.3%,#adadad 72.4%,#b6b6b6 73.4%,#bcbcbc 74.5%,#c0c0c0 76%,#bcbcbc 78.1%,#b4b4b4 79.7%,#8d8d8d 84.4%,#838383 85.9%,#7c7c7c 87.5%,#767676 89.6%,#737373 92.2%,#717171 100%)"></p><p style="height:6.92px;background:linear-gradient(90deg,#727272 0,#757575 6.8%,#7c7c7c 11.5%,#878787 14.6%,#a2a2a2 19.8%,#ababab 22.9%,#aeaeae 23.4%,#afafaf 24%,#adadad 25.5%,#a7a7a7 27.6%,#838383 34.4%,#7c7c7c 36.5%,#777777 38.5%,#747474 44.3%,#757575 62.5%,#7a7a7a 65.6%,#818181 67.7%,#8d8d8d 69.8%,#a3a3a3 72.4%,#aeaeae 74%,#b3b3b3 75%,#b6b6b6 76.6%,#adadad 79.7%,#a4a4a4 81.2%,#8a8a8a 84.9%,#7c7c7c 88%,#747474 92.7%,#727272 100%)"></p><p style="height:6.92px;background:linear-gradient(90deg,#747474 0,#767676 5.7%,#7b7b7b 10.4%,#858585 14.1%,#999999 19.3%,#a3a3a3 23.4%,#a2a2a2 25.5%,#9d9d9d 27.6%,#828282 33.9%,#7b7b7b 35.9%,#767676 38.5%,#747474 44.3%,#757575 62%,#797979 65.6%,#7f7f7f 67.7%,#888888 69.8%,#a3a3a3 74%,#a9a9a9 75.5%,#acacac 77.1%,#a4a4a4 80.2%,#868686 85.9%,#7d7d7d 88.5%,#767676 93.2%,#747474 100%)"></p><p style="height:6.92px;background:linear-gradient(90deg,#767676 0,#777777 5.2%,#7c7c7c 9.9%,#828282 13%,#929292 18.8%,#9a9a9a 22.9%,#969696 27.1%,#7d7d7d 34.4%,#767676 39.1%,#747474 43.8%,#747474 60.4%,#787878 65.1%,#7d7d7d 67.7%,#858585 69.8%,#9c9c9c 74.5%,#a1a1a1 76%,#a3a3a3 77.6%,#a0a0a0 78.1%,#9c9c9c 80.7%,#858585 86.5%,#7d7d7d 89.6%,#777777 94.3%,#767676 100%)"></p><p style="height:6.92px;background:linear-gradient(90deg,#797979 0,#7a7a7a 4.7%,#7e7e7e 9.4%,#949494 22.4%,#8f8f8f 27.1%,#7d7d7d 33.9%,#767676 39.1%,#737373 45.8%,#747474 58.9%,#787878 64.1%,#7d7d7d 67.7%,#828282 69.8%,#969696 75%,#9b9b9b 78.1%,#989898 78.6%,#949494 81.8%,#848484 87.5%,#7f7f7f 90.1%,#7a7a7a 94.8%,#797979 100%)"></p><p style="height:6.92px;background:linear-gradient(90deg,#7c7c7c 0,#7f7f7f 7.8%,#8c8c8c 20.8%,#8f8f8f 21.4%,#8f8f8f 21.9%,#8a8a8a 27.1%,#7c7c7c 33.9%,#767676 38%,#727272 45.8%,#737373 56.2%,#767676 62.5%,#7c7c7c 67.2%,#818181 69.8%,#909090 75.5%,#959595 78.6%,#929292 79.2%,#909090 82.3%,#808080 91.7%,#7c7c7c 100%)"></p><p style="height:6.92px;background:linear-gradient(90deg,#808080 0,#828282 7.8%,#8b8b8b 21.4%,#878787 27.1%,#7b7b7b 33.9%,#757575 39.1%,#727272 45.8%,#727272 54.2%,#747474 59.9%,#797979 64.6%,#7e7e7e 68.8%,#8d8d8d 76.6%,#909090 79.7%,#8d8d8d 80.2%,#8c8c8c 83.3%,#838383 91.7%,#808080 100%)"></p><p style="height:6.92px;background:linear-gradient(90deg,#838383 0,#848484 8.9%,#878787 18.2%,#898989 18.8%,#898989 21.4%,#858585 27.6%,#757575 39.1%,#727272 50%,#767676 61.5%,#8a8a8a 77.1%,#8c8c8c 80.7%,#8d8d8d 81.2%,#8a8a8a 81.8%,#858585 91.7%,#838383 100%)"></p><p style="height:6.92px;background:linear-gradient(90deg,#848484 0,#868686 15.6%,#888888 16.1%,#878787 21.4%,#838383 28.1%,#757575 39.6%,#727272 50.5%,#757575 60.4%,#828282 71.4%,#8a8a8a 81.8%,#8a8a8a 83.9%,#888888 84.4%,#858585 100%)"></p><p style="height:6.92px;background:linear-gradient(90deg,#858585 0,#858585 9.9%,#888888 10.4%,#868686 21.9%,#828282 29.2%,#767676 40.1%,#747474 50.5%,#767676 59.4%,#828282 71.4%,#888888 83.3%,#898989 89.6%,#868686 90.1%,#868686 100%)"></p><p style="height:6.92px;background:linear-gradient(90deg,#878787 0,#848484 25%,#797979 40.1%,#777777 50%,#797979 59.9%,#848484 74.5%,#878787 100%)"></p><p style="height:20.93px;background:linear-gradient(90deg,#858585 0,#848484 26%,#7d7d7d 39.6%,#7b7b7b 50%,#7d7d7d 60.4%,#848484 74%,#858585 100%)"></p></div></div>
<div class="hm" style="left:1211.2px;top:267.9px"><div><p style="height:20.93px;background:linear-gradient(90deg,#dfdfdf 0,#dfdfdf 100%)"></p><p style="height:6.92px;background:linear-gradient(90deg,#dfdfdf 0,#dddddd 50%,#dfdfdf 100%)"></p><p style="height:6.92px;background:linear-gradient(90deg,#e1e1e1 0,#dddddd 40.6%,#e1e1e1 100%)"></p><p style="height:6.92px;background:linear-gradient(90deg,#e2e2e2 0,#dddddd 35.4%,#dddddd 67.7%,#e2e2e2 100%)"></p><p style="height:6.92px;background:linear-gradient(90deg,#e4e4e4 0,#dddddd 32.8%,#dedede 49.5%,#dddddd 69.8%,#e4e4e4 100%)"></p><p style="height:6.92px;background:linear-gradient(90deg,#e7e7e7 0,#e6e6e6 6.2%,#dddddd 29.2%,#dfdfdf 50%,#dddddd 68.8%,#e7e7e7 100%)"></p><p style="height:6.92px;background:linear-gradient(90deg,#eaeaea 0,#e9e9e9 6.2%,#e0e0e0 19.3%,#dcdcdc 30.2%,#e0e0e0 50%,#dddddd 71.4%,#e0e0e0 81.2%,#e8e8e8 93.2%,#eaeaea 100%)"></p><p style="height:6.92px;background:linear-gradient(90deg,#ededed 0,#ebebeb 6.2%,#e1e1e1 18.8%,#dcdcdc 29.2%,#e2e2e2 50%,#dcdcdc 71.9%,#e1e1e1 81.8%,#ebebeb 93.2%,#ededed 100%)"></p><p style="height:6.92px;background:linear-gradient(90deg,#f0f0f0 0,#eeeeee 6.2%,#e1e1e1 18.8%,#dcdcdc 28.6%,#e4e4e4 50%,#dcdcdc 72.4%,#e2e2e2 81.8%,#ededed 93.2%,#f0f0f0 100%)"></p><p style="height:6.92px;background:linear-gradient(90deg,#f2f2f2 0,#f0f0f0 6.8%,#e1e1e1 18.8%,#dbdbdb 28.1%,#e7e7e7 50%,#dcdcdc 72.9%,#e2e2e2 81.8%,#f0f0f0 93.2%,#f2f2f2 100%)"></p><p style="height:6.92px;background:linear-gradient(90deg,#f5f5f5 0,#f2f2f2 6.8%,#e2e2e2 18.8%,#dbdbdb 28.1%,#e8e8e8 44.8%,#e9e9e9 50%,#e8e8e8 55.2%,#dddddd 68.8%,#dbdbdb 72.9%,#e2e2e2 81.2%,#f2f2f2 93.2%,#f5f5f5 100%)"></p><p style="height:6.92px;background:linear-gradient(90deg,#f8f8f8 0,#f5f5f5 6.2%,#e2e2e2 18.8%,#dbdbdb 26.6%,#dcdcdc 30.7%,#eaeaea 44.8%,#ececec 50%,#eaeaea 55.7%,#e1e1e1 64.1%,#dbdbdb 72.4%,#e2e2e2 81.2%,#f5f5f5 93.8%,#f8f8f8 100%)"></p><p style="height:6.92px;background:linear-gradient(90deg,#fafafa 0,#f7f7f7 6.2%,#e2e2e2 18.8%,#dadada 27.1%,#e1e1e1 35.4%,#ececec 44.3%,#efefef 50%,#ededed 55.2%,#e0e0e0 65.6%,#dadada 73.4%,#e2e2e2 81.2%,#f7f7f7 93.8%,#fafafa 100%)"></p><p style="height:6.92px;background:linear-gradient(90deg,#fcfcfc 0,#f8f8f8 6.8%,#e2e2e2 19.3%,#dadada 27.1%,#e2e2e2 34.9%,#efefef 44.3%,#f2f2f2 50%,#efefef 55.2%,#e0e0e0 66.1%,#dbdbdb 71.4%,#dadada 74%,#e2e2e2 81.2%,#f8f8f8 93.2%,#fcfcfc 100%)"></p><p style="height:6.92px;background:linear-gradient(90deg,#fdfdfd 0,#fcfcfc 3.6%,#f9f9f9 7.3%,#e3e3e3 18.8%,#d9d9d9 26%,#dadada 28.1%,#e2e2e2 34.4%,#f1f1f1 44.3%,#f5f5f5 50%,#f1f1f1 55.7%,#e2e2e2 65.6%,#d9d9d9 73.4%,#e3e3e3 81.2%,#fafafa 93.2%,#fdfdfd 100%)"></p><p style="height:6.92px;background:linear-gradient(90deg,#fefefe 0,#fdfdfd 3.6%,#fafafa 7.3%,#e3e3e3 18.8%,#d9d9d9 26%,#dadada 28.1%,#e2e2e2 33.9%,#f3f3f3 43.8%,#f7f7f7 50%,#f3f3f3 56.2%,#e2e2e2 66.1%,#d9d9d9 73.4%,#e3e3e3 81.2%,#fafafa 92.7%,#fdfdfd 96.4%,#fefefe 100%)"></p><p style="height:6.92px;background:linear-gradient(90deg,#ffffff 0,#fefefe 3.6%,#fbfbfb 7.3%,#e2e2e2 18.8%,#d8d8d8 26%,#e2e2e2 33.3%,#f6f6f6 44.8%,#fafafa 50%,#f6f6f6 55.2%,#e2e2e2 66.7%,#d9d9d9 72.4%,#d9d9d9 74.5%,#e2e2e2 81.2%,#fafafa 92.2%,#fefefe 95.8%,#ffffff 100%)"></p><p style="height:6.92px;background:linear-gradient(90deg,#ffffff 0,#fefefe 4.2%,#fafafa 7.8%,#e2e2e2 18.8%,#d8d8d8 26%,#e2e2e2 33.3%,#f8f8f8 44.3%,#fcfcfc 50%,#f8f8f8 55.7%,#e2e2e2 66.7%,#d9d9d9 72.4%,#d8d8d8 74.5%,#e2e2e2 81.2%,#fafafa 92.2%,#fefefe 95.8%,#ffffff 100%)"></p><p style="height:6.92px;background:linear-gradient(90deg,#ffffff 0,#fefefe 3.6%,#fbfbfb 7.3%,#e2e2e2 18.8%,#dadada 24%,#d8d8d8 26%,#e3e3e3 33.3%,#f8f8f8 43.8%,#fdfdfd 50%,#f9f9f9 55.7%,#e2e2e2 67.2%,#d9d9d9 72.4%,#d8d8d8 74.5%,#e2e2e2 81.2%,#fafafa 92.2%,#fefefe 95.8%,#ffffff 100%)"></p><p style="height:6.92px;background:linear-gradient(90deg,#fefefe 0,#fefefe 3.6%,#fafafa 7.3%,#e3e3e3 18.2%,#d8d8d8 25.5%,#e2e2e2 32.8%,#fafafa 44.3%,#fefefe 48.4%,#fdfdfd 52.6%,#f9f9f9 56.8%,#e2e2e2 67.2%,#d8d8d8 74.5%,#e3e3e3 81.8%,#fafafa 92.7%,#fefefe 96.4%,#fefefe 100%)"></p><p style="height:6.92px;background:linear-gradient(90deg,#fefefe 0,#fdfdfd 3.6%,#f9f9f9 7.3%,#e2e2e2 18.2%,#d8d8d8 25.5%,#e3e3e3 32.8%,#f9f9f9 43.2%,#fefefe 47.4%,#fefefe 52.1%,#fafafa 56.2%,#e3e3e3 67.2%,#d8d8d8 74.5%,#e2e2e2 81.8%,#f9f9f9 92.7%,#fdfdfd 96.4%,#fefefe 100%)"></p><p style="height:6.92px;background:linear-gradient(90deg,#fdfdfd 0,#fcfcfc 3.6%,#f9f9f9 6.8%,#e3e3e3 17.7%,#d8d8d8 25%,#e2e2e2 32.3%,#f9f9f9 42.7%,#fefefe 47.4%,#fefefe 52.1%,#fbfbfb 56.2%,#e2e2e2 67.7%,#d8d8d8 75%,#e3e3e3 82.3%,#f9f9f9 93.2%,#fcfcfc 96.4%,#fdfdfd 100%)"></p><p style="height:6.92px;background:linear-gradient(90deg,#fbfbfb 0,#f8f8f8 6.2%,#e2e2e2 17.7%,#d8d8d8 25%,#e2e2e2 32.3%,#f9f9f9 42.7%,#ffffff 47.9%,#ffffff 52.1%,#fbfbfb 56.2%,#e2e2e2 67.7%,#d8d8d8 75%,#e2e2e2 82.3%,#f8f8f8 93.8%,#fbfbfb 100%)"></p><p style="height:6.92px;background:linear-gradient(90deg,#fafafa 0,#f6f6f6 6.2%,#e2e2e2 17.7%,#d8d8d8 25%,#e3e3e3 32.3%,#fafafa 43.2%,#fefefe 47.9%,#fefefe 52.1%,#fbfbfb 56.2%,#e3e3e3 67.7%,#d8d8d8 75%,#e2e2e2 82.3%,#f6f6f6 93.8%,#fafafa 100%)"></p><p style="height:6.92px;background:linear-gradient(90deg,#f7f7f7 0,#f7f7f7 3.1%,#f3f3f3 6.8%,#e2e2e2 17.2%,#d9d9d9 24.5%,#e3e3e3 32.3%,#f9f9f9 43.2%,#fefefe 47.9%,#fefefe 52.1%,#fafafa 56.2%,#e3e3e3 67.7%,#d9d9d9 75.5%,#e2e2e2 82.8%,#f3f3f3 93.2%,#f7f7f7 96.9%,#f7f7f7 100%)"></p><p style="height:6.92px;background:linear-gradient(90deg,#f5f5f5 0,#f1f1f1 6.8%,#e2e2e2 16.7%,#d9d9d9 24.5%,#e3e3e3 32.3%,#f9f9f9 43.8%,#fdfdfd 48.4%,#fdfdfd 52.1%,#fafafa 55.7%,#e3e3e3 67.7%,#d9d9d9 75.5%,#e2e2e2 83.3%,#f1f1f1 93.2%,#f5f5f5 100%)"></p><p style="height:6.92px;background:linear-gradient(90deg,#f2f2f2 0,#efefef 6.2%,#e1e1e1 16.1%,#dadada 24%,#e2e2e2 31.8%,#f7f7f7 43.2%,#fcfcfc 48.4%,#fbfbfb 52.1%,#f8f8f8 55.7%,#e3e3e3 67.7%,#dadada 75.5%,#e1e1e1 83.9%,#efefef 93.8%,#f2f2f2 100%)"></p><p style="height:6.92px;background:linear-gradient(90deg,#efefef 0,#ededed 6.2%,#e1e1e1 15.6%,#dadada 24%,#e2e2e2 31.8%,#f5f5f5 43.2%,#fafafa 48.4%,#f7f7f7 55.2%,#e2e2e2 67.7%,#dadada 76%,#e1e1e1 84.4%,#ededed 93.8%,#efefef 100%)"></p><p style="height:6.92px;background:linear-gradient(90deg,#ececec 0,#eaeaea 6.2%,#e0e0e0 15.6%,#dbdbdb 23.4%,#e1e1e1 31.8%,#f3f3f3 42.7%,#f8f8f8 49%,#f5f5f5 55.2%,#e2e2e2 67.7%,#dbdbdb 76%,#dfdfdf 83.3%,#eaeaea 93.8%,#ececec 100%)"></p><p style="height:6.92px;background:linear-gradient(90deg,#e9e9e9 0,#e8e8e8 6.2%,#dbdbdb 22.9%,#e1e1e1 31.8%,#f1f1f1 42.7%,#f5f5f5 49%,#f2f2f2 55.7%,#e2e2e2 67.7%,#dbdbdb 76.6%,#e8e8e8 94.3%,#e9e9e9 100%)"></p><p style="height:6.92px;background:linear-gradient(90deg,#e7e7e7 0,#e6e6e6 5.2%,#dcdcdc 23.4%,#e1e1e1 32.3%,#f0f0f0 44.3%,#f2f2f2 50%,#f0f0f0 55.7%,#e1e1e1 67.7%,#dcdcdc 76.6%,#e6e6e6 94.8%,#e7e7e7 100%)"></p><p style="height:6.92px;background:linear-gradient(90deg,#e4e4e4 0,#dcdcdc 23.4%,#e2e2e2 32.8%,#ededed 44.3%,#f0f0f0 50%,#ededed 55.7%,#e2e2e2 67.2%,#dcdcdc 76.6%,#e4e4e4 100%)"></p><p style="height:6.92px;background:linear-gradient(90deg,#e2e2e2 0,#dcdcdc 22.9%,#e1e1e1 32.8%,#ebebeb 44.3%,#ededed 50%,#ebebeb 55.7%,#e1e1e1 67.2%,#dcdcdc 77.1%,#e2e2e2 100%)"></p><p style="height:6.92px;background:linear-gradient(90deg,#e0e0e0 0,#dddddd 22.4%,#e0e0e0 32.3%,#e8e8e8 44.3%,#eaeaea 50%,#e8e8e8 55.7%,#e0e0e0 67.7%,#dddddd 77.6%,#e0e0e0 100%)"></p><p style="height:6.92px;background:linear-gradient(90deg,#dfdfdf 0,#dddddd 21.9%,#e7e7e7 50%,#dddddd 78.1%,#dfdfdf 100%)"></p><p style="height:6.92px;background:linear-gradient(90deg,#dedede 0,#dddddd 20.8%,#e4e4e4 50%,#dddddd 79.2%,#dedede 100%)"></p><p style="height:6.92px;background:linear-gradient(90deg,#dedede 0,#dddddd 19.8%,#e2e2e2 50%,#dddddd 80.2%,#dedede 100%)"></p><p style="height:6.92px;background:linear-gradient(90deg,#dddddd 0,#e1e1e1 50%,#dddddd 100%)"></p><p style="height:6.92px;background:linear-gradient(90deg,#dddddd 0,#dfdfdf 50%,#dddddd 100%)"></p><p style="height:20.93px;background:linear-gradient(90deg,#dedede 0,#dedede 100%)"></p></div></div>
<div class="hm" style="left:281.9px;top:566.0px"><div><p style="height:20.93px;background:linear-gradient(90deg,#5e5e5e 0,#5e5e5e 100%)"></p><p style="height:6.92px;background:linear-gradient(90deg,#5e5e5e 0,#5e5e5e 100%)"></p><p style="height:6.92px;background:linear-gradient(90deg,#5e5e5e 0,#5b5b5b 50%,#5e5e5e 100%)"></p><p style="height:6.92px;background:linear-gradient(90deg,#5f5f5f 0,#5a5a5a 29.7%,#5a5a5a 50%,#5a5a5a 70.3%,#5f5f5f 100%)"></p><p style="height:6.92px;background:linear-gradient(90deg,#616161 0,#606060 7.3%,#585858 28.6%,#585858 50%,#585858 71.4%,#616161 100%)"></p><p style="height:6.92px;background:linear-gradient(90deg,#646464 0,#636363 6.2%,#575757 27.6%,#555555 50%,#575757 72.4%,#646464 100%)"></p><p style="height:6.92px;background:linear-gradient(90deg,#686868 0,#676767 6.2%,#5a5a5a 19.3%,#555555 27.1%,#525252 50%,#555555 72.9%,#5b5b5b 82.8%,#676767 95.3%,#696969 100%)"></p><p style="height:6.92px;background:linear-gradient(90deg,#6e6e6e 0,#6d6d6d 5.2%,#595959 19.3%,#535353 26.6%,#505050 50%,#535353 73.4%,#5c5c5c 83.3%,#6d6d6d 96.4%,#6f6f6f 100%)"></p><p style="height:6.92px;background:linear-gradient(90deg,#787878 0,#7a7a7a 2.1%,#777777 4.7%,#5f5f5f 15.6%,#575757 20.8%,#505050 27.1%,#525252 39.1%,#4f4f4f 50.5%,#525252 61.5%,#4f4f4f 70.3%,#515151 74.5%,#5b5b5b 82.8%,#646464 88.5%,#777777 96.9%,#7a7a7a 100%)"></p><p style="height:6.92px;background:linear-gradient(90deg,#878787 0,#8a8a8a 2.1%,#888888 3.6%,#6d6d6d 10.9%,#636363 14.6%,#565656 20.8%,#4e4e4e 26.6%,#4e4e4e 30.2%,#535353 39.1%,#535353 60.4%,#4e4e4e 71.4%,#515151 76%,#626262 86.5%,#6c6c6c 90.6%,#878787 97.9%,#8a8a8a 100%)"></p><p style="height:6.92px;background:linear-gradient(90deg,#9f9f9f 0,#a3a3a3 2.1%,#a1a1a1 3.6%,#969696 5.7%,#7e7e7e 8.9%,#6c6c6c 12.5%,#606060 16.1%,#585858 19.8%,#4e4e4e 25.5%,#4c4c4c 29.7%,#535353 36.5%,#565656 41.1%,#565656 55.2%,#545454 62.5%,#4c4c4c 71.9%,#4e4e4e 75%,#595959 81.2%,#616161 85.4%,#696969 88.5%,#717171 90.6%,#7f7f7f 93.2%,#939393 95.8%,#9d9d9d 97.4%,#a2a2a2 99%,#a3a3a3 100%)"></p><p style="height:6.92px;background:linear-gradient(90deg,#bcbcbc 0,#c0c0c0 1%,#c2c2c2 2.1%,#c0c0c0 3.1%,#bbbbbb 4.2%,#aeaeae 5.7%,#818181 9.9%,#6d6d6d 13%,#5e5e5e 17.2%,#4d4d4d 24.5%,#4b4b4b 28.6%,#595959 40.1%,#5c5c5c 50.5%,#585858 60.4%,#4c4c4c 69.8%,#4b4b4b 72.4%,#4d4d4d 75.5%,#5a5a5a 81.8%,#626262 85.4%,#6c6c6c 88.5%,#747474 90.1%,#828282 92.2%,#aaaaaa 95.8%,#b8b8b8 97.4%,#c0c0c0 99%,#c2c2c2 100%)"></p><p style="height:6.92px;background:linear-gradient(90deg,#d5d5d5 0,#d9d9d9 1%,#d9d9d9 2.6%,#d7d7d7 3.6%,#d1d1d1 4.7%,#c1c1c1 6.2%,#858585 10.4%,#777777 12%,#6d6d6d 13.5%,#5f5f5f 17.2%,#4d4d4d 24%,#4a4a4a 26.6%,#4a4a4a 28.6%,#5c5c5c 39.6%,#616161 46.4%,#626262 50.5%,#5c5c5c 60.4%,#4b4b4b 70.3%,#494949 72.9%,#4d4d4d 76%,#606060 84.4%,#6e6e6e 88.5%,#818181 91.1%,#8e8e8e 92.2%,#bcbcbc 95.3%,#cecece 96.9%,#d7d7d7 98.4%,#dadada 100%)"></p><p style="height:6.92px;background:linear-gradient(90deg,#e2e2e2 0,#e4e4e4 1.6%,#e4e4e4 3.1%,#e0e0e0 4.7%,#d9d9d9 5.7%,#d4d4d4 6.2%,#c6c6c6 7.3%,#a0a0a0 9.4%,#868686 10.9%,#7b7b7b 12%,#6f6f6f 13.5%,#5f5f5f 17.2%,#4c4c4c 24%,#494949 26%,#494949 28.1%,#5d5d5d 39.1%,#666666 46.4%,#686868 50.5%,#666666 54.2%,#5d5d5d 60.9%,#4b4b4b 70.3%,#484848 72.9%,#4b4b4b 75.5%,#595959 81.8%,#636363 85.4%,#6d6d6d 88%,#787878 89.6%,#818181 90.6%,#a2a2a2 92.7%,#c8c8c8 94.8%,#d6d6d6 95.8%,#e0e0e0 97.4%,#e4e4e4 100%)"></p><p style="height:6.92px;background:linear-gradient(90deg,#e8e8e8 0,#ececec 1.6%,#ebebeb 2.6%,#e4e4e4 5.2%,#dfdfdf 6.2%,#dadada 6.8%,#cbcbcb 7.8%,#a0a0a0 9.9%,#848484 11.5%,#757575 13%,#6a6a6a 14.6%,#616161 16.7%,#4b4b4b 24%,#484848 26%,#484848 28.1%,#5e5e5e 38%,#6a6a6a 45.8%,#6d6d6d 50%,#686868 55.7%,#5b5b5b 63.5%,#4a4a4a 70.8%,#474747 73.4%,#4b4b4b 76%,#606060 84.4%,#6f6f6f 88%,#7b7b7b 89.6%,#878787 90.6%,#a2a2a2 92.2%,#cdcdcd 94.3%,#dbdbdb 95.3%,#e0e0e0 95.8%,#e4e4e4 96.9%,#ebebeb 99%,#ececec 100%)"></p><p style="height:6.92px;background:linear-gradient(90deg,#efefef 0,#f7f7f7 1.6%,#f6f6f6 2.6%,#e0e0e0 6.8%,#dadada 7.3%,#c9c9c9 8.3%,#a6a6a6 9.9%,#888888 11.5%,#7a7a7a 12.5%,#6e6e6e 14.1%,#5d5d5d 17.7%,#4a4a4a 24%,#474747 26%,#484848 28.1%,#5d5d5d 37%,#6f6f6f 46.4%,#737373 50%,#6d6d6d 55.2%,#5a5a5a 64.6%,#494949 71.4%,#474747 73.4%,#4a4a4a 76%,#606060 84.4%,#676767 86.5%,#6f6f6f 88%,#7c7c7c 89.6%,#828282 90.1%,#8a8a8a 90.6%,#a9a9a9 92.2%,#cccccc 93.8%,#dcdcdc 94.8%,#e1e1e1 95.3%,#f3f3f3 98.4%,#f7f7f7 100%)"></p><p style="height:6.92px;background:linear-gradient(90deg,#f5f5f5 0,#fefefe 1.6%,#fdfdfd 2.6%,#f8f8f8 3.6%,#eaeaea 5.2%,#dddddd 7.3%,#cccccc 8.3%,#a8a8a8 9.9%,#888888 11.5%,#7b7b7b 12.5%,#6d6d6d 14.1%,#5f5f5f 17.2%,#494949 24%,#474747 26%,#484848 28.1%,#595959 34.4%,#6e6e6e 43.8%,#7b7b7b 47.9%,#7d7d7d 50%,#7b7b7b 52.1%,#6e6e6e 56.2%,#595959 65.6%,#494949 71.4%,#474747 74%,#4a4a4a 76.6%,#606060 84.4%,#676767 86.5%,#6f6f6f 88%,#777777 89.1%,#828282 90.1%,#9f9f9f 91.7%,#cfcfcf 93.8%,#dedede 94.8%,#ebebeb 96.9%,#f8f8f8 98.4%,#fefefe 99.5%,#fefefe 100%)"></p><p style="height:6.92px;background:linear-gradient(90deg,#f4f4f4 0,#fdfdfd 1.6%,#fcfcfc 2.6%,#f7f7f7 3.6%,#eaeaea 5.2%,#e1e1e1 6.8%,#dcdcdc 7.3%,#cbcbcb 8.3%,#a6a6a6 9.9%,#868686 11.5%,#7f7f7f 12%,#707070 13.5%,#6a6a6a 14.6%,#606060 16.7%,#4a4a4a 23.4%,#464646 25.5%,#484848 27.6%,#6f6f6f 42.7%,#757575 44.3%,#808080 46.4%,#959595 48.4%,#999999 49%,#9b9b9b 50%,#999999 51%,#959595 51.6%,#808080 53.6%,#707070 56.8%,#4a4a4a 71.4%,#464646 74%,#4a4a4a 76.6%,#5f5f5f 84.4%,#676767 86.5%,#6e6e6e 88%,#7b7b7b 89.6%,#818181 90.1%,#898989 90.6%,#a9a9a9 92.2%,#cdcdcd 93.8%,#dddddd 94.8%,#ebebeb 96.9%,#f8f8f8 98.4%,#fdfdfd 99.5%,#fdfdfd 100%)"></p><p style="height:6.92px;background:linear-gradient(90deg,#ededed 0,#f5f5f5 1.6%,#f4f4f4 2.6%,#dedede 6.8%,#cecece 7.8%,#a0a0a0 9.9%,#828282 11.5%,#777777 12.5%,#6f6f6f 13.5%,#5f5f5f 16.7%,#494949 23.4%,#464646 25.5%,#484848 27.6%,#666666 39.1%,#727272 42.7%,#7f7f7f 44.8%,#868686 45.3%,#9b9b9b 46.4%,#b2b2b2 47.9%,#bababa 49%,#bdbdbd 50%,#bababa 51%,#b2b2b2 52.1%,#9b9b9b 53.6%,#868686 54.7%,#7f7f7f 55.2%,#727272 57.3%,#666666 60.9%,#585858 66.7%,#4a4a4a 71.4%,#464646 74.5%,#494949 76.6%,#606060 84.9%,#686868 87%,#707070 88.5%,#797979 89.6%,#858585 90.6%,#a2a2a2 92.2%,#c7c7c7 93.8%,#d9d9d9 94.8%,#e2e2e2 95.8%,#f3f3f3 99%,#f5f5f5 100%)"></p><p style="height:6.92px;background:linear-gradient(90deg,#e7e7e7 0,#eaeaea 1.6%,#eaeaea 2.6%,#e4e4e4 4.7%,#e0e0e0 5.7%,#d5d5d5 6.8%,#cdcdcd 7.3%,#a1a1a1 9.4%,#848484 10.9%,#747474 12.5%,#696969 14.1%,#606060 16.1%,#494949 23.4%,#464646 25.5%,#484848 27.6%,#666666 38.5%,#737373 42.2%,#7e7e7e 43.8%,#858585 44.3%,#9f9f9f 45.3%,#b5b5b5 46.4%,#cdcdcd 47.9%,#d6d6d6 49%,#d8d8d8 50%,#d6d6d6 51%,#cdcdcd 52.1%,#b5b5b5 53.6%,#9f9f9f 54.7%,#858585 55.7%,#7e7e7e 56.2%,#737373 57.8%,#666666 61.5%,#4a4a4a 71.9%,#464646 74.5%,#494949 76.6%,#616161 85.4%,#6e6e6e 88.5%,#7a7a7a 90.1%,#868686 91.1%,#a3a3a3 92.7%,#c5c5c5 94.3%,#cfcfcf 94.8%,#dddddd 95.8%,#e5e5e5 97.4%,#eaeaea 100%)"></p><p style="height:6.92px;background:linear-gradient(90deg,#e0e0e0 0,#e3e3e3 1.6%,#e2e2e2 3.1%,#dfdfdf 4.2%,#d9d9d9 5.2%,#cdcdcd 6.2%,#c5c5c5 6.8%,#a7a7a7 8.3%,#838383 10.4%,#797979 11.5%,#6d6d6d 13%,#5f5f5f 16.1%,#4c4c4c 21.9%,#474747 24%,#464646 25.5%,#494949 27.6%,#646464 37.5%,#727272 41.7%,#7e7e7e 43.2%,#888888 43.8%,#a5a5a5 44.8%,#bebebe 45.8%,#d2d2d2 46.9%,#d9d9d9 47.4%,#dddddd 47.9%,#e1e1e1 49%,#e1e1e1 51%,#dddddd 52.1%,#d2d2d2 53.1%,#c9c9c9 53.6%,#b2b2b2 54.7%,#888888 56.2%,#7e7e7e 56.8%,#767676 57.8%,#6e6e6e 59.4%,#646464 62.5%,#494949 72.4%,#464646 74.5%,#494949 77.1%,#606060 85.4%,#6e6e6e 89.1%,#7a7a7a 90.6%,#858585 91.7%,#a0a0a0 93.2%,#c7c7c7 95.3%,#d5d5d5 96.4%,#e0e0e0 97.9%,#e3e3e3 100%)"></p><p style="height:6.92px;background:linear-gradient(90deg,#d0d0d0 0,#d5d5d5 1%,#d6d6d6 2.1%,#d4d4d4 3.1%,#cfcfcf 4.2%,#bfbfbf 5.7%,#878787 9.4%,#808080 9.9%,#6c6c6c 12.5%,#5f5f5f 15.6%,#4c4c4c 21.9%,#474747 24%,#464646 25.5%,#494949 27.6%,#646464 37.5%,#6f6f6f 40.6%,#747474 41.7%,#7d7d7d 42.7%,#848484 43.2%,#a2a2a2 44.3%,#bdbdbd 45.3%,#d4d4d4 46.4%,#dbdbdb 46.9%,#dfdfdf 47.4%,#e3e3e3 48.4%,#e5e5e5 50%,#e3e3e3 51.6%,#dfdfdf 52.6%,#d4d4d4 53.6%,#cacaca 54.2%,#b0b0b0 55.2%,#848484 56.8%,#7d7d7d 57.3%,#747474 58.3%,#6d6d6d 59.9%,#636363 63%,#494949 72.4%,#464646 75%,#494949 77.1%,#606060 85.9%,#6e6e6e 89.6%,#797979 91.1%,#828282 92.2%,#b9b9b9 95.8%,#c6c6c6 96.9%,#d3d3d3 98.4%,#d6d6d6 100%)"></p><p style="height:6.92px;background:linear-gradient(90deg,#b5b5b5 0,#bababa 1%,#bcbcbc 2.1%,#b7b7b7 3.6%,#aaaaaa 5.2%,#808080 8.9%,#717171 10.9%,#696969 12.5%,#606060 15.1%,#4a4a4a 22.4%,#464646 24.5%,#474747 26%,#656565 37.5%,#727272 41.1%,#7e7e7e 42.7%,#878787 43.2%,#b4b4b4 44.8%,#cecece 45.8%,#d7d7d7 46.4%,#dddddd 46.9%,#e1e1e1 47.4%,#e4e4e4 48.4%,#e4e4e4 51.6%,#e1e1e1 52.6%,#d7d7d7 53.6%,#cecece 54.2%,#b4b4b4 55.2%,#878787 56.8%,#7e7e7e 57.3%,#757575 58.3%,#6d6d6d 59.9%,#636363 63%,#4a4a4a 72.4%,#464646 75%,#4a4a4a 77.6%,#565656 81.8%,#626262 87%,#6d6d6d 90.1%,#767676 91.7%,#828282 93.2%,#9b9b9b 95.3%,#b0b0b0 97.4%,#bababa 99%,#bcbcbc 100%)"></p><p style="height:6.92px;background:linear-gradient(90deg,#999999 0,#9e9e9e 1.6%,#9d9d9d 3.1%,#959595 4.7%,#7a7a7a 8.3%,#6a6a6a 11.5%,#494949 22.4%,#464646 24.5%,#474747 26%,#656565 37.5%,#6d6d6d 40.1%,#757575 41.7%,#7d7d7d 42.7%,#858585 43.2%,#a3a3a3 44.3%,#bebebe 45.3%,#d4d4d4 46.4%,#dadada 46.9%,#dfdfdf 47.4%,#e3e3e3 48.4%,#e4e4e4 51%,#dfdfdf 52.6%,#d4d4d4 53.6%,#cacaca 54.2%,#b1b1b1 55.2%,#858585 56.8%,#7d7d7d 57.3%,#757575 58.3%,#6d6d6d 59.9%,#636363 63%,#494949 72.9%,#464646 75.5%,#4a4a4a 78.1%,#565656 82.3%,#636363 88%,#6b6b6b 90.6%,#7e7e7e 94.3%,#999999 97.9%,#9d9d9d 99%,#9e9e9e 100%)"></p><p style="height:6.92px;background:linear-gradient(90deg,#828282 0,#858585 1.6%,#848484 3.1%,#7c7c7c 5.7%,#696969 10.4%,#4b4b4b 21.4%,#474747 24%,#494949 26.6%,#666666 38%,#6e6e6e 40.6%,#777777 42.2%,#7f7f7f 43.2%,#8a8a8a 43.8%,#999999 44.3%,#b2b2b2 45.3%,#d1d1d1 46.9%,#d7d7d7 47.4%,#dedede 48.4%,#e1e1e1 50%,#dedede 51.6%,#d7d7d7 52.6%,#d1d1d1 53.1%,#b2b2b2 54.7%,#999999 55.7%,#8a8a8a 56.2%,#7f7f7f 56.8%,#777777 57.8%,#6e6e6e 59.4%,#666666 62%,#494949 73.4%,#474747 75.5%,#484848 77.1%,#565656 82.8%,#626262 88.5%,#6c6c6c 92.2%,#828282 97.9%,#868686 100%)"></p><p style="height:6.92px;background:linear-gradient(90deg,#757575 0,#777777 2.1%,#747474 4.7%,#494949 22.4%,#474747 24.5%,#494949 26.6%,#656565 38%,#747474 42.2%,#7f7f7f 43.8%,#878787 44.3%,#aaaaaa 45.8%,#c3c3c3 47.4%,#cecece 48.4%,#d1d1d1 49%,#d4d4d4 50%,#d1d1d1 51%,#cecece 51.6%,#c3c3c3 52.6%,#aaaaaa 54.2%,#878787 55.7%,#7f7f7f 56.2%,#747474 57.8%,#656565 62%,#494949 73.4%,#474747 75.5%,#494949 77.6%,#565656 83.3%,#646464 90.6%,#747474 97.4%,#777777 100%)"></p><p style="height:6.92px;background:linear-gradient(90deg,#6c6c6c 0,#6d6d6d 2.6%,#6b6b6b 5.2%,#5c5c5c 13.5%,#4a4a4a 21.9%,#484848 24%,#494949 26%,#646464 38%,#737373 42.7%,#7f7f7f 44.8%,#868686 45.3%,#999999 46.4%,#acacac 47.9%,#b4b4b4 49%,#b6b6b6 50%,#b4b4b4 51%,#acacac 52.1%,#999999 53.6%,#868686 54.7%,#7f7f7f 55.2%,#737373 57.3%,#646464 62%,#494949 74%,#484848 76%,#494949 77.6%,#575757 84.4%,#686868 94.8%,#6d6d6d 100%)"></p><p style="height:6.92px;background:linear-gradient(90deg,#666666 0,#676767 3.1%,#646464 6.2%,#5b5b5b 12.5%,#4a4a4a 21.4%,#494949 25%,#626262 37.5%,#6f6f6f 42.7%,#7e7e7e 46.4%,#8d8d8d 48.4%,#939393 50%,#8d8d8d 51.6%,#7e7e7e 53.6%,#6f6f6f 57.3%,#626262 62.5%,#494949 75%,#4a4a4a 78.1%,#585858 85.9%,#656565 95.8%,#676767 100%)"></p><p style="height:6.92px;background:linear-gradient(90deg,#616161 0,#616161 3.6%,#5e5e5e 8.3%,#565656 14.6%,#4b4b4b 20.8%,#4a4a4a 24.5%,#4d4d4d 27.1%,#626262 38.5%,#777777 47.9%,#797979 50.5%,#767676 52.6%,#626262 61.5%,#4d4d4d 72.9%,#494949 76.6%,#4b4b4b 79.2%,#565656 85.4%,#5c5c5c 91.1%,#626262 100%)"></p><p style="height:6.92px;background:linear-gradient(90deg,#5e5e5e 0,#5c5c5c 7.8%,#4c4c4c 20.8%,#4b4b4b 24%,#4e4e4e 27.1%,#6c6c6c 45.3%,#707070 50.5%,#6a6a6a 55.7%,#4d4d4d 73.4%,#4a4a4a 77.1%,#4c4c4c 79.7%,#585858 88.5%,#5d5d5d 95.3%,#5e5e5e 100%)"></p><p style="height:6.92px;background:linear-gradient(90deg,#5b5b5b 0,#585858 8.3%,#4d4d4d 19.8%,#4c4c4c 23.4%,#4e4e4e 26.6%,#676767 44.8%,#6a6a6a 50%,#676767 55.2%,#4e4e4e 73.4%,#4c4c4c 76.6%,#4d4d4d 80.2%,#575757 90.1%,#5b5b5b 100%)"></p><p style="height:6.92px;background:linear-gradient(90deg,#585858 0,#565656 8.3%,#4e4e4e 19.3%,#4d4d4d 23.4%,#626262 44.3%,#656565 50%,#626262 55.7%,#4d4d4d 76.6%,#4e4e4e 80.7%,#565656 91.7%,#585858 100%)"></p><p style="height:6.92px;background:linear-gradient(90deg,#565656 0,#555555 7.3%,#4e4e4e 18.8%,#4e4e4e 22.9%,#5d5d5d 42.7%,#606060 50%,#5d5d5d 57.3%,#4e4e4e 77.1%,#4e4e4e 81.2%,#555555 92.7%,#565656 100%)"></p><p style="height:6.92px;background:linear-gradient(90deg,#545454 0,#4f4f4f 22.4%,#5a5a5a 41.7%,#5c5c5c 50%,#5a5a5a 58.3%,#4f4f4f 77.6%,#545454 100%)"></p><p style="height:6.92px;background:linear-gradient(90deg,#525252 0,#4f4f4f 21.9%,#595959 50%,#4f4f4f 78.1%,#525252 100%)"></p><p style="height:6.92px;background:linear-gradient(90deg,#515151 0,#505050 21.4%,#565656 50%,#505050 78.6%,#515151 100%)"></p><p style="height:6.92px;background:linear-gradient(90deg,#515151 0,#515151 20.3%,#545454 50%,#515151 79.7%,#515151 100%)"></p><p style="height:6.92px;background:linear-gradient(90deg,#515151 0,#535353 50%,#515151 100%)"></p><p style="height:6.92px;background:linear-gradient(90deg,#525252 0,#525252 100%)"></p><p style="height:20.93px;background:linear-gradient(90deg,#525252 0,#525252 100%)"></p></div></div>
<div class="hm" style="left:591.8px;top:566.0px"><div><p style="height:20.93px;background:linear-gradient(90deg,#626262 0,#626262 100%)"></p><p style="height:6.92px;background:linear-gradient(90deg,#616161 0,#616161 100%)"></p><p style="height:6.92px;background:linear-gradient(90deg,#616161 0,#616161 100%)"></p><p style="height:6.92px;background:linear-gradient(90deg,#626262 0,#606060 30.2%,#5f5f5f 64.6%,#626262 100%)"></p><p style="height:6.92px;background:linear-gradient(90deg,#646464 0,#5f5f5f 29.2%,#5e5e5e 67.2%,#646464 100%)"></p><p style="height:6.92px;background:linear-gradient(90deg,#676767 0,#676767 5.2%,#606060 18.2%,#5d5d5d 28.1%,#606060 50%,#5d5d5d 68.8%,#606060 83.9%,#676767 100%)"></p><p style="height:6.92px;background:linear-gradient(90deg,#6b6b6b 0,#6b6b6b 5.2%,#606060 18.2%,#5c5c5c 27.6%,#616161 50%,#5c5c5c 69.8%,#606060 82.8%,#6a6a6a 95.3%,#6b6b6b 100%)"></p><p style="height:6.92px;background:linear-gradient(90deg,#707070 0,#707070 5.2%,#606060 18.8%,#5b5b5b 27.1%,#5b5b5b 33.3%,#626262 44.8%,#646464 50%,#5b5b5b 70.8%,#606060 82.8%,#6e6e6e 95.3%,#717171 100%)"></p><p style="height:6.92px;background:linear-gradient(90deg,#777777 0,#777777 4.7%,#636363 16.1%,#5a5a5a 26.6%,#5a5a5a 32.8%,#656565 44.8%,#676767 50%,#656565 55.2%,#5b5b5b 65.6%,#595959 71.4%,#616161 83.3%,#666666 87.5%,#767676 96.4%,#787878 100%)"></p><p style="height:6.92px;background:linear-gradient(90deg,#818181 0,#828282 2.1%,#818181 4.2%,#646464 16.1%,#5e5e5e 20.3%,#585858 26%,#585858 29.2%,#5a5a5a 32.8%,#696969 44.8%,#6c6c6c 50%,#696969 55.2%,#5b5b5b 66.1%,#585858 71.9%,#5a5a5a 76%,#646464 85.4%,#6e6e6e 90.1%,#7e7e7e 96.4%,#828282 100%)"></p><p style="height:6.92px;background:linear-gradient(90deg,#909090 0,#929292 2.1%,#909090 3.6%,#747474 10.9%,#676767 15.1%,#5d5d5d 20.3%,#575757 25.5%,#565656 28.6%,#595959 31.8%,#6c6c6c 43.8%,#707070 50%,#6d6d6d 55.7%,#5a5a5a 66.7%,#565656 72.4%,#5f5f5f 81.2%,#666666 85.9%,#737373 90.6%,#8e8e8e 97.4%,#929292 100%)"></p><p style="height:6.92px;background:linear-gradient(90deg,#a5a5a5 0,#ababab 1.6%,#ababab 2.6%,#a7a7a7 3.6%,#9d9d9d 5.2%,#808080 9.4%,#717171 12.5%,#636363 17.2%,#575757 25%,#555555 27.6%,#575757 30.7%,#6f6f6f 42.7%,#727272 46.4%,#747474 50%,#6f6f6f 56.8%,#595959 67.7%,#555555 72.4%,#575757 75.5%,#606060 82.3%,#666666 85.4%,#6e6e6e 88.5%,#818181 92.7%,#a8a8a8 98.4%,#acacac 100%)"></p><p style="height:6.92px;background:linear-gradient(90deg,#cccccc 0,#d4d4d4 1.6%,#d2d2d2 3.1%,#cacaca 4.2%,#c4c4c4 4.7%,#a4a4a4 6.8%,#9d9d9d 7.3%,#8d8d8d 8.9%,#808080 10.4%,#747474 12.5%,#6c6c6c 14.6%,#646464 17.2%,#5c5c5c 20.8%,#555555 25.5%,#555555 29.2%,#5a5a5a 32.3%,#717171 42.2%,#767676 46.9%,#787878 50.5%,#767676 53.6%,#717171 57.8%,#595959 68.2%,#545454 72.9%,#565656 75.5%,#646464 84.4%,#6d6d6d 87.5%,#757575 89.6%,#818181 91.7%,#949494 93.8%,#a6a6a6 95.3%,#bfbfbf 96.9%,#cbcbcb 97.9%,#d2d2d2 99%,#d4d4d4 100%)"></p><p style="height:6.92px;background:linear-gradient(90deg,#e2e2e2 0,#e5e5e5 1%,#e5e5e5 2.6%,#dfdfdf 4.7%,#d4d4d4 5.7%,#cbcbcb 6.2%,#a7a7a7 7.8%,#9e9e9e 8.3%,#8b8b8b 9.9%,#818181 10.9%,#777777 12.5%,#6d6d6d 14.6%,#646464 17.2%,#5b5b5b 20.8%,#545454 25.5%,#545454 28.6%,#595959 31.8%,#6e6e6e 39.1%,#737373 41.7%,#7a7a7a 46.4%,#7b7b7b 50.5%,#797979 54.2%,#737373 58.3%,#6e6e6e 60.9%,#585858 68.8%,#535353 72.9%,#555555 75.5%,#646464 84.4%,#6c6c6c 87%,#757575 89.1%,#828282 91.1%,#8c8c8c 92.2%,#999999 93.2%,#a0a0a0 93.8%,#aaaaaa 94.3%,#cecece 95.8%,#dcdcdc 96.9%,#e2e2e2 97.9%,#e5e5e5 100%)"></p><p style="height:6.92px;background:linear-gradient(90deg,#eaeaea 0,#ededed 1.6%,#ededed 2.6%,#e9e9e9 4.2%,#e2e2e2 5.7%,#dedede 6.2%,#d6d6d6 6.8%,#cacaca 7.3%,#adadad 8.3%,#a1a1a1 8.9%,#8a8a8a 10.4%,#808080 11.5%,#757575 13%,#6c6c6c 15.1%,#636363 17.7%,#5b5b5b 20.8%,#535353 25.5%,#545454 28.6%,#595959 31.2%,#6e6e6e 38%,#767676 41.7%,#7f7f7f 47.4%,#818181 50.5%,#7e7e7e 53.1%,#777777 57.8%,#6e6e6e 62%,#575757 69.3%,#535353 73.4%,#555555 76%,#646464 84.4%,#6f6f6f 87.5%,#767676 89.1%,#868686 91.1%,#9a9a9a 92.7%,#a3a3a3 93.2%,#cdcdcd 94.8%,#d8d8d8 95.3%,#dfdfdf 95.8%,#e6e6e6 96.9%,#eaeaea 97.9%,#eeeeee 100%)"></p><p style="height:6.92px;background:linear-gradient(90deg,#f1f1f1 0,#f6f6f6 1.6%,#f6f6f6 2.6%,#f2f2f2 3.6%,#e4e4e4 6.2%,#e0e0e0 6.8%,#d7d7d7 7.3%,#cacaca 7.8%,#aaaaaa 8.9%,#9e9e9e 9.4%,#8e8e8e 10.4%,#828282 11.5%,#767676 13%,#6e6e6e 14.6%,#646464 17.2%,#5b5b5b 20.8%,#535353 25.5%,#545454 28.6%,#5a5a5a 31.2%,#717171 38.5%,#868686 47.4%,#898989 50%,#868686 52.6%,#717171 61.5%,#575757 69.8%,#525252 73.4%,#555555 76%,#646464 84.4%,#6f6f6f 87.5%,#777777 89.1%,#7f7f7f 90.1%,#898989 91.1%,#a0a0a0 92.7%,#adadad 93.2%,#cecece 94.3%,#dadada 94.8%,#e1e1e1 95.3%,#f3f3f3 98.4%,#f6f6f6 100%)"></p><p style="height:6.92px;background:linear-gradient(90deg,#f5f5f5 0,#fdfdfd 1.6%,#fdfdfd 2.6%,#e2e2e2 6.8%,#dcdcdc 7.3%,#d0d0d0 7.8%,#aeaeae 8.9%,#a0a0a0 9.4%,#8f8f8f 10.4%,#828282 11.5%,#767676 13%,#6e6e6e 14.6%,#646464 17.2%,#5c5c5c 20.3%,#525252 25.5%,#535353 27.6%,#565656 29.7%,#6f6f6f 37%,#808080 43.2%,#959595 48.4%,#989898 50%,#959595 51.6%,#808080 56.8%,#6f6f6f 63%,#595959 69.3%,#535353 71.9%,#525252 74%,#545454 76%,#646464 84.4%,#6d6d6d 87%,#777777 89.1%,#848484 90.6%,#999999 92.2%,#a3a3a3 92.7%,#d3d3d3 94.3%,#dedede 94.8%,#e3e3e3 95.3%,#f8f8f8 98.4%,#fdfdfd 99.5%,#fefefe 100%)"></p><p style="height:6.92px;background:linear-gradient(90deg,#f5f5f5 0,#fdfdfd 1.6%,#fdfdfd 2.6%,#e2e2e2 6.8%,#dbdbdb 7.3%,#cfcfcf 7.8%,#acacac 8.9%,#9f9f9f 9.4%,#878787 10.9%,#797979 12.5%,#707070 14.1%,#656565 16.7%,#575757 22.4%,#525252 26%,#565656 29.2%,#6f6f6f 36.5%,#808080 42.2%,#878787 43.8%,#929292 45.3%,#a2a2a2 46.9%,#bbbbbb 48.4%,#c1c1c1 49%,#c6c6c6 50%,#c1c1c1 51%,#bbbbbb 51.6%,#a2a2a2 53.1%,#979797 54.2%,#8e8e8e 55.2%,#828282 57.3%,#6f6f6f 63.5%,#585858 69.8%,#545454 71.9%,#525252 74%,#545454 76%,#656565 84.9%,#6e6e6e 87.5%,#777777 89.1%,#7e7e7e 90.1%,#898989 91.1%,#a1a1a1 92.7%,#b0b0b0 93.2%,#d2d2d2 94.3%,#dddddd 94.8%,#e3e3e3 95.3%,#f8f8f8 98.4%,#fdfdfd 99.5%,#fefefe 100%)"></p><p style="height:6.92px;background:linear-gradient(90deg,#f0f0f0 0,#f6f6f6 1.6%,#f6f6f6 2.6%,#efefef 4.2%,#e3e3e3 6.2%,#dedede 6.8%,#d4d4d4 7.3%,#a4a4a4 8.9%,#9a9a9a 9.4%,#848484 10.9%,#787878 12.5%,#6f6f6f 14.1%,#646464 16.7%,#555555 22.9%,#525252 26%,#565656 29.2%,#6f6f6f 35.9%,#7d7d7d 40.6%,#838383 42.2%,#949494 44.3%,#a3a3a3 45.3%,#b2b2b2 45.8%,#c4c4c4 46.4%,#d2d2d2 46.9%,#dadada 47.4%,#e0e0e0 48.4%,#e3e3e3 50%,#e0e0e0 51.6%,#dadada 52.6%,#d2d2d2 53.1%,#c4c4c4 53.6%,#b2b2b2 54.2%,#a3a3a3 54.7%,#949494 55.7%,#838383 57.8%,#7d7d7d 59.4%,#6f6f6f 64.1%,#575757 70.3%,#535353 72.4%,#525252 74.5%,#545454 76.6%,#656565 84.9%,#6d6d6d 87.5%,#757575 89.1%,#868686 91.1%,#9d9d9d 92.7%,#a8a8a8 93.2%,#c9c9c9 94.3%,#d7d7d7 94.8%,#dfdfdf 95.3%,#e7e7e7 96.4%,#f3f3f3 98.4%,#f6f6f6 100%)"></p><p style="height:6.92px;background:linear-gradient(90deg,#eaeaea 0,#ededed 1.6%,#ededed 2.6%,#e9e9e9 4.2%,#e1e1e1 5.7%,#dbdbdb 6.2%,#d1d1d1 6.8%,#a5a5a5 8.3%,#9b9b9b 8.9%,#868686 10.4%,#757575 12.5%,#6b6b6b 14.6%,#626262 17.2%,#555555 22.9%,#525252 25.5%,#535353 27.6%,#585858 29.7%,#6e6e6e 35.4%,#7d7d7d 40.1%,#848484 41.7%,#919191 43.2%,#a1a1a1 44.3%,#b2b2b2 44.8%,#c9c9c9 45.3%,#d8d8d8 45.8%,#dfdfdf 46.4%,#e6e6e6 47.4%,#eaeaea 48.4%,#ececec 50%,#ebebeb 51%,#e3e3e3 53.1%,#d8d8d8 54.2%,#c9c9c9 54.7%,#b2b2b2 55.2%,#a1a1a1 55.7%,#919191 56.8%,#848484 58.3%,#7d7d7d 59.9%,#6e6e6e 64.6%,#585858 70.3%,#535353 72.4%,#525252 74.5%,#545454 76.6%,#656565 85.4%,#6e6e6e 88%,#767676 89.6%,#878787 91.7%,#9d9d9d 93.2%,#a8a8a8 93.8%,#c7c7c7 94.8%,#d4d4d4 95.3%,#dddddd 95.8%,#e2e2e2 96.4%,#e7e7e7 97.4%,#ececec 99%,#eeeeee 100%)"></p><p style="height:6.92px;background:linear-gradient(90deg,#e2e2e2 0,#e5e5e5 1%,#e5e5e5 2.6%,#e3e3e3 3.6%,#dedede 4.7%,#d8d8d8 5.2%,#d0d0d0 5.7%,#c5c5c5 6.2%,#ababab 7.3%,#a0a0a0 7.8%,#989898 8.3%,#8b8b8b 9.4%,#808080 10.4%,#737373 12.5%,#666666 15.6%,#5e5e5e 18.8%,#535353 23.4%,#525252 26%,#595959 29.7%,#6f6f6f 35.4%,#7c7c7c 39.6%,#838383 41.1%,#919191 42.7%,#989898 43.2%,#a3a3a3 43.8%,#b8b8b8 44.3%,#d1d1d1 44.8%,#dcdcdc 45.3%,#e6e6e6 46.4%,#f0f0f0 47.9%,#f5f5f5 49.5%,#f5f5f5 50.5%,#ededed 52.6%,#e2e2e2 54.2%,#dcdcdc 54.7%,#d1d1d1 55.2%,#b8b8b8 55.7%,#a3a3a3 56.2%,#989898 56.8%,#919191 57.3%,#838383 58.9%,#7c7c7c 60.4%,#6f6f6f 64.6%,#595959 70.3%,#545454 72.4%,#525252 74.5%,#535353 76.6%,#646464 85.4%,#6d6d6d 88%,#777777 90.1%,#868686 92.2%,#9a9a9a 93.8%,#a2a2a2 94.3%,#c8c8c8 95.8%,#d2d2d2 96.4%,#dadada 96.9%,#e2e2e2 97.9%,#e5e5e5 100%)"></p><p style="height:6.92px;background:linear-gradient(90deg,#cacaca 0,#cfcfcf .5%,#d4d4d4 1.6%,#d3d3d3 2.6%,#cecece 3.6%,#c1c1c1 4.7%,#a6a6a6 6.2%,#9e9e9e 6.8%,#8d8d8d 8.3%,#7f7f7f 9.9%,#707070 12.5%,#656565 15.6%,#5d5d5d 18.8%,#535353 23.4%,#525252 26%,#5a5a5a 29.7%,#6e6e6e 34.9%,#7d7d7d 39.6%,#858585 41.1%,#8e8e8e 42.2%,#959595 42.7%,#9f9f9f 43.2%,#afafaf 43.8%,#cbcbcb 44.3%,#dbdbdb 44.8%,#e2e2e2 45.3%,#f1f1f1 47.4%,#f7f7f7 48.4%,#fafafa 49.5%,#fafafa 50.5%,#f7f7f7 51.6%,#f1f1f1 52.6%,#e6e6e6 54.2%,#dbdbdb 55.2%,#cbcbcb 55.7%,#afafaf 56.2%,#9f9f9f 56.8%,#959595 57.3%,#8e8e8e 57.8%,#858585 58.9%,#7d7d7d 60.4%,#6e6e6e 65.1%,#585858 70.8%,#535353 72.9%,#525252 75%,#545454 77.1%,#656565 85.9%,#737373 90.1%,#808080 92.2%,#8e8e8e 93.8%,#a0a0a0 95.3%,#bbbbbb 96.9%,#cacaca 97.9%,#d2d2d2 99%,#d4d4d4 100%)"></p><p style="height:6.92px;background:linear-gradient(90deg,#a4a4a4 0,#acacac 1.6%,#a9a9a9 3.1%,#9b9b9b 5.2%,#7f7f7f 8.9%,#717171 11.5%,#666666 14.6%,#545454 22.9%,#525252 25%,#545454 27.1%,#5a5a5a 29.7%,#6f6f6f 34.9%,#7c7c7c 39.1%,#868686 41.1%,#8f8f8f 42.2%,#979797 42.7%,#a1a1a1 43.2%,#b5b5b5 43.8%,#d0d0d0 44.3%,#dddddd 44.8%,#e7e7e7 45.8%,#f6f6f6 47.9%,#fbfbfb 49.5%,#fbfbfb 50.5%,#f8f8f8 51.6%,#f3f3f3 52.6%,#e3e3e3 54.7%,#dddddd 55.2%,#d0d0d0 55.7%,#b5b5b5 56.2%,#a1a1a1 56.8%,#979797 57.3%,#8f8f8f 57.8%,#868686 58.9%,#7e7e7e 60.4%,#6f6f6f 65.1%,#595959 70.8%,#545454 72.9%,#525252 75%,#545454 77.1%,#656565 86.5%,#6e6e6e 89.6%,#808080 93.2%,#a7a7a7 98.4%,#acacac 100%)"></p><p style="height:6.92px;background:linear-gradient(90deg,#8f8f8f 0,#939393 2.1%,#909090 3.6%,#6e6e6e 11.5%,#656565 14.6%,#575757 21.4%,#525252 25%,#565656 28.1%,#626262 31.8%,#6f6f6f 34.9%,#7c7c7c 39.1%,#868686 41.1%,#8f8f8f 42.2%,#959595 42.7%,#9f9f9f 43.2%,#aeaeae 43.8%,#c9c9c9 44.3%,#dadada 44.8%,#e1e1e1 45.3%,#f3f3f3 47.9%,#f7f7f7 49%,#f8f8f8 50%,#f7f7f7 51%,#f3f3f3 52.1%,#e1e1e1 54.7%,#dadada 55.2%,#c9c9c9 55.7%,#aeaeae 56.2%,#9f9f9f 56.8%,#959595 57.3%,#8f8f8f 57.8%,#868686 58.9%,#7c7c7c 60.9%,#6f6f6f 65.1%,#5b5b5b 70.3%,#555555 72.4%,#535353 74.5%,#535353 76.6%,#666666 87.5%,#727272 91.7%,#8f8f8f 97.9%,#939393 100%)"></p><p style="height:6.92px;background:linear-gradient(90deg,#818181 0,#838383 2.1%,#818181 4.2%,#656565 13.5%,#555555 22.4%,#535353 25%,#575757 28.1%,#636363 31.8%,#6f6f6f 34.9%,#7d7d7d 39.6%,#888888 41.7%,#919191 42.7%,#a2a2a2 43.8%,#b4b4b4 44.3%,#cccccc 44.8%,#dadada 45.3%,#e5e5e5 46.4%,#ebebeb 47.4%,#f1f1f1 49%,#f2f2f2 50%,#f1f1f1 51%,#ebebeb 52.6%,#e5e5e5 53.6%,#dadada 54.7%,#cccccc 55.2%,#b4b4b4 55.7%,#a2a2a2 56.2%,#919191 57.3%,#888888 58.3%,#7d7d7d 60.4%,#6f6f6f 65.1%,#636363 68.2%,#575757 71.9%,#535353 75%,#555555 77.6%,#666666 88.5%,#7f7f7f 96.9%,#838383 100%)"></p><p style="height:6.92px;background:linear-gradient(90deg,#787878 0,#797979 2.1%,#777777 4.7%,#656565 13%,#555555 22.4%,#545454 25%,#585858 28.1%,#6f6f6f 34.9%,#7e7e7e 40.1%,#898989 42.2%,#919191 43.2%,#a0a0a0 44.3%,#ababab 44.8%,#d1d1d1 45.8%,#dbdbdb 46.4%,#dfdfdf 46.9%,#e5e5e5 47.9%,#e9e9e9 50%,#e5e5e5 52.1%,#dfdfdf 53.1%,#dbdbdb 53.6%,#d1d1d1 54.2%,#ababab 55.2%,#a0a0a0 55.7%,#919191 56.8%,#898989 57.8%,#7e7e7e 59.9%,#6f6f6f 65.1%,#585858 71.9%,#545454 75%,#555555 77.6%,#666666 89.1%,#767676 96.9%,#797979 100%)"></p><p style="height:6.92px;background:linear-gradient(90deg,#717171 0,#727272 2.6%,#6f6f6f 5.7%,#555555 22.4%,#545454 25%,#595959 28.1%,#707070 35.4%,#7e7e7e 40.6%,#888888 42.7%,#939393 44.3%,#a6a6a6 45.8%,#cbcbcb 47.4%,#d4d4d4 47.9%,#dbdbdb 49%,#dcdcdc 50%,#dbdbdb 51%,#d4d4d4 52.1%,#cbcbcb 52.6%,#a6a6a6 54.2%,#939393 55.7%,#888888 57.3%,#7e7e7e 59.4%,#707070 64.6%,#595959 71.9%,#545454 75%,#555555 77.6%,#6f6f6f 95.8%,#727272 100%)"></p><p style="height:6.92px;background:linear-gradient(90deg,#6c6c6c 0,#6b6b6b 5.7%,#565656 22.4%,#565656 26%,#5c5c5c 29.2%,#6f6f6f 35.4%,#818181 42.2%,#909090 45.3%,#a4a4a4 48.4%,#a8a8a8 50%,#a4a4a4 51.6%,#909090 54.7%,#818181 57.8%,#6f6f6f 64.6%,#5c5c5c 70.8%,#565656 74%,#565656 78.1%,#5f5f5f 84.4%,#6a6a6a 95.8%,#6d6d6d 100%)"></p><p style="height:6.92px;background:linear-gradient(90deg,#686868 0,#666666 6.8%,#575757 21.9%,#575757 25.5%,#5d5d5d 29.2%,#707070 35.9%,#818181 43.2%,#8d8d8d 47.4%,#919191 50%,#8d8d8d 52.6%,#818181 56.8%,#707070 64.1%,#5d5d5d 70.8%,#575757 74.5%,#575757 78.1%,#606060 85.9%,#686868 100%)"></p><p style="height:6.92px;background:linear-gradient(90deg,#656565 0,#646464 6.8%,#585858 21.4%,#585858 25%,#5e5e5e 29.2%,#707070 36.5%,#797979 40.6%,#848484 47.4%,#868686 50%,#848484 52.6%,#797979 59.4%,#707070 63.5%,#5e5e5e 70.8%,#585858 75%,#585858 78.6%,#606060 87.5%,#656565 100%)"></p><p style="height:6.92px;background:linear-gradient(90deg,#636363 0,#616161 10.9%,#595959 21.4%,#5a5a5a 25%,#5e5e5e 29.2%,#707070 37%,#787878 41.7%,#7d7d7d 46.4%,#7f7f7f 50%,#7d7d7d 53.6%,#787878 58.3%,#707070 63%,#5e5e5e 70.8%,#5a5a5a 75%,#595959 78.6%,#616161 89.1%,#636363 100%)"></p><p style="height:6.92px;background:linear-gradient(90deg,#626262 0,#616161 9.4%,#5b5b5b 20.8%,#5b5b5b 25%,#606060 29.7%,#757575 41.1%,#7a7a7a 45.8%,#7b7b7b 50%,#7a7a7a 54.2%,#757575 58.9%,#606060 70.3%,#5b5b5b 75%,#5b5b5b 79.2%,#616161 90.6%,#626262 100%)"></p><p style="height:6.92px;background:linear-gradient(90deg,#616161 0,#616161 8.3%,#5c5c5c 20.3%,#5d5d5d 25.5%,#616161 30.2%,#737373 41.7%,#777777 50%,#737373 58.3%,#616161 69.8%,#5d5d5d 74.5%,#5c5c5c 79.7%,#616161 91.7%,#616161 100%)"></p><p style="height:6.92px;background:linear-gradient(90deg,#616161 0,#5e5e5e 19.8%,#5f5f5f 26.6%,#666666 33.9%,#717171 42.7%,#747474 50%,#717171 57.3%,#666666 66.1%,#5f5f5f 73.4%,#5e5e5e 80.2%,#616161 100%)"></p><p style="height:6.92px;background:linear-gradient(90deg,#616161 0,#5f5f5f 19.3%,#606060 27.1%,#6e6e6e 43.8%,#717171 50%,#6e6e6e 56.2%,#606060 72.9%,#5f5f5f 80.7%,#616161 100%)"></p><p style="height:6.92px;background:linear-gradient(90deg,#616161 0,#616161 27.1%,#6b6b6b 44.3%,#6c6c6c 50%,#6b6b6b 55.7%,#616161 72.9%,#616161 100%)"></p><p style="height:6.92px;background:linear-gradient(90deg,#626262 0,#626262 27.6%,#696969 50%,#626262 72.4%,#626262 100%)"></p><p style="height:6.92px;background:linear-gradient(90deg,#626262 0,#636363 28.1%,#666666 50%,#636363 71.9%,#626262 100%)"></p><p style="height:6.92px;background:linear-gradient(90deg,#636363 0,#656565 50%,#636363 100%)"></p><p style="height:20.93px;background:linear-gradient(90deg,#646464 0,#646464 100%)"></p></div></div>
<div class="hm" style="left:901.1px;top:566.0px"><div><p style="height:20.93px;background:linear-gradient(90deg,#3d3d3d 0,#3d3d3d 18.2%,#373737 34.9%,#363636 46.4%,#363636 63.5%,#3d3d3d 82.3%,#3d3d3d 100%)"></p><p style="height:6.92px;background:linear-gradient(90deg,#3d3d3d 0,#3c3c3c 18.2%,#363636 34.9%,#353535 45.8%,#363636 63.5%,#3c3c3c 82.3%,#3d3d3d 100%)"></p><p style="height:6.92px;background:linear-gradient(90deg,#3c3c3c 0,#3b3b3b 17.2%,#343434 45.3%,#3c3c3c 100%)"></p><p style="height:6.92px;background:linear-gradient(90deg,#3b3b3b 0,#343434 44.8%,#3b3b3b 100%)"></p><p style="height:6.92px;background:linear-gradient(90deg,#3d3d3d 0,#333333 44.3%,#373737 77.6%,#3d3d3d 100%)"></p><p style="height:6.92px;background:linear-gradient(90deg,#3f3f3f 0,#3e3e3e 6.2%,#363636 23.4%,#323232 42.7%,#373737 79.2%,#3f3f3f 100%)"></p><p style="height:6.92px;background:linear-gradient(90deg,#434343 0,#434343 5.2%,#373737 18.8%,#313131 41.7%,#363636 80.2%,#444444 100%)"></p><p style="height:6.92px;background:linear-gradient(90deg,#4a4a4a 0,#494949 5.2%,#373737 19.3%,#313131 40.1%,#373737 82.3%,#3c3c3c 87.5%,#494949 96.4%,#4b4b4b 100%)"></p><p style="height:6.92px;background:linear-gradient(90deg,#535353 0,#555555 2.1%,#525252 4.7%,#404040 13%,#373737 19.3%,#333333 27.1%,#313131 37.5%,#363636 51.6%,#343434 70.8%,#373737 82.3%,#3f3f3f 88.5%,#525252 96.9%,#555555 100%)"></p><p style="height:6.92px;background:linear-gradient(90deg,#616161 0,#626262 2.6%,#606060 4.7%,#424242 13.5%,#383838 18.8%,#343434 25%,#323232 34.4%,#323232 39.6%,#393939 51%,#343434 68.8%,#383838 82.3%,#414141 88%,#5d5d5d 96.4%,#616161 97.9%,#626262 100%)"></p><p style="height:6.92px;background:linear-gradient(90deg,#6d6d6d 0,#6f6f6f 2.6%,#6a6a6a 5.2%,#636363 7.3%,#525252 10.4%,#474747 13%,#404040 15.1%,#3a3a3a 17.7%,#343434 24%,#323232 32.3%,#333333 38%,#3e3e3e 47.4%,#3f3f3f 50.5%,#363636 62.5%,#343434 67.2%,#343434 74%,#373737 81.8%,#424242 87.5%,#505050 91.1%,#666666 95.3%,#6d6d6d 97.9%,#6f6f6f 100%)"></p><p style="height:6.92px;background:linear-gradient(90deg,#7b7b7b 0,#7e7e7e 2.1%,#7a7a7a 4.2%,#6a6a6a 7.8%,#505050 12%,#464646 14.1%,#3f3f3f 16.1%,#373737 20.3%,#333333 27.6%,#343434 35.9%,#3b3b3b 41.7%,#464646 47.4%,#484848 50.5%,#464646 53.6%,#373737 63.5%,#343434 72.4%,#373737 81.8%,#3f3f3f 85.9%,#444444 87.5%,#505050 90.1%,#626262 92.7%,#737373 95.8%,#7c7c7c 98.4%,#7e7e7e 100%)"></p><p style="height:6.92px;background:linear-gradient(90deg,#9f9f9f 0,#a4a4a4 .5%,#a9a9a9 1.6%,#a9a9a9 2.1%,#a6a6a6 3.1%,#9d9d9d 4.2%,#858585 5.7%,#808080 6.2%,#515151 12.5%,#414141 15.6%,#383838 19.8%,#333333 27.1%,#353535 35.4%,#3c3c3c 40.1%,#505050 47.4%,#535353 50.5%,#4f4f4f 53.6%,#3e3e3e 59.9%,#383838 63.5%,#343434 68.8%,#333333 73.4%,#383838 81.8%,#3d3d3d 84.9%,#444444 87%,#525252 89.6%,#636363 91.7%,#7c7c7c 95.3%,#878787 96.4%,#9f9f9f 97.9%,#a7a7a7 99%,#a9a9a9 100%)"></p><p style="height:6.92px;background:linear-gradient(90deg,#c8c8c8 0,#cdcdcd .5%,#d1d1d1 1.6%,#d1d1d1 2.6%,#cbcbcb 3.6%,#c0c0c0 4.7%,#b7b7b7 5.2%,#a2a2a2 6.2%,#868686 7.3%,#797979 8.3%,#515151 13%,#4b4b4b 14.1%,#414141 16.1%,#393939 19.3%,#333333 26.6%,#363636 34.9%,#3f3f3f 39.6%,#5b5b5b 46.9%,#5f5f5f 50%,#5b5b5b 53.1%,#414141 60.4%,#3a3a3a 63.5%,#353535 68.2%,#333333 73.4%,#353535 78.6%,#393939 82.8%,#414141 85.9%,#4e4e4e 88.5%,#767676 93.2%,#808080 94.3%,#898989 94.8%,#a5a5a5 95.8%,#b9b9b9 96.9%,#c1c1c1 97.4%,#cccccc 98.4%,#cfcfcf 99%,#d2d2d2 100%)"></p><p style="height:6.92px;background:linear-gradient(90deg,#dfdfdf 0,#e3e3e3 1%,#e4e4e4 2.6%,#e1e1e1 3.6%,#dadada 4.7%,#cccccc 5.7%,#c1c1c1 6.2%,#a5a5a5 7.3%,#838383 8.3%,#7c7c7c 8.9%,#505050 13.5%,#414141 16.1%,#3a3a3a 18.8%,#353535 21.9%,#333333 26%,#343434 30.2%,#373737 34.9%,#424242 39.1%,#636363 45.8%,#686868 47.9%,#6b6b6b 50%,#696969 52.1%,#636363 54.2%,#454545 60.4%,#3d3d3d 63%,#373737 66.1%,#333333 73.4%,#353535 78.6%,#393939 82.8%,#424242 85.9%,#515151 88.5%,#7d7d7d 93.2%,#868686 93.8%,#a8a8a8 94.8%,#c4c4c4 95.8%,#cecece 96.4%,#d6d6d6 96.9%,#dbdbdb 97.4%,#e1e1e1 98.4%,#e4e4e4 100%)"></p><p style="height:6.92px;background:linear-gradient(90deg,#e8e8e8 0,#ececec 1.6%,#ececec 2.6%,#e8e8e8 4.2%,#e1e1e1 5.2%,#dcdcdc 5.7%,#d4d4d4 6.2%,#c8c8c8 6.8%,#a9a9a9 7.8%,#838383 8.9%,#7b7b7b 9.4%,#515151 13.5%,#424242 16.1%,#3b3b3b 18.2%,#363636 20.8%,#333333 26%,#343434 30.2%,#383838 34.4%,#3e3e3e 37%,#444444 38.5%,#515151 41.1%,#626262 43.8%,#717171 46.9%,#757575 48.4%,#777777 50%,#747474 52.1%,#6d6d6d 54.2%,#636363 56.2%,#494949 60.4%,#3e3e3e 63%,#373737 66.7%,#333333 73.4%,#353535 78.6%,#393939 82.8%,#404040 85.4%,#4e4e4e 88%,#575757 89.1%,#7d7d7d 92.7%,#878787 93.2%,#9b9b9b 93.8%,#adadad 94.3%,#cccccc 95.3%,#d6d6d6 95.8%,#dddddd 96.4%,#e8e8e8 97.9%,#ededed 100%)"></p><p style="height:6.92px;background:linear-gradient(90deg,#ededed 0,#f1f1f1 1.6%,#f0f0f0 3.1%,#eaeaea 4.7%,#e2e2e2 5.7%,#dcdcdc 6.2%,#d3d3d3 6.8%,#c5c5c5 7.3%,#b4b4b4 7.8%,#a2a2a2 8.3%,#8c8c8c 8.9%,#7e7e7e 9.4%,#777777 9.9%,#575757 13%,#4e4e4e 14.1%,#424242 16.1%,#3b3b3b 18.2%,#343434 22.4%,#323232 26.6%,#363636 32.8%,#3d3d3d 35.9%,#424242 37.5%,#515151 40.1%,#646464 42.7%,#818181 47.4%,#909090 49%,#949494 50%,#909090 51%,#818181 52.6%,#646464 57.3%,#515151 59.9%,#404040 63%,#373737 66.7%,#333333 74%,#393939 82.8%,#404040 85.4%,#4f4f4f 88%,#6d6d6d 91.1%,#797979 92.2%,#818181 92.7%,#919191 93.2%,#a6a6a6 93.8%,#b8b8b8 94.3%,#c9c9c9 94.8%,#d5d5d5 95.3%,#dedede 95.8%,#e7e7e7 96.9%,#ededed 97.9%,#f1f1f1 100%)"></p><p style="height:6.92px;background:linear-gradient(90deg,#efefef 0,#f3f3f3 1.6%,#f1f1f1 3.1%,#eeeeee 4.2%,#e4e4e4 5.7%,#dedede 6.2%,#d5d5d5 6.8%,#c8c8c8 7.3%,#a4a4a4 8.3%,#8d8d8d 8.9%,#7f7f7f 9.4%,#787878 9.9%,#565656 13%,#4d4d4d 14.1%,#414141 16.1%,#3b3b3b 18.2%,#343434 22.9%,#333333 27.6%,#383838 33.3%,#424242 37%,#515151 39.6%,#7f7f7f 45.3%,#878787 45.8%,#b2b2b2 47.4%,#bebebe 47.9%,#c8c8c8 48.4%,#cecece 49%,#d2d2d2 50%,#cecece 51%,#c8c8c8 51.6%,#bebebe 52.1%,#b2b2b2 52.6%,#878787 54.2%,#7f7f7f 54.7%,#525252 60.4%,#424242 63%,#3a3a3a 65.6%,#343434 69.8%,#323232 74%,#393939 82.8%,#424242 85.9%,#4e4e4e 88%,#6d6d6d 91.1%,#797979 92.2%,#818181 92.7%,#939393 93.2%,#bbbbbb 94.3%,#cbcbcb 94.8%,#d8d8d8 95.3%,#dfdfdf 95.8%,#e9e9e9 96.9%,#eeeeee 97.9%,#f3f3f3 100%)"></p><p style="height:6.92px;background:linear-gradient(90deg,#ededed 0,#f1f1f1 1.6%,#f0f0f0 3.1%,#e9e9e9 4.7%,#e1e1e1 5.7%,#dbdbdb 6.2%,#d0d0d0 6.8%,#c1c1c1 7.3%,#b0b0b0 7.8%,#9d9d9d 8.3%,#878787 8.9%,#7c7c7c 9.4%,#505050 13.5%,#434343 15.6%,#3a3a3a 18.2%,#343434 22.9%,#333333 27.6%,#383838 33.3%,#3f3f3f 35.9%,#444444 37%,#515151 39.1%,#787878 43.8%,#7e7e7e 44.3%,#898989 44.8%,#c6c6c6 46.4%,#d5d5d5 46.9%,#dedede 47.4%,#e4e4e4 47.9%,#eaeaea 49%,#ebebeb 50%,#eaeaea 51%,#e4e4e4 52.1%,#dedede 52.6%,#d5d5d5 53.1%,#c6c6c6 53.6%,#898989 55.2%,#7e7e7e 55.7%,#787878 56.2%,#515151 60.9%,#424242 63.5%,#393939 66.1%,#343434 70.3%,#323232 74.5%,#3a3a3a 83.3%,#414141 85.9%,#515151 88.5%,#777777 92.2%,#7e7e7e 92.7%,#8b8b8b 93.2%,#a1a1a1 93.8%,#c5c5c5 94.8%,#d3d3d3 95.3%,#dcdcdc 95.8%,#e6e6e6 96.9%,#ececec 97.9%,#f1f1f1 100%)"></p><p style="height:6.92px;background:linear-gradient(90deg,#e7e7e7 0,#ececec 1.6%,#ebebeb 2.6%,#e6e6e6 4.2%,#dfdfdf 5.2%,#d9d9d9 5.7%,#cfcfcf 6.2%,#c2c2c2 6.8%,#a0a0a0 7.8%,#8b8b8b 8.3%,#7e7e7e 8.9%,#6d6d6d 10.4%,#4e4e4e 13.5%,#424242 15.6%,#383838 18.8%,#333333 22.9%,#323232 26.6%,#373737 32.3%,#3a3a3a 33.9%,#434343 36.5%,#545454 39.1%,#747474 42.7%,#808080 43.8%,#8f8f8f 44.3%,#c0c0c0 45.3%,#d5d5d5 45.8%,#e0e0e0 46.4%,#ececec 47.4%,#f4f4f4 48.4%,#f7f7f7 49.5%,#f7f7f7 50.5%,#f0f0f0 52.1%,#e8e8e8 53.1%,#e0e0e0 53.6%,#d5d5d5 54.2%,#c0c0c0 54.7%,#8f8f8f 55.7%,#808080 56.2%,#747474 57.3%,#545454 60.9%,#434343 63.5%,#3a3a3a 66.1%,#343434 70.3%,#323232 74.5%,#393939 83.3%,#404040 85.9%,#4f4f4f 88.5%,#6e6e6e 91.7%,#797979 92.7%,#818181 93.2%,#909090 93.8%,#a5a5a5 94.3%,#c6c6c6 95.3%,#d2d2d2 95.8%,#dbdbdb 96.4%,#e0e0e0 96.9%,#e7e7e7 97.9%,#ececec 100%)"></p><p style="height:6.92px;background:linear-gradient(90deg,#dddddd 0,#e1e1e1 1%,#e2e2e2 2.6%,#dfdfdf 3.6%,#d7d7d7 4.7%,#cfcfcf 5.2%,#c5c5c5 5.7%,#aaaaaa 6.8%,#878787 7.8%,#7d7d7d 8.3%,#535353 12.5%,#484848 14.1%,#3f3f3f 16.1%,#373737 19.3%,#333333 24%,#333333 28.1%,#383838 32.8%,#414141 35.9%,#515151 38.5%,#6d6d6d 41.7%,#7d7d7d 43.2%,#898989 43.8%,#d5d5d5 45.3%,#e1e1e1 45.8%,#efefef 46.9%,#fbfbfb 48.4%,#ffffff 49.5%,#ffffff 50.5%,#f8f8f8 52.1%,#efefef 53.1%,#e1e1e1 54.2%,#d5d5d5 54.7%,#898989 56.2%,#7d7d7d 56.8%,#777777 57.3%,#515151 61.5%,#414141 64.1%,#393939 66.7%,#343434 70.8%,#323232 75%,#3a3a3a 83.9%,#414141 86.5%,#505050 89.1%,#787878 93.2%,#7f7f7f 93.8%,#8a8a8a 94.3%,#9e9e9e 94.8%,#bcbcbc 95.8%,#c8c8c8 96.4%,#d1d1d1 96.9%,#d8d8d8 97.4%,#dfdfdf 98.4%,#e3e3e3 100%)"></p><p style="height:6.92px;background:linear-gradient(90deg,#c2c2c2 0,#c8c8c8 .5%,#cdcdcd 1.6%,#cdcdcd 2.6%,#c6c6c6 3.6%,#c0c0c0 4.2%,#afafaf 5.2%,#a4a4a4 5.7%,#878787 6.8%,#7f7f7f 7.3%,#535353 12%,#434343 14.6%,#383838 18.2%,#333333 22.4%,#323232 26%,#373737 31.8%,#3e3e3e 34.9%,#484848 37%,#525252 38.5%,#787878 42.7%,#7f7f7f 43.2%,#8f8f8f 43.8%,#c5c5c5 44.8%,#dadada 45.3%,#e5e5e5 45.8%,#f6f6f6 47.4%,#fefefe 48.4%,#ffffff 51%,#fbfbfb 52.1%,#f1f1f1 53.1%,#e5e5e5 54.2%,#dadada 54.7%,#c5c5c5 55.2%,#8f8f8f 56.2%,#7f7f7f 56.8%,#787878 57.3%,#525252 61.5%,#424242 64.1%,#393939 66.7%,#343434 70.8%,#323232 75%,#393939 83.9%,#414141 87%,#4d4d4d 89.1%,#545454 90.1%,#808080 94.8%,#8a8a8a 95.3%,#9a9a9a 95.8%,#a6a6a6 96.4%,#bababa 97.4%,#c7c7c7 98.4%,#cbcbcb 99%,#cecece 100%)"></p><p style="height:6.92px;background:linear-gradient(90deg,#979797 0,#9d9d9d .5%,#a3a3a3 1.6%,#a3a3a3 2.6%,#a0a0a0 3.1%,#959595 4.2%,#848484 5.2%,#7b7b7b 6.2%,#646464 9.4%,#525252 11.5%,#454545 13.5%,#3f3f3f 15.1%,#373737 18.8%,#333333 24%,#343434 28.1%,#383838 32.8%,#404040 35.4%,#484848 37%,#525252 38.5%,#787878 42.7%,#7e7e7e 43.2%,#8b8b8b 43.8%,#bfbfbf 44.8%,#d6d6d6 45.3%,#e2e2e2 45.8%,#efefef 46.9%,#fbfbfb 48.4%,#ffffff 49.5%,#ffffff 50.5%,#f8f8f8 52.1%,#efefef 53.1%,#e2e2e2 54.2%,#d6d6d6 54.7%,#bfbfbf 55.2%,#8b8b8b 56.2%,#7e7e7e 56.8%,#787878 57.3%,#525252 61.5%,#424242 64.1%,#3a3a3a 66.7%,#343434 70.8%,#323232 75.5%,#373737 83.3%,#3d3d3d 85.9%,#434343 88%,#535353 90.6%,#656565 92.7%,#7c7c7c 95.8%,#868686 96.9%,#969696 97.9%,#9d9d9d 98.4%,#a1a1a1 99%,#a4a4a4 100%)"></p><p style="height:6.92px;background:linear-gradient(90deg,#787878 0,#7c7c7c 2.1%,#767676 4.7%,#666666 7.8%,#535353 10.4%,#474747 12.5%,#404040 14.1%,#393939 17.2%,#343434 21.4%,#333333 25%,#373737 31.8%,#3b3b3b 33.9%,#424242 35.9%,#4e4e4e 38%,#7a7a7a 43.2%,#828282 43.8%,#939393 44.3%,#c3c3c3 45.3%,#d6d6d6 45.8%,#e1e1e1 46.4%,#e8e8e8 46.9%,#f0f0f0 47.9%,#f6f6f6 49%,#f7f7f7 50%,#f6f6f6 51%,#f0f0f0 52.1%,#e8e8e8 53.1%,#e1e1e1 53.6%,#d6d6d6 54.2%,#c3c3c3 54.7%,#939393 55.7%,#828282 56.2%,#7a7a7a 56.8%,#4e4e4e 62%,#424242 64.1%,#3a3a3a 66.7%,#353535 70.8%,#333333 75.5%,#373737 83.3%,#3a3a3a 85.4%,#414141 88%,#484848 89.6%,#505050 91.1%,#636363 93.8%,#727272 96.4%,#7a7a7a 98.4%,#7c7c7c 100%)"></p><p style="height:6.92px;background:linear-gradient(90deg,#6b6b6b 0,#6d6d6d 2.1%,#696969 4.7%,#616161 6.8%,#515151 9.4%,#434343 12.5%,#383838 17.2%,#333333 25%,#373737 31.8%,#3b3b3b 33.9%,#414141 35.9%,#505050 38.5%,#7a7a7a 43.8%,#808080 44.3%,#8d8d8d 44.8%,#c8c8c8 46.4%,#d6d6d6 46.9%,#dedede 47.4%,#e3e3e3 47.9%,#e9e9e9 49%,#ebebeb 50%,#e9e9e9 51%,#e3e3e3 52.1%,#dedede 52.6%,#d6d6d6 53.1%,#c8c8c8 53.6%,#8d8d8d 55.2%,#808080 55.7%,#7a7a7a 56.2%,#505050 61.5%,#414141 64.1%,#3b3b3b 66.1%,#373737 68.2%,#333333 75%,#383838 84.9%,#444444 89.6%,#4f4f4f 92.2%,#5f5f5f 94.8%,#666666 96.4%,#6c6c6c 98.4%,#6d6d6d 100%)"></p><p style="height:6.92px;background:linear-gradient(90deg,#5f5f5f 0,#616161 2.1%,#5e5e5e 4.2%,#414141 12%,#373737 17.2%,#333333 25%,#373737 31.8%,#3a3a3a 33.9%,#404040 35.9%,#4b4b4b 38%,#7b7b7b 44.8%,#818181 45.3%,#898989 45.8%,#b2b2b2 47.4%,#bebebe 47.9%,#c6c6c6 48.4%,#cccccc 49%,#d1d1d1 50%,#cccccc 51%,#c6c6c6 51.6%,#bebebe 52.1%,#b2b2b2 52.6%,#898989 54.2%,#818181 54.7%,#7b7b7b 55.2%,#4b4b4b 62%,#404040 64.1%,#3a3a3a 66.1%,#373737 68.2%,#333333 75%,#383838 85.4%,#424242 90.1%,#5d5d5d 97.4%,#616161 100%)"></p><p style="height:6.92px;background:linear-gradient(90deg,#525252 0,#535353 2.1%,#515151 4.2%,#3f3f3f 11.5%,#373737 16.7%,#333333 24.5%,#373737 32.3%,#3f3f3f 35.9%,#484848 38%,#515151 39.6%,#636363 42.2%,#818181 47.4%,#8f8f8f 49%,#929292 50%,#8f8f8f 51%,#818181 52.6%,#636363 57.8%,#515151 60.4%,#484848 62%,#3f3f3f 64.1%,#373737 67.7%,#333333 76%,#373737 85.4%,#404040 90.6%,#505050 96.9%,#535353 100%)"></p><p style="height:6.92px;background:linear-gradient(90deg,#494949 0,#494949 4.2%,#393939 14.1%,#353535 19.3%,#343434 25%,#373737 32.3%,#414141 37%,#505050 40.1%,#626262 43.2%,#6c6c6c 45.3%,#747474 47.4%,#777777 50%,#747474 52.6%,#6c6c6c 54.7%,#626262 56.8%,#505050 59.9%,#414141 63%,#373737 67.7%,#343434 76%,#373737 85.9%,#3b3b3b 89.6%,#484848 96.9%,#4a4a4a 100%)"></p><p style="height:6.92px;background:linear-gradient(90deg,#424242 0,#424242 4.2%,#383838 13.5%,#353535 19.8%,#343434 25.5%,#383838 32.8%,#434343 38%,#656565 45.8%,#6a6a6a 47.9%,#6c6c6c 50%,#6a6a6a 52.1%,#636363 54.7%,#505050 58.9%,#414141 62.5%,#373737 67.7%,#343434 75.5%,#353535 82.8%,#383838 88%,#414141 96.4%,#434343 100%)"></p><p style="height:6.92px;background:linear-gradient(90deg,#3e3e3e 0,#3e3e3e 4.7%,#383838 13%,#353535 20.8%,#383838 32.8%,#404040 38%,#5d5d5d 46.4%,#616161 50%,#5d5d5d 53.6%,#404040 62%,#383838 67.2%,#353535 79.7%,#383838 89.1%,#3e3e3e 100%)"></p><p style="height:6.92px;background:linear-gradient(90deg,#3b3b3b 0,#353535 21.4%,#383838 33.3%,#404040 39.1%,#525252 46.4%,#565656 50%,#535353 53.1%,#404040 60.9%,#383838 67.2%,#353535 79.2%,#3b3b3b 100%)"></p><p style="height:6.92px;background:linear-gradient(90deg,#393939 0,#363636 21.4%,#383838 31.8%,#3a3a3a 35.9%,#4b4b4b 46.4%,#4d4d4d 50%,#4b4b4b 53.6%,#3a3a3a 64.1%,#373737 68.8%,#363636 79.2%,#3a3a3a 100%)"></p><p style="height:6.92px;background:linear-gradient(90deg,#393939 0,#373737 20.3%,#383838 30.2%,#3a3a3a 35.9%,#454545 46.4%,#464646 50%,#454545 53.6%,#3a3a3a 64.1%,#383838 69.8%,#373737 79.7%,#393939 100%)"></p><p style="height:6.92px;background:linear-gradient(90deg,#393939 0,#393939 30.2%,#424242 50%,#393939 69.8%,#393939 100%)"></p><p style="height:6.92px;background:linear-gradient(90deg,#3a3a3a 0,#3a3a3a 30.2%,#404040 50%,#3a3a3a 69.8%,#3a3a3a 100%)"></p><p style="height:6.92px;background:linear-gradient(90deg,#3b3b3b 0,#3c3c3c 30.2%,#3e3e3e 50%,#3c3c3c 69.8%,#3b3b3b 100%)"></p><p style="height:6.92px;background:linear-gradient(90deg,#3d3d3d 0,#3e3e3e 50%,#3d3d3d 100%)"></p><p style="height:6.92px;background:linear-gradient(90deg,#3e3e3e 0,#3e3e3e 100%)"></p><p style="height:6.92px;background:linear-gradient(90deg,#3f3f3f 0,#3f3f3f 100%)"></p><p style="height:20.93px;background:linear-gradient(90deg,#404040 0,#404040 100%)"></p></div></div>
<div class="hm" style="left:1211.2px;top:566.0px"><div><p style="height:20.93px;background:linear-gradient(90deg,#dfdfdf 0,#dfdfdf 100%)"></p><p style="height:6.92px;background:linear-gradient(90deg,#dfdfdf 0,#dddddd 50%,#dfdfdf 100%)"></p><p style="height:6.92px;background:linear-gradient(90deg,#e1e1e1 0,#dddddd 40.6%,#e1e1e1 100%)"></p><p style="height:6.92px;background:linear-gradient(90deg,#e2e2e2 0,#dddddd 35.4%,#dddddd 67.7%,#e2e2e2 100%)"></p><p style="height:6.92px;background:linear-gradient(90deg,#e4e4e4 0,#dddddd 32.8%,#dedede 49.5%,#dddddd 69.8%,#e4e4e4 100%)"></p><p style="height:6.92px;background:linear-gradient(90deg,#e7e7e7 0,#e6e6e6 6.2%,#dddddd 29.2%,#dfdfdf 50%,#dddddd 68.8%,#e7e7e7 100%)"></p><p style="height:6.92px;background:linear-gradient(90deg,#eaeaea 0,#e9e9e9 6.2%,#e0e0e0 19.3%,#dcdcdc 30.2%,#e0e0e0 50%,#dddddd 71.4%,#e0e0e0 81.2%,#e8e8e8 93.2%,#eaeaea 100%)"></p><p style="height:6.92px;background:linear-gradient(90deg,#ededed 0,#ebebeb 6.2%,#e1e1e1 18.8%,#dcdcdc 29.2%,#e2e2e2 50%,#dcdcdc 71.9%,#e1e1e1 81.8%,#ebebeb 93.2%,#ededed 100%)"></p><p style="height:6.92px;background:linear-gradient(90deg,#f0f0f0 0,#eeeeee 6.2%,#e1e1e1 18.8%,#dcdcdc 28.6%,#e4e4e4 50%,#dcdcdc 72.4%,#e2e2e2 81.8%,#ededed 93.2%,#f0f0f0 100%)"></p><p style="height:6.92px;background:linear-gradient(90deg,#f2f2f2 0,#f0f0f0 6.8%,#e1e1e1 18.8%,#dbdbdb 28.1%,#e7e7e7 50%,#dcdcdc 72.9%,#e2e2e2 81.8%,#f0f0f0 93.2%,#f2f2f2 100%)"></p><p style="height:6.92px;background:linear-gradient(90deg,#f5f5f5 0,#f2f2f2 6.8%,#e2e2e2 18.8%,#dbdbdb 28.1%,#e8e8e8 44.8%,#e9e9e9 50%,#e8e8e8 55.2%,#dddddd 68.8%,#dbdbdb 72.9%,#e2e2e2 81.2%,#f2f2f2 93.2%,#f5f5f5 100%)"></p><p style="height:6.92px;background:linear-gradient(90deg,#f8f8f8 0,#f5f5f5 6.2%,#e2e2e2 18.8%,#dbdbdb 26.6%,#dcdcdc 30.7%,#eaeaea 44.8%,#ececec 50%,#eaeaea 55.7%,#e1e1e1 64.1%,#dbdbdb 72.4%,#e2e2e2 81.2%,#f5f5f5 93.8%,#f8f8f8 100%)"></p><p style="height:6.92px;background:linear-gradient(90deg,#fafafa 0,#f7f7f7 6.2%,#e2e2e2 18.8%,#dadada 27.1%,#e1e1e1 35.4%,#ececec 44.3%,#efefef 50%,#ededed 55.2%,#e0e0e0 65.6%,#dadada 73.4%,#e2e2e2 81.2%,#f7f7f7 93.8%,#fafafa 100%)"></p><p style="height:6.92px;background:linear-gradient(90deg,#fcfcfc 0,#f8f8f8 6.8%,#e2e2e2 19.3%,#dadada 27.1%,#e2e2e2 34.9%,#efefef 44.3%,#f2f2f2 50%,#efefef 55.2%,#e0e0e0 66.1%,#dbdbdb 71.4%,#dadada 74%,#e2e2e2 81.2%,#f8f8f8 93.2%,#fcfcfc 100%)"></p><p style="height:6.92px;background:linear-gradient(90deg,#fdfdfd 0,#fcfcfc 3.6%,#f9f9f9 7.3%,#e3e3e3 18.8%,#d9d9d9 26%,#dadada 28.1%,#e2e2e2 34.4%,#f1f1f1 44.3%,#f5f5f5 50%,#f1f1f1 55.7%,#e2e2e2 65.6%,#d9d9d9 73.4%,#e3e3e3 81.2%,#fafafa 93.2%,#fdfdfd 100%)"></p><p style="height:6.92px;background:linear-gradient(90deg,#fefefe 0,#fdfdfd 3.6%,#fafafa 7.3%,#e3e3e3 18.8%,#d9d9d9 26%,#dadada 28.1%,#e2e2e2 33.9%,#f3f3f3 43.8%,#f7f7f7 50%,#f3f3f3 56.2%,#e2e2e2 66.1%,#d9d9d9 73.4%,#e3e3e3 81.2%,#fafafa 92.7%,#fdfdfd 96.4%,#fefefe 100%)"></p><p style="height:6.92px;background:linear-gradient(90deg,#ffffff 0,#fefefe 3.6%,#fbfbfb 7.3%,#e2e2e2 18.8%,#d8d8d8 26%,#e2e2e2 33.3%,#f6f6f6 44.8%,#fafafa 50%,#f6f6f6 55.2%,#e2e2e2 66.7%,#d9d9d9 72.4%,#d9d9d9 74.5%,#e2e2e2 81.2%,#fafafa 92.2%,#fefefe 95.8%,#ffffff 100%)"></p><p style="height:6.92px;background:linear-gradient(90deg,#ffffff 0,#fefefe 4.2%,#fafafa 7.8%,#e2e2e2 18.8%,#d8d8d8 26%,#e2e2e2 33.3%,#f8f8f8 44.3%,#fcfcfc 50%,#f8f8f8 55.7%,#e2e2e2 66.7%,#d9d9d9 72.4%,#d8d8d8 74.5%,#e2e2e2 81.2%,#fafafa 92.2%,#fefefe 95.8%,#ffffff 100%)"></p><p style="height:6.92px;background:linear-gradient(90deg,#ffffff 0,#fefefe 3.6%,#fbfbfb 7.3%,#e2e2e2 18.8%,#dadada 24%,#d8d8d8 26%,#e3e3e3 33.3%,#f8f8f8 43.8%,#fdfdfd 50%,#f9f9f9 55.7%,#e2e2e2 67.2%,#d9d9d9 72.4%,#d8d8d8 74.5%,#e2e2e2 81.2%,#fafafa 92.2%,#fefefe 95.8%,#ffffff 100%)"></p><p style="height:6.92px;background:linear-gradient(90deg,#fefefe 0,#fefefe 3.6%,#fafafa 7.3%,#e3e3e3 18.2%,#d8d8d8 25.5%,#e2e2e2 32.8%,#fafafa 44.3%,#fefefe 48.4%,#fdfdfd 52.6%,#f9f9f9 56.8%,#e2e2e2 67.2%,#d8d8d8 74.5%,#e3e3e3 81.8%,#fafafa 92.7%,#fefefe 96.4%,#fefefe 100%)"></p><p style="height:6.92px;background:linear-gradient(90deg,#fefefe 0,#fdfdfd 3.6%,#f9f9f9 7.3%,#e2e2e2 18.2%,#d8d8d8 25.5%,#e3e3e3 32.8%,#f9f9f9 43.2%,#fefefe 47.4%,#fefefe 52.1%,#fafafa 56.2%,#e3e3e3 67.2%,#d8d8d8 74.5%,#e2e2e2 81.8%,#f9f9f9 92.7%,#fdfdfd 96.4%,#fefefe 100%)"></p><p style="height:6.92px;background:linear-gradient(90deg,#fdfdfd 0,#fcfcfc 3.6%,#f9f9f9 6.8%,#e3e3e3 17.7%,#d8d8d8 25%,#e2e2e2 32.3%,#f9f9f9 42.7%,#fefefe 47.4%,#fefefe 52.1%,#fbfbfb 56.2%,#e2e2e2 67.7%,#d8d8d8 75%,#e3e3e3 82.3%,#f9f9f9 93.2%,#fcfcfc 96.4%,#fdfdfd 100%)"></p><p style="height:6.92px;background:linear-gradient(90deg,#fbfbfb 0,#f8f8f8 6.2%,#e2e2e2 17.7%,#d8d8d8 25%,#e2e2e2 32.3%,#f9f9f9 42.7%,#ffffff 47.9%,#ffffff 52.1%,#fbfbfb 56.2%,#e2e2e2 67.7%,#d8d8d8 75%,#e2e2e2 82.3%,#f8f8f8 93.8%,#fbfbfb 100%)"></p><p style="height:6.92px;background:linear-gradient(90deg,#fafafa 0,#f6f6f6 6.2%,#e2e2e2 17.7%,#d8d8d8 25%,#e3e3e3 32.3%,#fafafa 43.2%,#fefefe 47.9%,#fefefe 52.1%,#fbfbfb 56.2%,#e3e3e3 67.7%,#d8d8d8 75%,#e2e2e2 82.3%,#f6f6f6 93.8%,#fafafa 100%)"></p><p style="height:6.92px;background:linear-gradient(90deg,#f7f7f7 0,#f7f7f7 3.1%,#f3f3f3 6.8%,#e2e2e2 17.2%,#d9d9d9 24.5%,#e3e3e3 32.3%,#f9f9f9 43.2%,#fefefe 47.9%,#fefefe 52.1%,#fafafa 56.2%,#e3e3e3 67.7%,#d9d9d9 75.5%,#e2e2e2 82.8%,#f3f3f3 93.2%,#f7f7f7 96.9%,#f7f7f7 100%)"></p><p style="height:6.92px;background:linear-gradient(90deg,#f5f5f5 0,#f1f1f1 6.8%,#e2e2e2 16.7%,#d9d9d9 24.5%,#e3e3e3 32.3%,#f9f9f9 43.8%,#fdfdfd 48.4%,#fdfdfd 52.1%,#fafafa 55.7%,#e3e3e3 67.7%,#d9d9d9 75.5%,#e2e2e2 83.3%,#f1f1f1 93.2%,#f5f5f5 100%)"></p><p style="height:6.92px;background:linear-gradient(90deg,#f2f2f2 0,#efefef 6.2%,#e1e1e1 16.1%,#dadada 24%,#e2e2e2 31.8%,#f7f7f7 43.2%,#fcfcfc 48.4%,#fbfbfb 52.1%,#f8f8f8 55.7%,#e3e3e3 67.7%,#dadada 75.5%,#e1e1e1 83.9%,#efefef 93.8%,#f2f2f2 100%)"></p><p style="height:6.92px;background:linear-gradient(90deg,#efefef 0,#ededed 6.2%,#e1e1e1 15.6%,#dadada 24%,#e2e2e2 31.8%,#f5f5f5 43.2%,#fafafa 48.4%,#f7f7f7 55.2%,#e2e2e2 67.7%,#dadada 76%,#e1e1e1 84.4%,#ededed 93.8%,#efefef 100%)"></p><p style="height:6.92px;background:linear-gradient(90deg,#ececec 0,#eaeaea 6.2%,#e0e0e0 15.6%,#dbdbdb 23.4%,#e1e1e1 31.8%,#f3f3f3 42.7%,#f8f8f8 49%,#f5f5f5 55.2%,#e2e2e2 67.7%,#dbdbdb 76%,#dfdfdf 83.3%,#eaeaea 93.8%,#ececec 100%)"></p><p style="height:6.92px;background:linear-gradient(90deg,#e9e9e9 0,#e8e8e8 6.2%,#dbdbdb 22.9%,#e1e1e1 31.8%,#f1f1f1 42.7%,#f5f5f5 49%,#f2f2f2 55.7%,#e2e2e2 67.7%,#dbdbdb 76.6%,#e8e8e8 94.3%,#e9e9e9 100%)"></p><p style="height:6.92px;background:linear-gradient(90deg,#e7e7e7 0,#e6e6e6 5.2%,#dcdcdc 23.4%,#e1e1e1 32.3%,#f0f0f0 44.3%,#f2f2f2 50%,#f0f0f0 55.7%,#e1e1e1 67.7%,#dcdcdc 76.6%,#e6e6e6 94.8%,#e7e7e7 100%)"></p><p style="height:6.92px;background:linear-gradient(90deg,#e4e4e4 0,#dcdcdc 23.4%,#e2e2e2 32.8%,#ededed 44.3%,#f0f0f0 50%,#ededed 55.7%,#e2e2e2 67.2%,#dcdcdc 76.6%,#e4e4e4 100%)"></p><p style="height:6.92px;background:linear-gradient(90deg,#e2e2e2 0,#dcdcdc 22.9%,#e1e1e1 32.8%,#ebebeb 44.3%,#ededed 50%,#ebebeb 55.7%,#e1e1e1 67.2%,#dcdcdc 77.1%,#e2e2e2 100%)"></p><p style="height:6.92px;background:linear-gradient(90deg,#e0e0e0 0,#dddddd 22.4%,#e0e0e0 32.3%,#e8e8e8 44.3%,#eaeaea 50%,#e8e8e8 55.7%,#e0e0e0 67.7%,#dddddd 77.6%,#e0e0e0 100%)"></p><p style="height:6.92px;background:linear-gradient(90deg,#dfdfdf 0,#dddddd 21.9%,#e7e7e7 50%,#dddddd 78.1%,#dfdfdf 100%)"></p><p style="height:6.92px;background:linear-gradient(90deg,#dedede 0,#dddddd 20.8%,#e4e4e4 50%,#dddddd 79.2%,#dedede 100%)"></p><p style="height:6.92px;background:linear-gradient(90deg,#dedede 0,#dddddd 19.8%,#e2e2e2 50%,#dddddd 80.2%,#dedede 100%)"></p><p style="height:6.92px;background:linear-gradient(90deg,#dddddd 0,#e1e1e1 50%,#dddddd 100%)"></p><p style="height:6.92px;background:linear-gradient(90deg,#dddddd 0,#dfdfdf 50%,#dddddd 100%)"></p><p style="height:20.93px;background:linear-gradient(90deg,#dedede 0,#dedede 100%)"></p></div></div>
<svg width="1502" height="1286" viewBox="0 0 1502 1286">
<defs>
<filter id="jet" x="-5%" y="-5%" width="110%" height="110%" color-interpolation-filters="sRGB">
<feGaussianBlur stdDeviation="0 3.2"/>
<feComponentTransfer><feFuncR type="table" tableValues="0 0 0 0 .5 1 1 1 .5"/><feFuncG type="table" tableValues="0 0 .5 1 1 1 .5 0 0"/><feFuncB type="table" tableValues=".5 1 1 1 .5 0 0 0 0"/></feComponentTransfer></filter>
<clipPath id="cp"><rect x="0" y="0" width="288.4" height="277.0"/></clipPath>
<path id="upo" d="M144.4 161.4 143.5 161.3 142.7 160.9 141.8 160.1 141.1 159.0 140.1 156.4 139.7 153.3 140.1 149.8 141.0 147.0 141.7 145.9 142.5 145.1 143.2 144.7 144.2 144.5 145.2 144.7 145.9 145.1 147.3 146.9 148.3 149.6 148.7 152.8 148.4 155.8 147.5 158.6 146.8 159.8 146.1 160.6 145.4 161.1 144.4 161.4ZM0.0 132.5 1.0 132.3 1.7 131.9 3.1 130.1 4.1 127.4 4.5 124.0 4.1 120.7 3.1 118.0 1.7 116.2 1.0 115.8 0.0 115.6M288.4 115.6 287.4 115.8 286.7 116.2 285.3 118.0 284.3 120.7 283.9 124.0 284.3 127.4 285.3 130.1 286.7 131.9 287.4 132.3 288.4 132.5M144.9 191.1 142.8 191.1 140.8 190.7 138.7 189.9 136.7 188.8 134.8 187.3 133.1 185.6 131.5 183.5 130.0 181.3 128.7 178.7 127.5 175.9 125.6 169.7 124.5 162.7 124.0 155.1 124.3 147.3 125.5 139.6 127.3 132.5 129.8 126.4 131.2 123.8 132.9 121.4 134.6 119.4 136.3 117.8 138.2 116.4 140.1 115.5 142.0 114.9 144.2 114.7 146.1 114.9 148.0 115.4 150.0 116.3 151.9 117.6 153.6 119.1 155.4 121.2 156.9 123.4 158.4 126.0 160.9 131.8 162.7 138.5 163.9 145.9 164.4 153.7 164.1 161.1 163.1 168.0 161.5 174.3 159.1 180.0 157.7 182.4 156.2 184.5 154.5 186.4 152.9 187.9 150.9 189.3 149.0 190.2 147.1 190.8 144.9 191.1ZM0.0 162.3 2.2 162.1 4.1 161.5 6.0 160.6 7.8 159.3 9.6 157.6 11.3 155.7 12.9 153.3 14.3 150.7 16.8 144.7 18.7 137.8 19.8 130.4 20.2 122.6 19.8 115.2 18.7 108.0 16.9 101.6 14.5 96.3 13.1 93.9 11.5 91.9 9.9 90.1 7.9 88.5 6.0 87.4 4.1 86.5 2.2 86.0 0.0 85.8M288.4 85.8 286.2 86.0 284.3 86.5 282.4 87.4 280.5 88.5 278.5 90.1 276.9 91.9 275.3 93.9 273.9 96.3 271.5 101.6 269.7 108.0 268.6 115.2 268.2 122.6 268.6 130.4 269.7 137.8 271.6 144.7 274.1 150.7 275.5 153.3 277.1 155.7 278.8 157.6 280.6 159.3 282.4 160.6 284.3 161.5 286.2 162.1 288.4 162.3M146.6 208.5 143.2 208.6 140.1 208.2 137.0 207.3 134.1 206.0 131.2 204.2 128.7 202.0 126.2 199.3 124.0 196.3 122.1 193.0 120.3 189.1 118.7 184.9 117.5 180.5 116.4 175.7 115.6 170.4 115.1 165.0 114.8 159.5 114.8 153.5 115.1 147.3 115.7 141.3 116.6 135.5 117.7 130.0 119.1 124.7 120.7 119.8 122.6 115.4 124.7 111.3 126.9 107.9 129.3 104.8 131.9 102.2 134.8 100.1 137.7 98.6 140.6 97.6 143.7 97.2 146.6 97.4 149.5 98.1 152.4 99.4 155.0 101.1 157.7 103.3 160.1 106.0 162.4 109.2 164.4 112.6 166.3 116.6 168.1 121.0 169.6 125.8 170.9 130.7 172.0 136.2 172.8 141.7 173.3 147.5 173.6 153.3 173.6 158.8 173.4 164.4 172.9 169.7 172.1 174.7 171.1 179.6 169.9 184.1 168.5 188.2 166.8 192.0 165.0 195.3 162.9 198.3 160.7 201.1 158.1 203.4 155.5 205.3 152.6 206.8 149.7 207.9 146.6 208.5ZM0.0 179.8 3.1 179.5 6.0 178.6 8.9 177.2 11.5 175.4 14.2 173.0 16.6 170.1 18.8 166.9 20.9 163.1 22.8 158.8 24.5 154.2 26.0 149.3 27.2 143.8 28.2 138.3 28.9 132.5 29.3 126.5 29.4 120.5 29.3 115.0 28.9 109.4 28.2 104.1 27.4 99.3 26.2 94.5 24.8 90.3 23.2 86.3 21.4 82.7 19.3 79.4 17.1 76.6 14.7 74.2 12.0 72.2 9.1 70.5 6.2 69.4 3.1 68.6 0.0 68.4M288.4 68.4 285.3 68.6 282.2 69.4 279.3 70.5 276.4 72.2 273.7 74.2 271.3 76.6 269.1 79.4 267.0 82.7 265.2 86.3 263.6 90.3 262.2 94.5 261.0 99.3 260.2 104.1 259.5 109.4 259.1 115.0 259.0 120.5 259.1 126.5 259.5 132.5 260.2 138.3 261.2 143.8 262.4 149.3 263.9 154.2 265.6 158.8 267.5 163.1 269.6 166.9 271.8 170.1 274.2 173.0 276.9 175.4 279.5 177.2 282.4 178.6 285.3 179.5 288.4 179.8M147.8 236.2 142.5 236.3 137.2 235.8 132.2 234.6 127.4 232.8 123.1 230.5 119.2 227.8 115.6 224.4 112.5 220.5 109.7 216.1 107.4 211.2 105.3 205.7 103.6 199.5 102.2 192.7 101.1 185.4 100.4 177.5 100.0 169.0 100.0 158.8 100.4 148.7 101.2 138.5 102.5 128.6 104.2 119.6 106.2 111.0 108.5 103.4 111.2 96.5 114.2 90.5 117.4 85.2 121.1 80.6 125.0 76.9 129.3 73.8 133.9 71.5 138.7 70.1 143.5 69.5 148.0 69.8 152.7 70.9 157.2 72.7 161.4 75.3 165.3 78.6 169.0 82.5 172.3 87.2 175.2 92.3 178.0 98.3 180.4 105.0 182.6 112.4 184.4 120.3 185.9 129.0 187.1 138.3 188.0 147.7 188.4 157.4 188.5 166.4 188.2 175.0 187.5 183.3 186.5 190.9 185.2 197.8 183.6 204.1 181.6 209.8 179.3 214.9 176.6 219.4 173.6 223.4 170.2 226.9 166.6 229.8 162.5 232.2 157.9 234.1 152.9 235.4 147.8 236.2ZM0.0 207.5 4.8 207.1 9.6 205.8 14.2 203.7 18.3 200.9 22.1 197.5 25.7 193.2 29.1 188.2 32.1 182.6 34.8 176.1 37.2 169.0 39.2 161.1 41.0 152.4 42.4 143.1 43.4 133.4 44.1 123.5 44.3 113.6 44.1 104.8 43.6 96.5 42.7 88.6 41.5 81.5 40.0 75.0 38.1 69.0 35.9 63.7 33.4 59.1 30.5 54.9 27.2 51.2 23.6 48.1 19.5 45.5 15.1 43.5 10.3 41.9 5.3 41.0 0.0 40.7M288.4 40.7 283.1 41.0 278.1 41.9 273.3 43.5 268.9 45.5 264.8 48.1 261.2 51.2 257.9 54.9 255.0 59.1 252.5 63.7 250.3 69.0 248.4 75.0 246.9 81.5 245.7 88.6 244.8 96.5 244.3 104.8 244.1 113.6 244.3 123.5 245.0 133.4 246.0 143.1 247.4 152.4 249.2 161.1 251.2 169.0 253.6 176.1 256.3 182.6 259.3 188.2 262.7 193.2 266.3 197.5 270.1 200.9 274.2 203.7 278.8 205.8 283.6 207.1 288.4 207.5M143.0 254.3 135.8 253.9 129.1 252.9 122.8 251.4 117.3 249.3 112.5 246.8 108.1 243.7 104.3 239.9 101.1 235.7 98.4 230.8 96.0 225.1 94.1 218.6 92.6 211.2 91.4 202.9 90.6 193.7 90.1 183.3 90.0 172.2 90.3 158.6 91.2 144.7 92.4 131.3 94.1 118.9 96.2 107.8 98.5 97.8 101.3 88.9 104.4 81.0 107.9 74.1 111.8 68.3 116.1 63.3 120.9 59.2 123.5 57.4 126.2 55.9 129.1 54.5 131.9 53.5 135.1 52.6 138.2 52.0 141.3 51.6 144.4 51.5 147.6 51.7 150.7 52.1 153.8 52.7 156.9 53.6 159.8 54.7 162.7 56.1 165.3 57.7 168.0 59.5 172.7 63.7 177.0 68.8 180.9 74.8 184.3 81.7 187.4 89.8 190.1 98.8 192.5 109.1 194.5 120.5 196.2 133.2 197.4 146.6 198.2 160.7 198.4 174.3 198.3 185.1 197.7 195.3 196.8 204.3 195.6 212.4 194.0 219.5 192.1 225.8 189.8 231.3 187.0 236.2 183.8 240.3 179.9 244.0 175.6 247.0 170.6 249.5 164.9 251.6 158.6 253.1 151.9 254.0 144.7 254.3M0.0 225.5 3.1 225.4 6.2 225.0 9.4 224.4 12.5 223.5 15.4 222.4 18.3 221.0 20.9 219.5 23.6 217.7 26.0 215.7 28.4 213.4 32.7 208.4 36.5 202.4 40.1 195.3 43.2 187.2 45.9 178.2 48.3 167.9 50.3 156.5 52.0 143.8 53.2 130.2 54.0 116.1 54.2 102.3 54.0 91.4 53.5 81.3 52.6 72.3 51.3 64.2 49.7 57.0 47.7 50.8 45.3 45.2 42.5 40.5 39.2 36.3 35.3 32.7 31.0 29.7 26.0 27.3 20.2 25.3 13.9 23.9 7.2 23.0 0.0 22.7M288.4 22.7 281.2 23.0 274.5 23.9 268.2 25.3 262.4 27.3 257.4 29.7 253.1 32.7 249.2 36.3 245.9 40.5 243.1 45.2 240.7 50.8 238.7 57.0 237.1 64.2 235.8 72.3 234.9 81.3 234.4 91.4 234.2 102.3 234.4 116.1 235.2 130.2 236.4 143.8 238.1 156.5 240.1 167.9 242.5 178.2 245.2 187.2 248.3 195.3 251.9 202.4 255.7 208.4 260.0 213.4 262.4 215.7 264.8 217.7 267.5 219.5 270.1 221.0 273.0 222.4 275.9 223.5 279.0 224.4 282.2 225.0 285.3 225.4 288.4 225.5M0.0 270.3 12.7 270.1 24.3 269.3 33.9 268.0 41.6 266.3 44.9 265.2 47.8 264.0 50.5 262.6 52.8 261.1 54.8 259.4 56.8 257.4 58.6 255.1 60.1 252.8 62.6 247.7 64.8 241.2 66.6 233.4 68.3 223.7 69.7 212.8 71.1 199.7 76.7 132.5 78.3 116.3 79.8 102.7 81.8 88.4 84.0 76.4 86.4 66.2 89.2 57.4 90.9 52.9 92.8 48.9 94.9 45.0 97.1 41.7 99.5 38.6 102.1 35.8 105.0 33.3 108.0 31.2 111.5 29.1 115.1 27.3 119.1 25.9 123.3 24.6 127.9 23.6 132.7 22.9 137.7 22.4 143.0 22.2M144.7 22.2 150.0 22.3 155.0 22.8 159.8 23.5 164.5 24.5 168.7 25.7 172.8 27.1 176.5 28.9 180.0 30.9 183.1 33.1 186.0 35.6 188.7 38.3 191.1 41.3 193.4 44.8 195.4 48.4 197.3 52.5 199.1 57.0 201.9 65.8 204.3 75.9 206.5 87.9 208.5 102.3 210.1 116.1 211.7 132.3 217.3 199.7 218.7 212.8 220.1 223.7 221.7 233.1 223.5 240.8 225.6 247.2 228.1 252.4 229.6 254.8 231.2 257.0 233.1 259.0 235.0 260.6 237.3 262.2 239.8 263.6 242.5 264.8 245.7 265.9 253.1 267.7 262.0 269.1 272.8 269.9 285.1 270.3M0.0 254.3 5.3 254.1 10.3 253.7 15.4 252.9 19.9 252.0 24.3 250.7 28.4 249.2 32.2 247.5 35.6 245.5 38.7 243.2 41.6 240.7 44.2 237.9 46.6 234.9 48.9 231.5 51.0 227.8 52.9 223.7 54.7 219.1 57.5 210.1 60.0 199.7 62.2 187.4 64.2 173.2 65.8 159.3 67.3 142.9 72.9 74.8 74.3 61.9 75.6 51.2 77.2 42.0 79.0 34.4 81.1 28.2 83.5 23.1 85.1 20.7 86.8 18.6 88.7 16.7 90.8 15.0 93.2 13.4 95.9 12.1 101.9 10.0 109.6 8.3 119.2 7.1 131.0 6.4 144.2 6.1 157.4 6.4 169.2 7.1 178.8 8.3 186.5 10.0 192.5 12.1 195.2 13.4 197.6 15.0 199.7 16.7 201.6 18.6 203.3 20.7 204.9 23.1 207.3 28.2 209.4 34.4 211.2 42.0 212.8 51.2 214.1 61.9 215.5 74.8 221.1 142.9 222.6 159.3 224.2 173.2 226.2 187.4 228.4 199.7 230.9 210.1 233.7 219.1 235.5 223.7 237.4 227.8 239.5 231.5 241.8 234.9 244.2 237.9 246.8 240.7 249.7 243.2 252.8 245.5 256.2 247.5 260.0 249.2 264.1 250.7 268.5 252.0 273.0 252.9 278.1 253.7 283.1 254.1 288.4 254.3" fill="none" stroke="#fff" stroke-width="3.3" stroke-linejoin="round"/>
</defs>
<g transform="translate(281.9 267.9)">
<use href="#upo" clip-path="url(#cp)"/>
<polygon points="213.5,123.4 220.2,131.6 230.7,130.8 225.0,139.6 229.0,149.4 218.8,146.7 210.8,153.5 210.2,143.0 201.2,137.5 211.0,133.7" fill="#000"/>
<polygon points="215.4,131.8 218.6,135.3 223.3,135.2 220.9,139.3 222.5,143.7 217.9,142.7 214.2,145.6 213.7,140.9 209.7,138.3 214.1,136.4" fill="#b8ff00"/>
<rect x="0" y="0" width="288.4" height="277.0" fill="none" stroke="#222228" stroke-width="1.8"/>
</g>
<g transform="translate(591.8 267.9)">
<use href="#upo" clip-path="url(#cp)"/>
<polygon points="213.5,123.4 220.2,131.6 230.7,130.8 225.0,139.6 229.0,149.4 218.8,146.7 210.8,153.5 210.2,143.0 201.2,137.5 211.0,133.7" fill="#000"/>
<polygon points="215.4,131.8 218.6,135.3 223.3,135.2 220.9,139.3 222.5,143.7 217.9,142.7 214.2,145.6 213.7,140.9 209.7,138.3 214.1,136.4" fill="#b8ff00"/>
<rect x="0" y="0" width="288.4" height="277.0" fill="none" stroke="#222228" stroke-width="1.8"/>
</g>
<g transform="translate(901.1 267.9)">
<use href="#upo" clip-path="url(#cp)"/>
<polygon points="213.5,123.4 220.2,131.6 230.7,130.8 225.0,139.6 229.0,149.4 218.8,146.7 210.8,153.5 210.2,143.0 201.2,137.5 211.0,133.7" fill="#000"/>
<polygon points="215.4,131.8 218.6,135.3 223.3,135.2 220.9,139.3 222.5,143.7 217.9,142.7 214.2,145.6 213.7,140.9 209.7,138.3 214.1,136.4" fill="#b8ff00"/>
<rect x="0" y="0" width="288.4" height="277.0" fill="none" stroke="#222228" stroke-width="1.8"/>
</g>
<g transform="translate(1211.2 267.9)">
<use href="#upo" clip-path="url(#cp)"/>
<polygon points="213.5,123.4 220.2,131.6 230.7,130.8 225.0,139.6 229.0,149.4 218.8,146.7 210.8,153.5 210.2,143.0 201.2,137.5 211.0,133.7" fill="#000"/>
<polygon points="215.4,131.8 218.6,135.3 223.3,135.2 220.9,139.3 222.5,143.7 217.9,142.7 214.2,145.6 213.7,140.9 209.7,138.3 214.1,136.4" fill="#b8ff00"/>
<rect x="0" y="0" width="288.4" height="277.0" fill="none" stroke="#222228" stroke-width="1.8"/>
</g>
<g transform="translate(281.9 566.0)">
<use href="#upo" clip-path="url(#cp)"/>
<polygon points="140.9,139.3 147.5,147.5 158.0,146.7 152.4,155.6 156.4,165.3 146.2,162.6 138.2,169.5 137.5,159.0 128.6,153.4 138.4,149.6" fill="#000"/>
<polygon points="142.8,147.7 145.9,151.3 150.7,151.1 148.3,155.2 149.9,159.6 145.3,158.6 141.5,161.6 141.1,156.8 137.1,154.2 141.5,152.3" fill="#b8ff00"/>
<rect x="0" y="0" width="288.4" height="277.0" fill="none" stroke="#222228" stroke-width="1.8"/>
</g>
<g transform="translate(591.8 566.0)">
<use href="#upo" clip-path="url(#cp)"/>
<polygon points="140.9,139.3 147.5,147.5 158.0,146.7 152.4,155.6 156.4,165.3 146.2,162.6 138.2,169.5 137.5,159.0 128.6,153.4 138.4,149.6" fill="#000"/>
<polygon points="142.8,147.7 145.9,151.3 150.7,151.1 148.3,155.2 149.9,159.6 145.3,158.6 141.5,161.6 141.1,156.8 137.1,154.2 141.5,152.3" fill="#b8ff00"/>
<rect x="0" y="0" width="288.4" height="277.0" fill="none" stroke="#222228" stroke-width="1.8"/>
</g>
<g transform="translate(901.1 566.0)">
<use href="#upo" clip-path="url(#cp)"/>
<polygon points="140.9,139.3 147.5,147.5 158.0,146.7 152.4,155.6 156.4,165.3 146.2,162.6 138.2,169.5 137.5,159.0 128.6,153.4 138.4,149.6" fill="#000"/>
<polygon points="142.8,147.7 145.9,151.3 150.7,151.1 148.3,155.2 149.9,159.6 145.3,158.6 141.5,161.6 141.1,156.8 137.1,154.2 141.5,152.3" fill="#b8ff00"/>
<rect x="0" y="0" width="288.4" height="277.0" fill="none" stroke="#222228" stroke-width="1.8"/>
</g>
<g transform="translate(1211.2 566.0)">
<use href="#upo" clip-path="url(#cp)"/>
<polygon points="140.9,139.3 147.5,147.5 158.0,146.7 152.4,155.6 156.4,165.3 146.2,162.6 138.2,169.5 137.5,159.0 128.6,153.4 138.4,149.6" fill="#fff"/>
<polygon points="142.9,148.4 145.8,151.6 150.1,151.5 147.9,155.2 149.4,159.2 145.2,158.3 141.8,160.9 141.4,156.6 137.8,154.3 141.8,152.5" fill="#b8ff00"/>
<rect x="0" y="0" width="288.4" height="277.0" fill="none" stroke="#222228" stroke-width="1.8"/>
</g>
<text x="1.5" y="31.5" class="s" font-size="40">(a)</text>
<text x="98.5" y="922.3" class="s" font-size="40">(b)</text>
<text x="810.5" y="922.3" class="s" font-size="40">(c)</text>
<text x="361.8" y="27.4" class="s" font-size="38.5" textLength="355.0" lengthAdjust="spacingAndGlyphs" >Long-time projection</text>
<text x="376.0" y="247.7" class="d" font-size="40" textLength="101.3" lengthAdjust="spacingAndGlyphs" >Ising</text>
<text x="695.0" y="247.7" class="d" font-size="40" textLength="83.3" lengthAdjust="spacingAndGlyphs" >XXZ</text>
<text x="1046.0" y="247.7" class="d" font-size="40" text-anchor="middle">XX</text>
<text x="1356.0" y="247.7" class="d" font-size="40" text-anchor="middle">XXZ, Classical</text>
<text x="1407.0" y="31.3" class="d" font-size="40" text-anchor="middle">UPOs</text>
<rect x="1314" y="43.3" width="188" height="117" fill="#00008f"/>
<ellipse cx="1408" cy="101.6" rx="79" ry="43.5" fill="none" stroke="#fff" stroke-width="4.3"/>
<ellipse cx="1408" cy="101.6" rx="48" ry="24" fill="none" stroke="#fff" stroke-width="4.3"/>
<ellipse cx="1408" cy="101.6" rx="18" ry="10.6" fill="none" stroke="#fff" stroke-width="4.3"/>
<linearGradient id="jetg"><stop offset="0" stop-color="#00008f"/><stop offset=".11" stop-color="#00f"/><stop offset=".36" stop-color="#0ff"/><stop offset=".61" stop-color="#ff0"/><stop offset=".86" stop-color="#f00"/><stop offset="1" stop-color="#800000"/></linearGradient>
<rect x="948.5" y="74.5" width="185" height="31.5" fill="url(#jetg)" stroke="#000" stroke-width="2.6"/>
<line x1="1040.3" y1="93.0" x2="1040.3" y2="106.0" stroke="#000" stroke-width="2.4"/>
<text x="945.5" y="141.3" class="s" font-size="34.5" text-anchor="middle">0</text>
<text x="1042.0" y="141.3" class="s" font-size="34.5" text-anchor="middle">0.5</text>
<text x="1131.5" y="141.3" class="s" font-size="34.5" text-anchor="middle">1</text>
<text x="975.0" y="60.5" class="m" font-size="42" textLength="27.0" lengthAdjust="spacingAndGlyphs" >Q</text>
<line x1="978.0" y1="18.5" x2="1006.0" y2="18.5" stroke="#000" stroke-width="3.4"/>
<text x="1003.0" y="62.0" class="s" font-size="46">/</text>
<text x="1021.0" y="60.5" class="m" font-size="42" textLength="27.0" lengthAdjust="spacingAndGlyphs" >Q</text>
<line x1="1024.0" y1="18.5" x2="1052.0" y2="18.5" stroke="#000" stroke-width="3.4"/>
<text x="1048.5" y="65.3" class="s" font-size="27">max</text>
<text x="290.0" y="115.5" class="m" font-size="47">Q</text>
<line x1="294.5" y1="76.7" x2="318.8" y2="76.7" stroke="#000" stroke-width="3.2"/>
<text x="330.5" y="115.0" class="s" font-size="41">=</text>
<text x="370.7" y="115.5" class="s" font-size="46" textLength="58.2" lengthAdjust="spacingAndGlyphs" >lim</text>
<text x="362.5" y="142.5" class="m" font-size="34">t</text>
<text x="374.0" y="145.3" class="d" font-size="26" textLength="35.0" lengthAdjust="spacingAndGlyphs" >→</text>
<text x="406.5" y="143.0" class="r" font-size="36">∞</text>
<text x="462.5" y="95.8" class="s" font-size="41" text-anchor="middle">1</text>
<line x1="446.0" y1="108.0" x2="482.5" y2="108.0" stroke="#000" stroke-width="2.6"/>
<text x="463.0" y="142.5" class="m" font-size="42" text-anchor="middle">t</text>
<text x="0" y="0" font-family="DejaVu Math TeX Gyre,DejaVu Serif,serif" font-size="54" transform="translate(481.8 122.9) scale(1 1.7) skewX(-12)">∫</text>
<text x="527.0" y="57.7" class="m" font-size="34">t</text>
<text x="504.0" y="157.4" class="s" font-size="29.5" textLength="15.6" lengthAdjust="spacingAndGlyphs" >0</text>
<text x="524.0" y="115.5" class="m" font-size="47" textLength="43.0" lengthAdjust="spacingAndGlyphs" >dτ</text>
<text x="582.5" y="115.5" class="m" font-size="47">Q</text>
<text x="621" y="120" font-family="DejaVu Sans Light,DejaVu Sans,sans-serif" font-weight="200" font-size="60">(</text>
<line x1="647.5" y1="82.0" x2="647.5" y2="123.5" stroke="#000" stroke-width="3.2" stroke-linecap="round"/>
<text x="656.5" y="115.5" class="m" font-size="48">ψ</text>
<text x="691.0" y="115.5" class="r" font-size="46">(</text>
<text x="706.0" y="115.5" class="m" font-size="48">τ</text>
<text x="728.0" y="115.5" class="r" font-size="46">)</text>
<text x="749.0" y="119.0" class="d" font-size="47">⟩</text>
<text x="767.5" y="120" font-family="DejaVu Sans Light,DejaVu Sans,sans-serif" font-weight="200" font-size="60">)</text>
<line x1="1.6" y1="378.0" x2="1.6" y2="423.6" stroke="#000" stroke-width="4.4" stroke-linecap="round"/>
<text x="11.0" y="411.6" class="m" font-size="50">ψ</text>
<text x="46.0" y="421.2" class="s" font-size="22.5" textLength="15.0" lengthAdjust="spacingAndGlyphs" stroke="#000" stroke-width=".8">0</text>
<text x="65.5" y="416.7" class="d" font-size="51">⟩</text>
<text x="94.0" y="413.5" class="s" font-size="42">=</text>
<line x1="137.6" y1="381.0" x2="137.6" y2="424.5" stroke="#000" stroke-width="3.7" stroke-linecap="round"/>
<text x="150.5" y="420.0" class="s" font-size="46">IS</text>
<text x="193.5" y="428.3" class="m" font-size="42">y</text>
<text x="216.5" y="419.5" class="d" font-size="56">⟩</text>
<line x1="1.6" y1="676.5" x2="1.6" y2="722.1" stroke="#000" stroke-width="4.4" stroke-linecap="round"/>
<text x="11.0" y="710.1" class="m" font-size="50">ψ</text>
<text x="46.0" y="719.7" class="s" font-size="22.5" textLength="15.0" lengthAdjust="spacingAndGlyphs" stroke="#000" stroke-width=".8">0</text>
<text x="65.5" y="715.2" class="d" font-size="51">⟩</text>
<text x="94.0" y="712.0" class="s" font-size="42">=</text>
<line x1="137.6" y1="679.5" x2="137.6" y2="723.0" stroke="#000" stroke-width="3.7" stroke-linecap="round"/>
<text x="150.5" y="718.5" class="s" font-size="46">IS</text>
<text x="193.5" y="726.8" class="m" font-size="42">μ</text>
<text x="216.5" y="718.0" class="d" font-size="56">⟩</text>
<rect x="258.0" y="910.6" width="502.3" height="273.7" fill="none" stroke="#262626" stroke-width="2.7"/>
<line x1="320.4" y1="1184.3" x2="320.4" y2="1176.8" stroke="#262626" stroke-width="2.4"/>
<line x1="320.4" y1="910.6" x2="320.4" y2="918.1" stroke="#262626" stroke-width="2.4"/>
<text x="321.0" y="1231.3" class="s" font-size="40" text-anchor="middle">8</text>
<line x1="446.0" y1="1184.3" x2="446.0" y2="1176.8" stroke="#262626" stroke-width="2.4"/>
<line x1="446.0" y1="910.6" x2="446.0" y2="918.1" stroke="#262626" stroke-width="2.4"/>
<text x="446.6" y="1231.3" class="s" font-size="40" text-anchor="middle">12</text>
<line x1="571.6" y1="1184.3" x2="571.6" y2="1176.8" stroke="#262626" stroke-width="2.4"/>
<line x1="571.6" y1="910.6" x2="571.6" y2="918.1" stroke="#262626" stroke-width="2.4"/>
<text x="572.2" y="1231.3" class="s" font-size="40" text-anchor="middle">16</text>
<line x1="697.2" y1="1184.3" x2="697.2" y2="1176.8" stroke="#262626" stroke-width="2.4"/>
<line x1="697.2" y1="910.6" x2="697.2" y2="918.1" stroke="#262626" stroke-width="2.4"/>
<text x="697.8" y="1231.3" class="s" font-size="40" text-anchor="middle">20</text>
<line x1="258.0" y1="953.8" x2="263.0" y2="953.8" stroke="#262626" stroke-width="1.6"/>
<line x1="760.3" y1="953.8" x2="755.3" y2="953.8" stroke="#262626" stroke-width="1.6"/>
<line x1="258.0" y1="942.9" x2="263.0" y2="942.9" stroke="#262626" stroke-width="1.6"/>
<line x1="760.3" y1="942.9" x2="755.3" y2="942.9" stroke="#262626" stroke-width="1.6"/>
<line x1="258.0" y1="935.2" x2="263.0" y2="935.2" stroke="#262626" stroke-width="1.6"/>
<line x1="760.3" y1="935.2" x2="755.3" y2="935.2" stroke="#262626" stroke-width="1.6"/>
<line x1="258.0" y1="929.2" x2="263.0" y2="929.2" stroke="#262626" stroke-width="1.6"/>
<line x1="760.3" y1="929.2" x2="755.3" y2="929.2" stroke="#262626" stroke-width="1.6"/>
<line x1="258.0" y1="924.3" x2="263.0" y2="924.3" stroke="#262626" stroke-width="1.6"/>
<line x1="760.3" y1="924.3" x2="755.3" y2="924.3" stroke="#262626" stroke-width="1.6"/>
<line x1="258.0" y1="920.2" x2="263.0" y2="920.2" stroke="#262626" stroke-width="1.6"/>
<line x1="760.3" y1="920.2" x2="755.3" y2="920.2" stroke="#262626" stroke-width="1.6"/>
<line x1="258.0" y1="916.6" x2="263.0" y2="916.6" stroke="#262626" stroke-width="1.6"/>
<line x1="760.3" y1="916.6" x2="755.3" y2="916.6" stroke="#262626" stroke-width="1.6"/>
<line x1="258.0" y1="913.4" x2="263.0" y2="913.4" stroke="#262626" stroke-width="1.6"/>
<line x1="760.3" y1="913.4" x2="755.3" y2="913.4" stroke="#262626" stroke-width="1.6"/>
<line x1="258.0" y1="972.5" x2="267.0" y2="972.5" stroke="#262626" stroke-width="2.4"/>
<line x1="760.3" y1="972.5" x2="751.3" y2="972.5" stroke="#262626" stroke-width="2.4"/>
<line x1="258.0" y1="1015.7" x2="263.0" y2="1015.7" stroke="#262626" stroke-width="1.6"/>
<line x1="760.3" y1="1015.7" x2="755.3" y2="1015.7" stroke="#262626" stroke-width="1.6"/>
<line x1="258.0" y1="1004.8" x2="263.0" y2="1004.8" stroke="#262626" stroke-width="1.6"/>
<line x1="760.3" y1="1004.8" x2="755.3" y2="1004.8" stroke="#262626" stroke-width="1.6"/>
<line x1="258.0" y1="997.1" x2="263.0" y2="997.1" stroke="#262626" stroke-width="1.6"/>
<line x1="760.3" y1="997.1" x2="755.3" y2="997.1" stroke="#262626" stroke-width="1.6"/>
<line x1="258.0" y1="991.1" x2="263.0" y2="991.1" stroke="#262626" stroke-width="1.6"/>
<line x1="760.3" y1="991.1" x2="755.3" y2="991.1" stroke="#262626" stroke-width="1.6"/>
<line x1="258.0" y1="986.2" x2="263.0" y2="986.2" stroke="#262626" stroke-width="1.6"/>
<line x1="760.3" y1="986.2" x2="755.3" y2="986.2" stroke="#262626" stroke-width="1.6"/>
<line x1="258.0" y1="982.0" x2="263.0" y2="982.0" stroke="#262626" stroke-width="1.6"/>
<line x1="760.3" y1="982.0" x2="755.3" y2="982.0" stroke="#262626" stroke-width="1.6"/>
<line x1="258.0" y1="978.4" x2="263.0" y2="978.4" stroke="#262626" stroke-width="1.6"/>
<line x1="760.3" y1="978.4" x2="755.3" y2="978.4" stroke="#262626" stroke-width="1.6"/>
<line x1="258.0" y1="975.3" x2="263.0" y2="975.3" stroke="#262626" stroke-width="1.6"/>
<line x1="760.3" y1="975.3" x2="755.3" y2="975.3" stroke="#262626" stroke-width="1.6"/>
<line x1="258.0" y1="1034.3" x2="267.0" y2="1034.3" stroke="#262626" stroke-width="2.4"/>
<line x1="760.3" y1="1034.3" x2="751.3" y2="1034.3" stroke="#262626" stroke-width="2.4"/>
<line x1="258.0" y1="1077.5" x2="263.0" y2="1077.5" stroke="#262626" stroke-width="1.6"/>
<line x1="760.3" y1="1077.5" x2="755.3" y2="1077.5" stroke="#262626" stroke-width="1.6"/>
<line x1="258.0" y1="1066.6" x2="263.0" y2="1066.6" stroke="#262626" stroke-width="1.6"/>
<line x1="760.3" y1="1066.6" x2="755.3" y2="1066.6" stroke="#262626" stroke-width="1.6"/>
<line x1="258.0" y1="1058.9" x2="263.0" y2="1058.9" stroke="#262626" stroke-width="1.6"/>
<line x1="760.3" y1="1058.9" x2="755.3" y2="1058.9" stroke="#262626" stroke-width="1.6"/>
<line x1="258.0" y1="1052.9" x2="263.0" y2="1052.9" stroke="#262626" stroke-width="1.6"/>
<line x1="760.3" y1="1052.9" x2="755.3" y2="1052.9" stroke="#262626" stroke-width="1.6"/>
<line x1="258.0" y1="1048.0" x2="263.0" y2="1048.0" stroke="#262626" stroke-width="1.6"/>
<line x1="760.3" y1="1048.0" x2="755.3" y2="1048.0" stroke="#262626" stroke-width="1.6"/>
<line x1="258.0" y1="1043.9" x2="263.0" y2="1043.9" stroke="#262626" stroke-width="1.6"/>
<line x1="760.3" y1="1043.9" x2="755.3" y2="1043.9" stroke="#262626" stroke-width="1.6"/>
<line x1="258.0" y1="1040.3" x2="263.0" y2="1040.3" stroke="#262626" stroke-width="1.6"/>
<line x1="760.3" y1="1040.3" x2="755.3" y2="1040.3" stroke="#262626" stroke-width="1.6"/>
<line x1="258.0" y1="1037.1" x2="263.0" y2="1037.1" stroke="#262626" stroke-width="1.6"/>
<line x1="760.3" y1="1037.1" x2="755.3" y2="1037.1" stroke="#262626" stroke-width="1.6"/>
<line x1="258.0" y1="1096.2" x2="267.0" y2="1096.2" stroke="#262626" stroke-width="2.4"/>
<line x1="760.3" y1="1096.2" x2="751.3" y2="1096.2" stroke="#262626" stroke-width="2.4"/>
<line x1="258.0" y1="1139.4" x2="263.0" y2="1139.4" stroke="#262626" stroke-width="1.6"/>
<line x1="760.3" y1="1139.4" x2="755.3" y2="1139.4" stroke="#262626" stroke-width="1.6"/>
<line x1="258.0" y1="1128.5" x2="263.0" y2="1128.5" stroke="#262626" stroke-width="1.6"/>
<line x1="760.3" y1="1128.5" x2="755.3" y2="1128.5" stroke="#262626" stroke-width="1.6"/>
<line x1="258.0" y1="1120.8" x2="263.0" y2="1120.8" stroke="#262626" stroke-width="1.6"/>
<line x1="760.3" y1="1120.8" x2="755.3" y2="1120.8" stroke="#262626" stroke-width="1.6"/>
<line x1="258.0" y1="1114.8" x2="263.0" y2="1114.8" stroke="#262626" stroke-width="1.6"/>
<line x1="760.3" y1="1114.8" x2="755.3" y2="1114.8" stroke="#262626" stroke-width="1.6"/>
<line x1="258.0" y1="1109.9" x2="263.0" y2="1109.9" stroke="#262626" stroke-width="1.6"/>
<line x1="760.3" y1="1109.9" x2="755.3" y2="1109.9" stroke="#262626" stroke-width="1.6"/>
<line x1="258.0" y1="1105.7" x2="263.0" y2="1105.7" stroke="#262626" stroke-width="1.6"/>
<line x1="760.3" y1="1105.7" x2="755.3" y2="1105.7" stroke="#262626" stroke-width="1.6"/>
<line x1="258.0" y1="1102.1" x2="263.0" y2="1102.1" stroke="#262626" stroke-width="1.6"/>
<line x1="760.3" y1="1102.1" x2="755.3" y2="1102.1" stroke="#262626" stroke-width="1.6"/>
<line x1="258.0" y1="1099.0" x2="263.0" y2="1099.0" stroke="#262626" stroke-width="1.6"/>
<line x1="760.3" y1="1099.0" x2="755.3" y2="1099.0" stroke="#262626" stroke-width="1.6"/>
<line x1="258.0" y1="1158.0" x2="267.0" y2="1158.0" stroke="#262626" stroke-width="2.4"/>
<line x1="760.3" y1="1158.0" x2="751.3" y2="1158.0" stroke="#262626" stroke-width="2.4"/>
<line x1="258.0" y1="1182.6" x2="263.0" y2="1182.6" stroke="#262626" stroke-width="1.6"/>
<line x1="760.3" y1="1182.6" x2="755.3" y2="1182.6" stroke="#262626" stroke-width="1.6"/>
<line x1="258.0" y1="1176.6" x2="263.0" y2="1176.6" stroke="#262626" stroke-width="1.6"/>
<line x1="760.3" y1="1176.6" x2="755.3" y2="1176.6" stroke="#262626" stroke-width="1.6"/>
<line x1="258.0" y1="1171.7" x2="263.0" y2="1171.7" stroke="#262626" stroke-width="1.6"/>
<line x1="760.3" y1="1171.7" x2="755.3" y2="1171.7" stroke="#262626" stroke-width="1.6"/>
<line x1="258.0" y1="1167.6" x2="263.0" y2="1167.6" stroke="#262626" stroke-width="1.6"/>
<line x1="760.3" y1="1167.6" x2="755.3" y2="1167.6" stroke="#262626" stroke-width="1.6"/>
<line x1="258.0" y1="1164.0" x2="263.0" y2="1164.0" stroke="#262626" stroke-width="1.6"/>
<line x1="760.3" y1="1164.0" x2="755.3" y2="1164.0" stroke="#262626" stroke-width="1.6"/>
<line x1="258.0" y1="1160.8" x2="263.0" y2="1160.8" stroke="#262626" stroke-width="1.6"/>
<line x1="760.3" y1="1160.8" x2="755.3" y2="1160.8" stroke="#262626" stroke-width="1.6"/>
<text x="179.0" y="926.4" class="s" font-size="40">10</text>
<text x="224.0" y="911.8" class="s" font-size="26">-1</text>
<text x="179.0" y="1050.1" class="s" font-size="40">10</text>
<text x="224.0" y="1035.5" class="s" font-size="26">-3</text>
<text x="179.0" y="1173.8" class="s" font-size="40">10</text>
<text x="224.0" y="1159.2" class="s" font-size="26">-5</text>
<g transform="translate(160 1048) rotate(-90)">
<text x="0.0" y="0.0" class="m" font-size="50" text-anchor="middle">Q</text>
<line x1="-12.5" y1="-38.5" x2="12.5" y2="-38.5" stroke="#000" stroke-width="3.4"/>
</g>
<polyline points="320.4,932.5 446.0,979.5 571.6,1048.0 697.2,1120.5" fill="none" stroke="#0072bd" stroke-width="4.6" stroke-linejoin="round"/>
<path d="M313.4 925.5L327.4 939.5M313.4 939.5L327.4 925.5" stroke="#0072bd" stroke-width="4.2" fill="none"/>
<path d="M439.0 972.5L453.0 986.5M439.0 986.5L453.0 972.5" stroke="#0072bd" stroke-width="4.2" fill="none"/>
<path d="M564.6 1041.0L578.6 1055.0M564.6 1055.0L578.6 1041.0" stroke="#0072bd" stroke-width="4.2" fill="none"/>
<path d="M690.2 1113.5L704.2 1127.5M690.2 1127.5L704.2 1113.5" stroke="#0072bd" stroke-width="4.2" fill="none"/>
<polyline points="320.4,934.3 446.0,980.3 571.6,1048.9 697.2,1119.9" fill="none" stroke="#d95319" stroke-width="4.6" stroke-linejoin="round"/>
<path d="M313.4 927.3L327.4 941.3M313.4 941.3L327.4 927.3" stroke="#d95319" stroke-width="4.2" fill="none"/>
<path d="M439.0 973.3L453.0 987.3M439.0 987.3L453.0 973.3" stroke="#d95319" stroke-width="4.2" fill="none"/>
<path d="M564.6 1041.9L578.6 1055.9M564.6 1055.9L578.6 1041.9" stroke="#d95319" stroke-width="4.2" fill="none"/>
<path d="M690.2 1112.9L704.2 1126.9M690.2 1126.9L704.2 1112.9" stroke="#d95319" stroke-width="4.2" fill="none"/>
<polyline points="320.4,972.8 446.0,1032.0 571.6,1089.9 697.2,1158.7" fill="none" stroke="#edb120" stroke-width="4.6" stroke-linejoin="round"/>
<path d="M313.4 965.8L327.4 979.8M313.4 979.8L327.4 965.8" stroke="#edb120" stroke-width="4.2" fill="none"/>
<path d="M439.0 1025.0L453.0 1039.0M439.0 1039.0L453.0 1025.0" stroke="#edb120" stroke-width="4.2" fill="none"/>
<path d="M564.6 1082.9L578.6 1096.9M564.6 1096.9L578.6 1082.9" stroke="#edb120" stroke-width="4.2" fill="none"/>
<path d="M690.2 1151.7L704.2 1165.7M690.2 1165.7L704.2 1151.7" stroke="#edb120" stroke-width="4.2" fill="none"/>
<line x1="294.3" y1="1070.1" x2="372.4" y2="1070.1" stroke="#0072bd" stroke-width="4.6"/>
<path d="M326.5 1063.1L340.5 1077.1M326.5 1077.1L340.5 1063.1" stroke="#0072bd" stroke-width="4.2" fill="none"/>
<line x1="294.3" y1="1114.7" x2="372.4" y2="1114.7" stroke="#d95319" stroke-width="4.6"/>
<path d="M326.5 1107.7L340.5 1121.7M326.5 1121.7L340.5 1107.7" stroke="#d95319" stroke-width="4.2" fill="none"/>
<line x1="294.3" y1="1159.5" x2="372.4" y2="1159.5" stroke="#edb120" stroke-width="4.6"/>
<path d="M326.5 1152.5L340.5 1166.5M326.5 1166.5L340.5 1152.5" stroke="#edb120" stroke-width="4.2" fill="none"/>
<text x="385.5" y="1076.5" class="m" font-size="44">y</text>
<text x="411.0" y="1084.0" class="d" font-size="41">→</text>
<text x="454.5" y="1076.5" class="m" font-size="44">y</text>
<text x="385.5" y="1121.5" class="m" font-size="44">μ</text>
<text x="411.0" y="1129.0" class="d" font-size="41">→</text>
<text x="454.5" y="1121.5" class="m" font-size="44">μ</text>
<text x="385.5" y="1166.0" class="m" font-size="44">y</text>
<text x="411.0" y="1173.5" class="d" font-size="41">↔</text>
<text x="454.5" y="1166.0" class="m" font-size="44">μ</text>
<text x="375.4" y="1275.2" class="s" font-size="40" textLength="228.0" lengthAdjust="spacingAndGlyphs" >System size</text>
<text x="614.0" y="1275.2" class="m" font-size="40">N</text>
<rect x="926.9" y="910.6" width="502.8" height="273.7" fill="none" stroke="#262626" stroke-width="2.7"/>
<line x1="989.6" y1="1184.3" x2="989.6" y2="1176.8" stroke="#262626" stroke-width="2.4"/>
<line x1="989.6" y1="910.6" x2="989.6" y2="918.1" stroke="#262626" stroke-width="2.4"/>
<text x="990.0" y="1230.5" class="s" font-size="40" text-anchor="middle">8</text>
<line x1="1115.2" y1="1184.3" x2="1115.2" y2="1176.8" stroke="#262626" stroke-width="2.4"/>
<line x1="1115.2" y1="910.6" x2="1115.2" y2="918.1" stroke="#262626" stroke-width="2.4"/>
<text x="1115.6" y="1230.5" class="s" font-size="40" text-anchor="middle">12</text>
<line x1="1240.8" y1="1184.3" x2="1240.8" y2="1176.8" stroke="#262626" stroke-width="2.4"/>
<line x1="1240.8" y1="910.6" x2="1240.8" y2="918.1" stroke="#262626" stroke-width="2.4"/>
<text x="1241.2" y="1230.5" class="s" font-size="40" text-anchor="middle">16</text>
<line x1="1366.4" y1="1184.3" x2="1366.4" y2="1176.8" stroke="#262626" stroke-width="2.4"/>
<line x1="1366.4" y1="910.6" x2="1366.4" y2="918.1" stroke="#262626" stroke-width="2.4"/>
<text x="1366.8" y="1230.5" class="s" font-size="40" text-anchor="middle">20</text>
<line x1="926.9" y1="1150.1" x2="935.9" y2="1150.1" stroke="#262626" stroke-width="2.4"/>
<line x1="1429.7" y1="1150.1" x2="1420.7" y2="1150.1" stroke="#262626" stroke-width="2.4"/>
<line x1="926.9" y1="1115.9" x2="935.9" y2="1115.9" stroke="#262626" stroke-width="2.4"/>
<line x1="1429.7" y1="1115.9" x2="1420.7" y2="1115.9" stroke="#262626" stroke-width="2.4"/>
<line x1="926.9" y1="1081.7" x2="935.9" y2="1081.7" stroke="#262626" stroke-width="2.4"/>
<line x1="1429.7" y1="1081.7" x2="1420.7" y2="1081.7" stroke="#262626" stroke-width="2.4"/>
<line x1="926.9" y1="1047.5" x2="935.9" y2="1047.5" stroke="#262626" stroke-width="2.4"/>
<line x1="1429.7" y1="1047.5" x2="1420.7" y2="1047.5" stroke="#262626" stroke-width="2.4"/>
<line x1="926.9" y1="1013.2" x2="935.9" y2="1013.2" stroke="#262626" stroke-width="2.4"/>
<line x1="1429.7" y1="1013.2" x2="1420.7" y2="1013.2" stroke="#262626" stroke-width="2.4"/>
<line x1="926.9" y1="979.0" x2="935.9" y2="979.0" stroke="#262626" stroke-width="2.4"/>
<line x1="1429.7" y1="979.0" x2="1420.7" y2="979.0" stroke="#262626" stroke-width="2.4"/>
<line x1="926.9" y1="944.8" x2="935.9" y2="944.8" stroke="#262626" stroke-width="2.4"/>
<line x1="1429.7" y1="944.8" x2="1420.7" y2="944.8" stroke="#262626" stroke-width="2.4"/>
<text x="895.5" y="925.2" class="s" font-size="40" text-anchor="middle">8</text>
<text x="895.5" y="1062.0" class="s" font-size="40" text-anchor="middle">4</text>
<text x="895.5" y="1198.9" class="s" font-size="40" text-anchor="middle">0</text>
<polyline points="989.6,1030.9 1115.2,944.7 1240.8,1017.3 1366.4,1041.6" fill="none" stroke="#0072bd" stroke-width="4.6" stroke-linejoin="round"/>
<path d="M982.6 1023.9L996.6 1037.9M982.6 1037.9L996.6 1023.9" stroke="#0072bd" stroke-width="4.2" fill="none"/>
<path d="M1108.2 937.7L1122.2 951.7M1108.2 951.7L1122.2 937.7" stroke="#0072bd" stroke-width="4.2" fill="none"/>
<path d="M1233.8 1010.3L1247.8 1024.3M1233.8 1024.3L1247.8 1010.3" stroke="#0072bd" stroke-width="4.2" fill="none"/>
<path d="M1359.4 1034.6L1373.4 1048.6M1359.4 1048.6L1373.4 1034.6" stroke="#0072bd" stroke-width="4.2" fill="none"/>
<polyline points="989.6,1044.8 1115.2,957.8 1240.8,1030.9 1366.4,1034.0" fill="none" stroke="#d95319" stroke-width="4.6" stroke-linejoin="round"/>
<path d="M982.6 1037.8L996.6 1051.8M982.6 1051.8L996.6 1037.8" stroke="#d95319" stroke-width="4.2" fill="none"/>
<path d="M1108.2 950.8L1122.2 964.8M1108.2 964.8L1122.2 950.8" stroke="#d95319" stroke-width="4.2" fill="none"/>
<path d="M1233.8 1023.9L1247.8 1037.9M1233.8 1037.9L1247.8 1023.9" stroke="#d95319" stroke-width="4.2" fill="none"/>
<path d="M1359.4 1027.0L1373.4 1041.0M1359.4 1041.0L1373.4 1027.0" stroke="#d95319" stroke-width="4.2" fill="none"/>
<line x1="997.3" y1="1092.1" x2="1074.6" y2="1092.1" stroke="#0072bd" stroke-width="4.6"/>
<path d="M1029.1 1085.1L1043.1 1099.1M1029.1 1099.1L1043.1 1085.1" stroke="#0072bd" stroke-width="4.2" fill="none"/>
<line x1="997.3" y1="1146.1" x2="1074.6" y2="1146.1" stroke="#d95319" stroke-width="4.6"/>
<path d="M1029.1 1139.1L1043.1 1153.1M1029.1 1153.1L1043.1 1139.1" stroke="#d95319" stroke-width="4.2" fill="none"/>
<text x="1097.5" y="1104.5" class="r" font-size="44">(</text>
<text x="1111.0" y="1104.5" class="m" font-size="44">y</text>
<text x="1135.5" y="1112.0" class="d" font-size="41">→</text>
<text x="1174.0" y="1104.5" class="m" font-size="44">y</text>
<text x="1199.0" y="1104.5" class="r" font-size="44">)</text>
<text x="1219.5" y="1107.5" class="s" font-size="42">/</text>
<text x="1243.0" y="1104.5" class="r" font-size="44">(</text>
<text x="1257.0" y="1104.5" class="m" font-size="44">y</text>
<text x="1279.5" y="1112.0" class="d" font-size="41">↔</text>
<text x="1319.5" y="1104.5" class="m" font-size="44">μ</text>
<text x="1345.5" y="1104.5" class="r" font-size="44">)</text>
<text x="1097.5" y="1158.5" class="r" font-size="44">(</text>
<text x="1111.0" y="1158.5" class="m" font-size="44">μ</text>
<text x="1135.5" y="1166.0" class="d" font-size="41">→</text>
<text x="1174.0" y="1158.5" class="m" font-size="44">μ</text>
<text x="1199.0" y="1158.5" class="r" font-size="44">)</text>
<text x="1219.5" y="1161.5" class="s" font-size="42">/</text>
<text x="1243.0" y="1158.5" class="r" font-size="44">(</text>
<text x="1257.0" y="1158.5" class="m" font-size="44">y</text>
<text x="1279.5" y="1166.0" class="d" font-size="41">↔</text>
<text x="1319.5" y="1158.5" class="m" font-size="44">μ</text>
<text x="1345.5" y="1158.5" class="r" font-size="44">)</text>
<text x="1043.5" y="1274.8" class="s" font-size="40" textLength="228.0" lengthAdjust="spacingAndGlyphs" >System size</text>
<text x="1283.0" y="1274.8" class="m" font-size="40">N</text>
</svg></body></html>
